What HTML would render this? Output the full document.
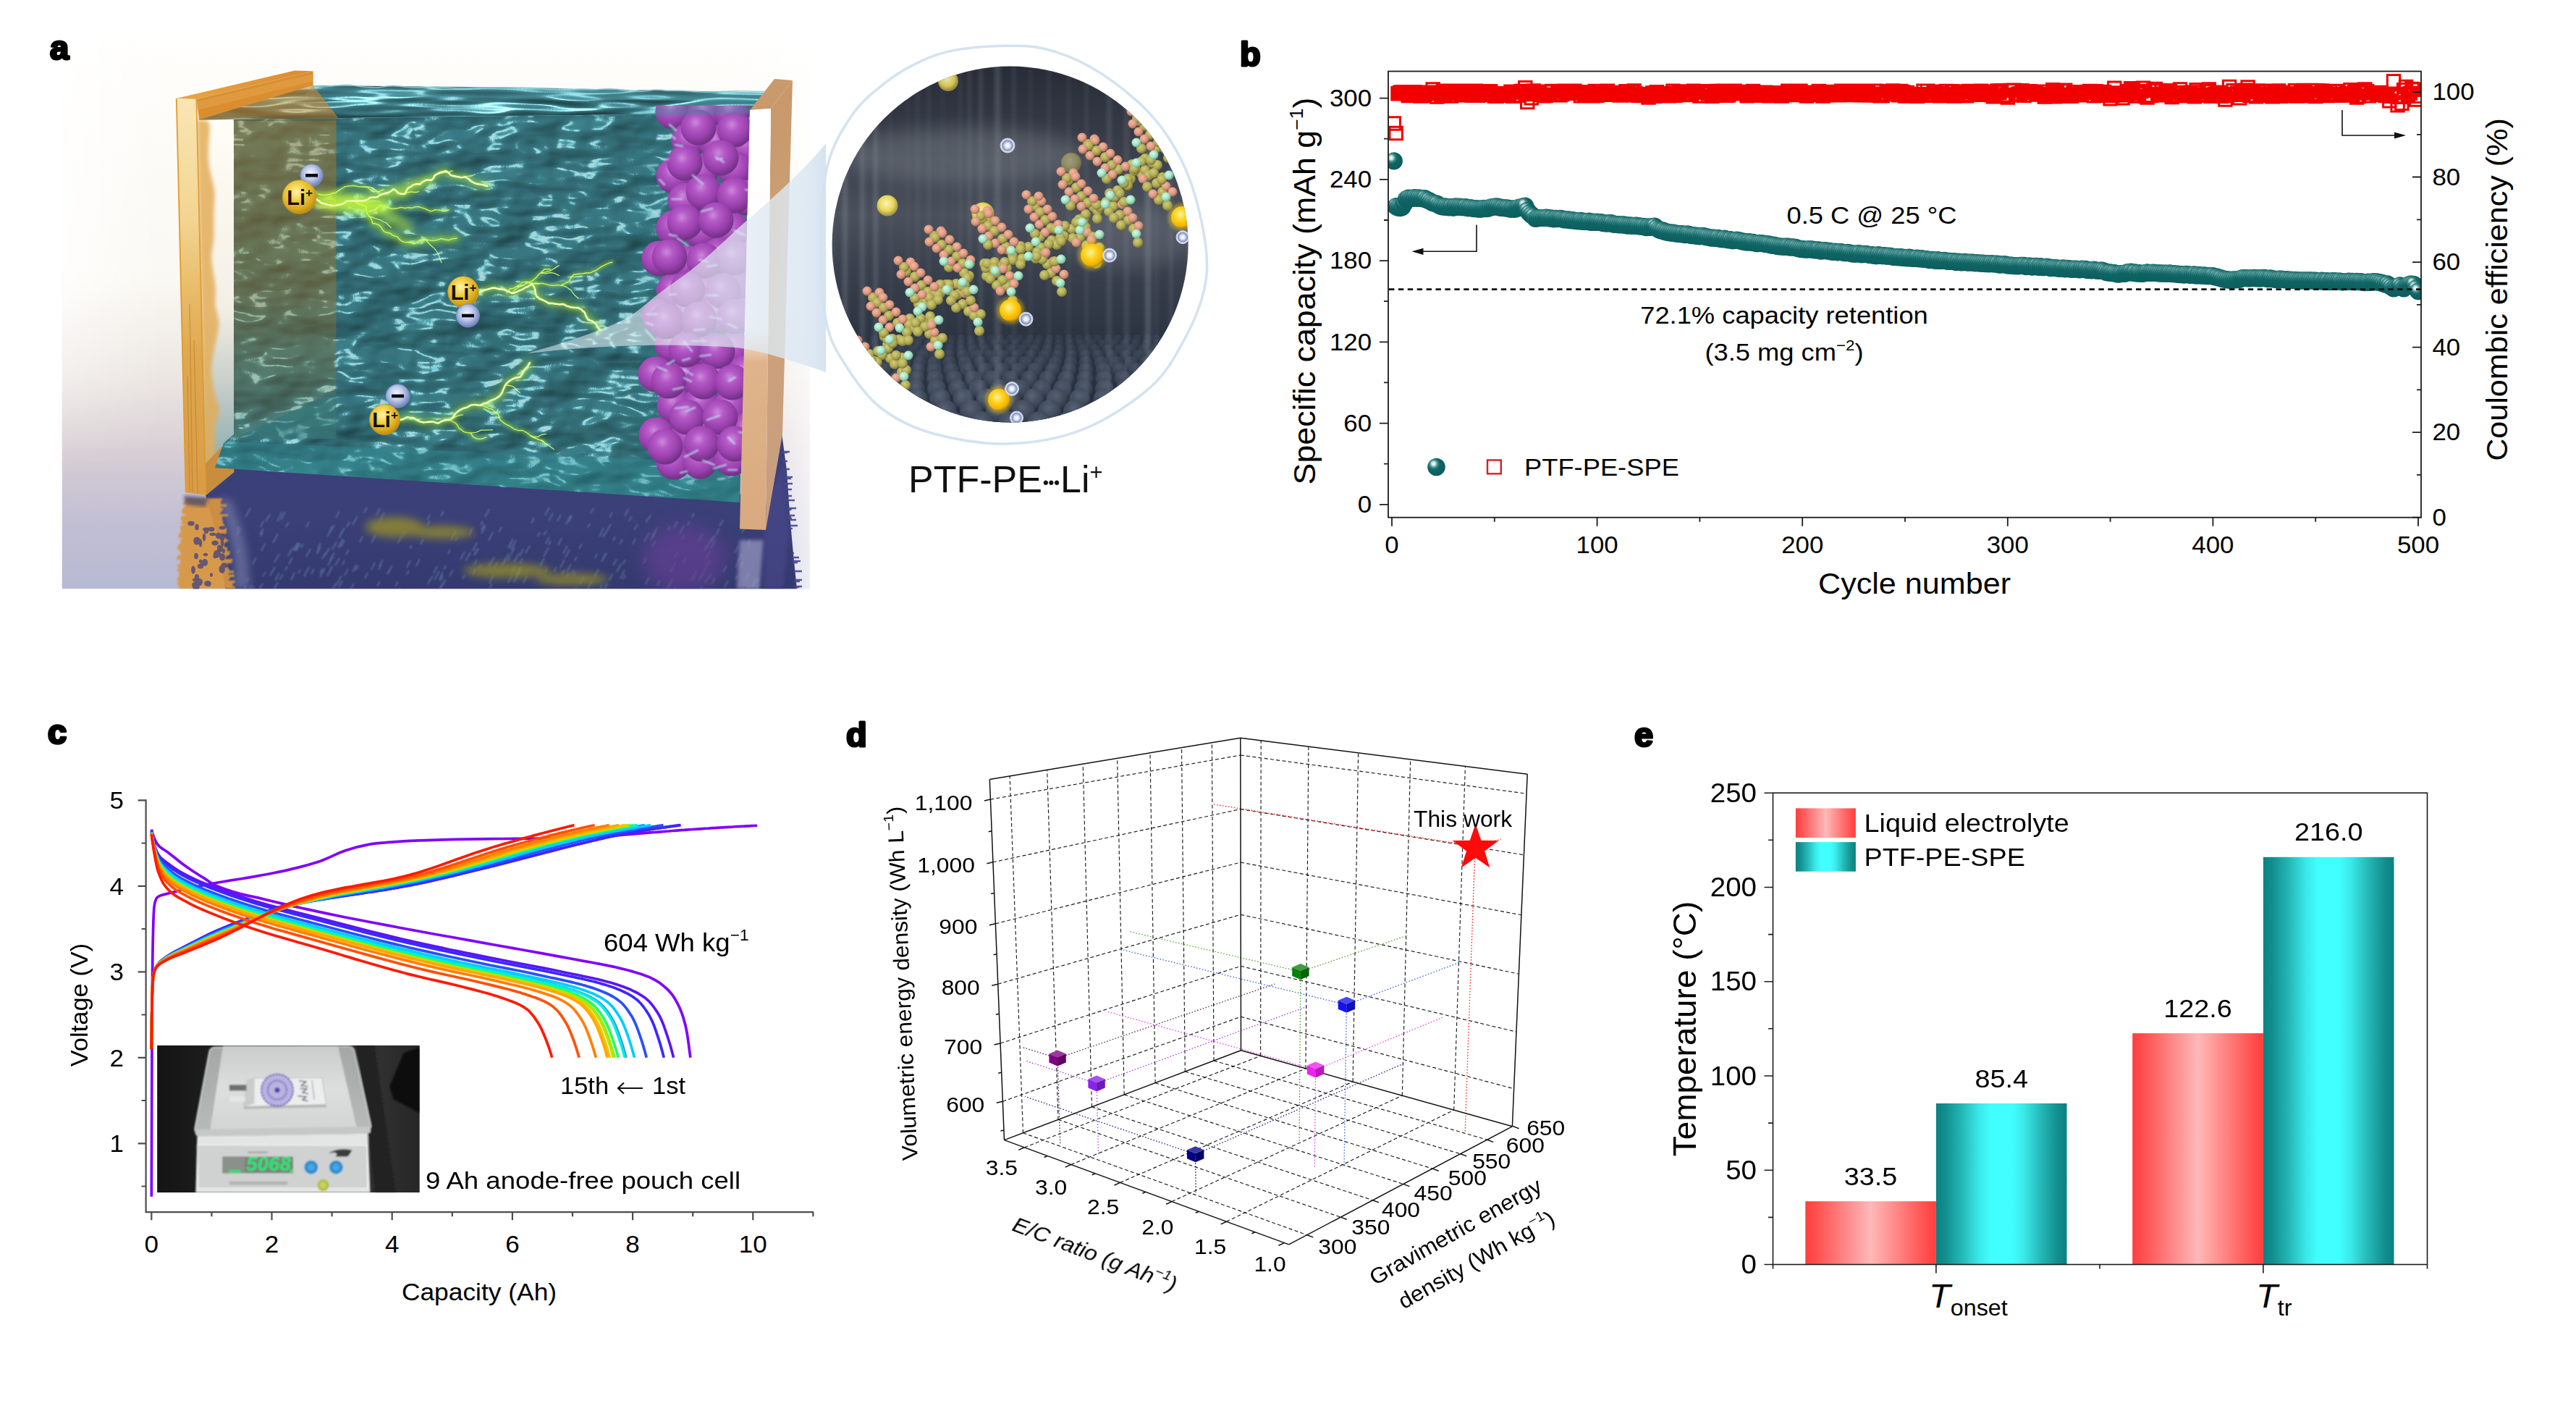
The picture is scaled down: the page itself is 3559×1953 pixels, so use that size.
<!DOCTYPE html>
<html><head><meta charset="utf-8"><title>Figure</title>
<style>html,body{margin:0;padding:0;background:#fff;overflow:hidden}svg{display:block}text{font-family:"Liberation Sans",sans-serif}</style>
</head><body>
<svg width="3559" height="1953" viewBox="0 0 3559 1953">
<rect width="3559" height="1953" fill="#fff"/>
<g font-family="Liberation Sans, sans-serif">
<defs><clipPath id="aimg"><rect x="85.5" y="47" width="1033" height="766.4"/></clipPath><linearGradient id="abg" x1="0" y1="0" x2="0" y2="1"><stop offset="0" stop-color="#ffffff"/><stop offset="0.07" stop-color="#fefdfa"/><stop offset="0.45" stop-color="#faf8f2"/><stop offset="0.62" stop-color="#ece6e2"/><stop offset="0.76" stop-color="#d6cdd4"/><stop offset="0.88" stop-color="#c2bfd4"/><stop offset="1" stop-color="#b7b9d3"/></linearGradient><linearGradient id="aleft" x1="0" y1="0" x2="1" y2="0"><stop offset="0" stop-color="#fff" stop-opacity="0.75"/><stop offset="1" stop-color="#fff" stop-opacity="0"/></linearGradient><linearGradient id="amkg" x1="0" y1="0" x2="0" y2="1"><stop offset="0" stop-color="#fff"/><stop offset="0.42" stop-color="#fff"/><stop offset="0.78" stop-color="#000"/><stop offset="1" stop-color="#000"/></linearGradient><linearGradient id="anavy" x1="0" y1="0" x2="0" y2="1"><stop offset="0" stop-color="#3a3f7a"/><stop offset="0.5" stop-color="#3b4079"/><stop offset="1" stop-color="#343a6e"/></linearGradient><linearGradient id="apf" x1="0" y1="0" x2="0" y2="1"><stop offset="0" stop-color="#f9e6b4"/><stop offset="0.3" stop-color="#f3d592"/><stop offset="0.5" stop-color="#e8ba66"/><stop offset="0.65" stop-color="#dfa84f"/><stop offset="1" stop-color="#d99c45"/></linearGradient><linearGradient id="atopf" x1="0" y1="1" x2="1" y2="0"><stop offset="0" stop-color="#e8a545"/><stop offset="1" stop-color="#db8c2c"/></linearGradient><linearGradient id="asliv" x1="0" y1="0" x2="0" y2="1"><stop offset="0" stop-color="#fffdf6"/><stop offset="0.5" stop-color="#f4efe6"/><stop offset="0.7" stop-color="#c9cfca"/><stop offset="0.9" stop-color="#8fb0b2"/><stop offset="1" stop-color="#6fa0a4"/></linearGradient><linearGradient id="aliqf" x1="0" y1="0" x2="0" y2="1"><stop offset="0" stop-color="#3d8590"/><stop offset="0.12" stop-color="#34747f"/><stop offset="0.5" stop-color="#2d6872"/><stop offset="0.85" stop-color="#33767f"/><stop offset="1" stop-color="#3a8892"/></linearGradient><linearGradient id="aliqt" x1="0" y1="0" x2="0" y2="1"><stop offset="0" stop-color="#4a9aa6"/><stop offset="0.4" stop-color="#357f8b"/><stop offset="1" stop-color="#2b727c"/></linearGradient><linearGradient id="arpf" x1="0" y1="0" x2="0" y2="1"><stop offset="0" stop-color="#ffffff"/><stop offset="0.52" stop-color="#fffdfa"/><stop offset="0.6" stop-color="#dfb48c"/><stop offset="1" stop-color="#d9a97f"/></linearGradient><linearGradient id="arps" x1="0" y1="0" x2="0" y2="1"><stop offset="0" stop-color="#c8986a"/><stop offset="0.5" stop-color="#cda27a"/><stop offset="1" stop-color="#c79d80"/></linearGradient><radialGradient id="apur" cx="0.42" cy="0.36" r="0.62"><stop offset="0" stop-color="#e08ae4"/><stop offset="0.3" stop-color="#c455cd"/><stop offset="0.7" stop-color="#a83ab3"/><stop offset="1" stop-color="#7c2a88"/></radialGradient><radialGradient id="ali" cx="0.42" cy="0.35" r="0.65"><stop offset="0" stop-color="#fff3a8"/><stop offset="0.4" stop-color="#f0cf45"/><stop offset="0.8" stop-color="#d8a71e"/><stop offset="1" stop-color="#b98a14"/></radialGradient><radialGradient id="aan" cx="0.45" cy="0.4" r="0.6"><stop offset="0" stop-color="#f4f7ff"/><stop offset="0.45" stop-color="#c3cdec"/><stop offset="0.8" stop-color="#8d9cd0"/><stop offset="1" stop-color="#6c7cb8"/></radialGradient><linearGradient id="abrn" x1="0" y1="0" x2="0" y2="1"><stop offset="0" stop-color="#b07a26" stop-opacity="0.5"/><stop offset="0.55" stop-color="#a87624" stop-opacity="0.4"/><stop offset="1" stop-color="#8a7a40" stop-opacity="0.18"/></linearGradient><linearGradient id="acone" x1="0" y1="0" x2="1" y2="0"><stop offset="0" stop-color="#eef3f6" stop-opacity="0.5"/><stop offset="0.5" stop-color="#e6eef4" stop-opacity="0.62"/><stop offset="0.93" stop-color="#dbe7f2" stop-opacity="0.85"/><stop offset="1" stop-color="#d3e2f0" stop-opacity="0.95"/></linearGradient><filter id="awf" x="0" y="0" width="1" height="1" color-interpolation-filters="sRGB"><feTurbulence type="fractalNoise" baseFrequency="0.0105 0.02" numOctaves="3" seed="9" result="n"/><feSpecularLighting in="n" surfaceScale="27" specularConstant="1.2" specularExponent="60" lighting-color="#bfe9ee" result="spec"><feDistantLight azimuth="225" elevation="47"/></feSpecularLighting><feDiffuseLighting in="n" surfaceScale="15" diffuseConstant="1.0" lighting-color="#4a949f" result="diff"><feDistantLight azimuth="225" elevation="52"/></feDiffuseLighting><feFlood flood-color="#2a626c" result="fl"/><feComposite in="diff" in2="fl" operator="arithmetic" k1="0" k2="0.72" k3="0.28" k4="0" result="base"/><feComposite in="spec" in2="base" operator="arithmetic" k1="0" k2="0.8" k3="1" k4="0"/></filter><filter id="awt" x="0" y="0" width="1" height="1" color-interpolation-filters="sRGB"><feTurbulence type="fractalNoise" baseFrequency="0.008 0.05" numOctaves="2" seed="21" result="n"/><feSpecularLighting in="n" surfaceScale="14" specularConstant="1.0" specularExponent="40" lighting-color="#d2f2f6" result="spec"><feDistantLight azimuth="250" elevation="48"/></feSpecularLighting><feDiffuseLighting in="n" surfaceScale="10" diffuseConstant="1.0" lighting-color="#4a8f99" result="diff"><feDistantLight azimuth="250" elevation="58"/></feDiffuseLighting><feFlood flood-color="#2c6b76" result="fl"/><feComposite in="diff" in2="fl" operator="arithmetic" k1="0" k2="0.7" k3="0.3" k4="0" result="base"/><feComposite in="spec" in2="base" operator="arithmetic" k1="0" k2="0.7" k3="1" k4="0"/></filter><filter id="ab1" x="-10%" y="-10%" width="120%" height="120%"><feGaussianBlur stdDeviation="1.1"/></filter><filter id="ab2" x="-10%" y="-10%" width="120%" height="120%"><feGaussianBlur stdDeviation="2.5"/></filter><filter id="ab5" x="-20%" y="-20%" width="140%" height="140%"><feGaussianBlur stdDeviation="6"/></filter><filter id="ab12" x="-30%" y="-30%" width="160%" height="160%"><feGaussianBlur stdDeviation="13"/></filter></defs>
<g clip-path="url(#aimg)">
<rect x="85.5" y="47" width="1033" height="766.4" fill="url(#abg)"/>
<mask id="amk" maskUnits="userSpaceOnUse" x="80" y="40" width="200" height="780"><rect x="80" y="40" width="200" height="780" fill="url(#amkg)"/></mask>
<rect x="85.5" y="47" width="150" height="766.4" fill="url(#aleft)" mask="url(#amk)"/>
<rect x="85.5" y="47" width="120" height="766.4" fill="url(#aleft)" transform="translate(1204 0) scale(-1 1)"/>
<path d="M284 684L323 640L1022 682L1058 700L1080 598L1087 650L1091 710L1096 765L1101 813.4L311 813.4L298.5 734Z" fill="url(#anavy)"/>
<path d="M300 690Q330 760 322 813.4L345 813.4Q345 750 318 690Z" fill="#8a90b8" opacity="0.5" filter="url(#ab5)"/>
<path d="M650 763l-7 12M660 757l-5 10M455 757l-6 10M899 711l-4 7M386 791l-6 11M351 810l-7 13M797 769l-3 6M331 759l-3 5M459 727l-3 5M659 749l-6 12M699 772l-5 9M804 751l-4 7M1048 812l-6 12M837 735l-4 7M531 708l-6 11M612 795l-4 8M1019 795l-3 5M473 802l-5 9M1036 745l-3 6M780 787l-4 7M384 737l-7 13M873 713l-4 7M394 707l-6 11M450 763l-5 9M459 782l-3 6M790 713l-5 8M475 730l-7 13M906 734l-7 12M474 744l-7 12M789 711l-7 13M476 729l-6 11M560 733l-3 6M386 765l-4 7M759 742l-5 9M1020 754l-5 10M953 720l-3 6M983 792l-4 7M459 783l-7 13M464 806l-7 12M761 747l-3 6M348 808l-4 7M834 729l-6 12M755 733l-4 6M846 708l-4 7M728 795l-5 10M525 803l-4 7M332 730l-5 9M364 720l-4 8M738 715l-4 8M970 810l-6 10M825 765l-3 6M346 702l-7 12M832 808l-3 5M784 754l-6 11M553 812l-3 6M719 783l-7 12M858 779l-6 11M988 739l-6 10M978 798l-5 8M897 797l-5 10M776 743l-5 10M764 709l-6 10M1045 799l-6 11M604 782l-5 10M642 794l-3 6M868 703l-5 10M671 726l-6 11M683 769l-7 12M507 701l-4 7M815 723l-3 6M981 774l-5 9M971 737l-6 10M465 748l-6 11M987 799l-4 8M746 735l-3 6M682 794l-6 12M839 806l-4 7M443 750l-4 7M476 746l-6 10M681 735l-6 12M1037 751l-3 6M343 798l-3 5M837 764l-4 7M419 751l-3 5M926 727l-3 6M354 770l-5 9M780 773l-6 11M1020 777l-4 7M667 720l-3 5M665 780l-4 6M519 739l-6 11M700 769l-6 11M607 789l-7 12M384 804l-6 11M415 751l-6 10M984 742l-5 10M962 789l-7 13M659 773l-4 7M847 792l-6 10M844 724l-7 12M1036 809l-5 9M897 736l-7 12M945 739l-3 6M642 762l-6 11M676 703l-6 11M367 790l-4 6M565 788l-3 6M429 758l-6 11M933 777l-7 13M680 806l-3 6M482 759l-4 7M852 772l-5 9M936 763l-4 7M598 795l-7 12M472 795l-7 13M703 764l-4 7M711 756l-5 10M340 809l-5 9M612 790l-5 10M678 777l-3 6M713 746l-7 13M994 730l-5 9M413 749l-6 12M977 753l-4 8M460 769l-7 12M415 787l-3 5M462 725l-6 10M555 740l-5 10M397 782l-3 6M693 728l-4 7M707 749l-4 8M622 759l-3 6M469 771l-6 10M707 795l-5 10M945 726l-6 11M912 801l-4 8M550 803l-4 7M1049 799l-3 6M495 781l-4 7M391 793l-5 8M897 714l-5 8M820 702l-4 7M818 802l-7 13M404 757l-6 11M687 777l-4 7M372 712l-3 5M723 758l-5 10M427 721l-4 7M933 811l-7 12M390 707l-7 13M657 786l-4 8M661 758l-5 8M759 701l-6 11M936 720l-5 9M860 745l-4 7M441 757l-3 5M972 790l-6 11M948 770l-5 8M758 756l-7 13M908 729l-7 12M863 787l-6 12M616 800l-7 12M827 786l-6 11M616 781l-3 6M569 753l-3 5M580 772l-5 10M489 806l-6 10M567 774l-5 10M709 744l-7 13M789 779l-6 11M769 783l-4 7M613 706l-4 7M594 711l-4 7M981 762l-5 9M1026 764l-7 13M786 791l-3 6M756 785l-3 5M999 718l-5 9M443 755l-5 10M363 806l-5 8M705 767l-4 8M529 773l-5 9M527 780l-4 7M330 727l-3 5M434 785l-4 8M975 784l-3 5M1042 806l-3 6M981 748l-5 9M1030 727l-5 9M1004 781l-5 9M1035 791l-5 10M404 770l-5 9M469 706l-5 9M411 750l-6 10M653 729l-5 10M626 787l-5 9M1048 807l-6 11M494 713l-7 12M893 770l-4 8M518 777l-5 10M752 771l-6 11M459 728l-7 13M988 798l-3 5M364 730l-5 8M775 711l-5 9M373 710l-6 10M722 771l-4 8M669 724l-4 8M864 794l-3 6M407 791l-5 10M881 724l-5 8M508 791l-4 8M797 811l-4 8M720 784l-7 12M632 741l-3 6M959 709l-3 6M732 754l-6 10M538 787l-3 6M476 774l-3 6M542 781l-6 11M527 716l-4 8M850 741l-3 6M838 764l-7 12M1006 802l-5 9M906 734l-4 8M612 805l-7 12M501 741l-4 8M585 744l-4 8M462 763l-6 11M715 794l-5 10M449 785l-7 12M525 702l-5 9M717 764l-7 13M795 790l-3 6M719 788l-3 6M380 783l-7 12M382 771l-3 6M864 773l-4 7M481 786l-5 9M878 744l-4 8M1027 775l-5 9M712 781l-6 11M988 746l-6 12M807 796l-6 11M929 800l-7 13M787 759l-6 11M906 747l-5 8M427 783l-7 13M594 719l-4 7M630 733l-7 13M363 735l-3 6M793 787l-4 6M366 751l-5 10M399 721l-4 7M492 780l-5 10M483 721l-4 7M446 785l-4 7" stroke="#6f8fb0" stroke-width="2" opacity="0.5" fill="none" filter="url(#ab1)"/>
<g filter="url(#ab5)" fill="#9a9226" opacity="0.75"><ellipse cx="545" cy="728" rx="40" ry="14"/><ellipse cx="610" cy="735" rx="45" ry="9"/><ellipse cx="700" cy="788" rx="60" ry="10"/><ellipse cx="790" cy="800" rx="50" ry="8"/></g>
<g filter="url(#ab12)" fill="#6a3f98" opacity="0.62"><ellipse cx="945" cy="772" rx="58" ry="46"/></g>
<path d="M1089 718h11M1087 704h6M1096 789h12M1085 676h9M1097 803h8M1082 651h4M1097 801h11M1085 685h9M1088 712h6M1098 810h10M1083 654h4M1087 703h7M1094 770h10M1090 730h5M1081 637h7M1083 659h12M1088 712h10M1098 811h6M1089 716h5M1093 764h4M1094 775h12M1094 775h5M1083 661h10M1080 625h8M1087 702h13M1090 726h12M1084 668h11M1086 691h12M1080 624h11M1082 648h9M1088 714h5M1095 777h7M1084 669h5M1084 668h8" stroke="#45478a" stroke-width="2.4" fill="none" opacity="0.9"/>
<path d="M1022 746L1055 746L1049 813.4L1018 813.4Z" fill="#aaa6cf" opacity="0.62" filter="url(#ab2)"/>
<path d="M1056 700L1082 640L1090 740L1082 813.4L1056 813.4Z" fill="#4d4a8e" opacity="0.55" filter="url(#ab2)"/>

<path d="M256 690.0H307M255 692.7H305M253 695.4H305M257 698.1H313M254 700.8H305M252 703.5H308M251 706.2H306M252 708.9H304M256 711.6H315M250 714.3H307M250 717.0H307M252 719.7H308M250 722.4H308M253 725.1H310M249 727.8H310M249 730.5H313M251 733.2H313M249 735.9H313M247 738.6H306M247 741.3H310M251 744.0H312M249 746.7H315M250 749.4H311M247 752.1H309M246 754.8H310M245 757.5H314M248 760.2H314M249 762.9H318M251 765.6H317M246 768.3H313M244 771.0H311M249 773.7H321M249 776.4H320M248 779.1H314M245 781.8H314M248 784.5H315M245 787.2H317M248 789.9H323M247 792.6H316M248 795.3H324M246 798.0H318M245 800.7H316M247 803.4H325M245 806.1H322M247 808.8H321M248 811.5H325" stroke="#d8963f" stroke-width="3.4" opacity="0.92" filter="url(#ab1)"/>
<g fill="#4a467c" opacity="0.8"><ellipse cx="272" cy="728" rx="2.7" ry="4.3"/><ellipse cx="297" cy="750" rx="4.8" ry="3.4"/><ellipse cx="285" cy="731" rx="4.9" ry="2.5"/><ellipse cx="307" cy="770" rx="3.7" ry="4.2"/><ellipse cx="275" cy="804" rx="5.0" ry="5.3"/><ellipse cx="292" cy="731" rx="4.5" ry="3.2"/><ellipse cx="307" cy="742" rx="3.7" ry="5.3"/><ellipse cx="271" cy="770" rx="2.2" ry="2.1"/><ellipse cx="271" cy="811" rx="4.8" ry="4.6"/><ellipse cx="277" cy="782" rx="4.2" ry="3.5"/><ellipse cx="292" cy="794" rx="2.0" ry="2.8"/><ellipse cx="285" cy="733" rx="3.2" ry="4.3"/><ellipse cx="271" cy="768" rx="2.8" ry="4.3"/><ellipse cx="279" cy="779" rx="2.1" ry="4.7"/><ellipse cx="269" cy="808" rx="3.8" ry="3.9"/><ellipse cx="283" cy="777" rx="4.1" ry="5.0"/><ellipse cx="300" cy="765" rx="5.0" ry="5.4"/><ellipse cx="305" cy="758" rx="3.3" ry="4.3"/><ellipse cx="307" cy="768" rx="3.6" ry="3.7"/><ellipse cx="307" cy="750" rx="2.2" ry="4.9"/><ellipse cx="307" cy="787" rx="3.8" ry="5.0"/><ellipse cx="277" cy="775" rx="2.2" ry="2.5"/><ellipse cx="284" cy="766" rx="3.2" ry="2.2"/><ellipse cx="297" cy="768" rx="2.7" ry="3.2"/><ellipse cx="282" cy="742" rx="2.2" ry="5.6"/><ellipse cx="310" cy="781" rx="4.6" ry="3.7"/><ellipse cx="302" cy="740" rx="4.2" ry="4.3"/><ellipse cx="307" cy="729" rx="4.4" ry="2.5"/><ellipse cx="289" cy="807" rx="2.0" ry="3.0"/><ellipse cx="277" cy="750" rx="2.2" ry="5.6"/><ellipse cx="303" cy="757" rx="3.1" ry="4.3"/><ellipse cx="264" cy="723" rx="4.7" ry="3.2"/><ellipse cx="287" cy="806" rx="4.9" ry="3.9"/><ellipse cx="272" cy="747" rx="4.8" ry="5.6"/><ellipse cx="272" cy="797" rx="3.1" ry="3.9"/><ellipse cx="271" cy="801" rx="5.0" ry="2.8"/><ellipse cx="294" cy="738" rx="4.6" ry="2.2"/><ellipse cx="267" cy="787" rx="2.9" ry="5.6"/><ellipse cx="305" cy="786" rx="2.4" ry="4.8"/><ellipse cx="309" cy="761" rx="2.2" ry="2.9"/></g>
<path d="M254 684L288 687L284 700L256 697Z" fill="#3a3f6e" opacity="0.7" filter="url(#ab2)"/>
<polygon points="271.9,164 323,164 323,602 309,612 297,646 323.4,652 284.8,683.7" fill="url(#asliv)"/>
<path d="M273.0 166.0C275.6 166.7 286.2 163.5 288.8 170.0C291.3 176.5 288.1 194.8 288.1 204.8C288.2 214.8 287.7 220.2 289.1 230.0C290.5 239.9 295.4 253.6 296.4 264.0C297.5 274.5 295.7 281.6 295.5 292.7C295.3 303.8 295.9 320.0 295.4 330.6C294.9 341.3 292.1 346.0 292.4 356.8C292.8 367.6 296.7 384.5 297.6 395.4C298.5 406.4 297.0 414.0 297.8 422.4C298.6 430.9 302.4 437.1 302.4 446.0C302.4 455.0 299.2 465.7 297.5 476.0C295.9 486.2 292.6 496.8 292.4 507.5C292.1 518.2 294.2 530.4 295.9 540.3C297.6 550.2 302.5 558.5 302.7 566.8C302.8 575.2 297.8 580.5 296.9 590.4C296.0 600.3 298.0 616.1 297.2 626.0C296.3 635.9 292.9 646.0 292.0 650.0L284 683L272 166Z" fill="#e3ad58" opacity="0.85" filter="url(#ab2)"/>
<polygon points="271.9,137 432.6,98.3 432.6,119 275,166" fill="#da8e30"/>
<polygon points="271.9,140 432.6,102 432.6,112 273,152" fill="#e3a24a" opacity="0.6"/>
<polygon points="243.2,136 407,97.4 432.6,98.3 271.9,137" fill="url(#atopf)"/>
<polygon points="284.8,683.7 323.4,652 323,600 284,640" fill="#c98d3e"/>
<polygon points="243.2,136 271.9,137 284.8,683.7 256.3,680.5" fill="url(#apf)"/>
<path d="M243.8 136L256.8 680M271.4 137L284.2 683" stroke="#e09a2e" stroke-width="2" fill="none" opacity="0.9"/>
<path d="M262 420L266 680M268 470L273 682M259 520L262 680" stroke="#b97a28" stroke-width="1.4" fill="none" opacity="0.55"/>
<clipPath id="alf"><polygon points="323.0,165.0 1036.0,156.0 1022.0,694.0 297.0,646.0 309.0,612.0 323.0,600.0"/></clipPath><clipPath id="alt"><polygon points="432.6,118.0 700.0,120.5 1062.0,128.0 1036.0,156.0 275.0,165.5"/></clipPath><g clip-path="url(#alt)"><rect x="270" y="112" width="800" height="60" filter="url(#awt)"/><polygon points="432.6,118 1062,128 1040,140 420,132" fill="#5aa7b2" opacity="0.35"/><polygon points="271.9,137 432.6,98 432.6,118 470,166 275,166" fill="#d98c30" opacity="0.55"/></g><g clip-path="url(#alf)"><rect x="290" y="150" width="760" height="560" filter="url(#awf)"/><rect x="290" y="150" width="760" height="560" fill="url(#aliqf)" opacity="0.30"/><rect x="323" y="160" width="141.5" height="446" fill="url(#abrn)"/><path d="M323 606L464.5 540V606Z" fill="#2a7680" opacity="0.5"/><path d="M297 646L309 610L1022 640V694Z" fill="#2f8b94" opacity="0.35"/></g><path d="M323 166L1036 157" stroke="#1d4f58" stroke-width="5" opacity="0.45" filter="url(#ab2)"/><path d="M432.0 118.2C434.8 118.4 441.2 119.7 449.0 119.5C456.8 119.4 470.3 117.1 478.8 117.2C487.3 117.2 493.2 119.2 500.2 119.8C507.1 120.4 513.3 120.9 520.3 120.7C527.4 120.5 534.8 118.6 542.3 118.6C549.8 118.5 558.1 120.0 565.2 120.4C572.3 120.8 577.3 120.7 585.0 120.7C592.7 120.8 603.4 120.4 611.5 120.7C619.6 120.9 625.8 121.9 633.6 122.0C641.4 122.1 649.5 121.6 658.5 121.4C667.6 121.1 678.5 120.7 687.8 120.7C697.0 120.6 705.9 120.9 714.2 121.0C722.6 121.2 730.5 121.2 738.0 121.6C745.4 122.0 751.1 123.2 759.0 123.6C767.0 124.0 778.2 124.1 785.6 124.1C793.0 124.0 797.5 123.4 803.4 123.4C809.3 123.3 814.3 124.0 820.9 123.9C827.5 123.7 835.3 122.3 842.9 122.5C850.5 122.7 858.7 124.4 866.4 125.0C874.2 125.5 882.9 126.0 889.6 125.8C896.3 125.6 901.3 123.9 906.5 123.8C911.7 123.6 914.9 124.8 920.8 125.1C926.6 125.3 935.2 124.9 941.7 125.2C948.3 125.5 954.4 126.3 959.9 126.6C965.5 126.9 968.7 127.2 975.1 127.2C981.5 127.1 989.9 126.6 998.2 126.3C1006.5 126.1 1017.7 125.8 1024.9 125.8C1032.0 125.7 1036.0 126.1 1041.2 126.2C1046.4 126.3 1053.4 126.4 1055.9 126.5" stroke="#8fc9d2" stroke-width="1.6" fill="none" opacity="0.9"/>
<clipPath id="asp"><polygon points="870,146 1037,146 1024,676 870,672"/></clipPath><defs><circle id="aps" r="24.5" fill="url(#apur)"/></defs><g clip-path="url(#asp)"><use href="#aps" x="930" y="154"/><use href="#aps" x="974" y="155"/><use href="#aps" x="1011" y="155"/><use href="#aps" x="952" y="194"/><use href="#aps" x="991" y="197"/><use href="#aps" x="1032" y="203"/><use href="#aps" x="931" y="243"/><use href="#aps" x="968" y="238"/><use href="#aps" x="1015" y="233"/><use href="#aps" x="947" y="277"/><use href="#aps" x="990" y="277"/><use href="#aps" x="1031" y="273"/><use href="#aps" x="931" y="315"/><use href="#aps" x="969" y="319"/><use href="#aps" x="1011" y="318"/><use href="#aps" x="911" y="357"/><use href="#aps" x="949" y="363"/><use href="#aps" x="993" y="353"/><use href="#aps" x="1033" y="359"/><use href="#aps" x="931" y="402"/><use href="#aps" x="972" y="402"/><use href="#aps" x="1013" y="397"/><use href="#aps" x="911" y="437"/><use href="#aps" x="952" y="435"/><use href="#aps" x="991" y="435"/><use href="#aps" x="1034" y="435"/><use href="#aps" x="929" y="476"/><use href="#aps" x="971" y="483"/><use href="#aps" x="1014" y="482"/><use href="#aps" x="906" y="517"/><use href="#aps" x="947" y="520"/><use href="#aps" x="991" y="516"/><use href="#aps" x="1030" y="515"/><use href="#aps" x="932" y="560"/><use href="#aps" x="969" y="557"/><use href="#aps" x="1010" y="562"/><use href="#aps" x="907" y="601"/><use href="#aps" x="952" y="602"/><use href="#aps" x="988" y="596"/><use href="#aps" x="1033" y="594"/><use href="#aps" x="931" y="638"/><use href="#aps" x="967" y="637"/><use href="#aps" x="1011" y="633"/><use href="#aps" x="965" y="176"/><use href="#aps" x="1015" y="179"/><use href="#aps" x="946" y="225"/><use href="#aps" x="996" y="218"/><use href="#aps" x="972" y="265"/><use href="#aps" x="1015" y="270"/><use href="#aps" x="946" y="307"/><use href="#aps" x="989" y="304"/><use href="#aps" x="925" y="355"/><use href="#aps" x="973" y="360"/><use href="#aps" x="1014" y="356"/><use href="#aps" x="950" y="400"/><use href="#aps" x="999" y="402"/><use href="#aps" x="921" y="444"/><use href="#aps" x="966" y="441"/><use href="#aps" x="1015" y="437"/><use href="#aps" x="948" y="483"/><use href="#aps" x="991" y="485"/><use href="#aps" x="924" y="526"/><use href="#aps" x="972" y="527"/><use href="#aps" x="1012" y="528"/><use href="#aps" x="949" y="576"/><use href="#aps" x="995" y="576"/><use href="#aps" x="919" y="617"/><use href="#aps" x="969" y="613"/><use href="#aps" x="1015" y="613"/></g><path d="M959 456l14 -1M925 172l9 8M969 292l15 -4M956 471l19 -0M971 636l16 6M977 368l13 -2M1006 604l9 9M895 229l14 -1M940 653l9 -2M922 503l9 -5M966 359l11 2M981 437l15 4M1006 649l12 -0M1014 318l15 7M986 647l17 -5M977 408l15 -0M930 538l14 -3M925 324l10 2M908 192l8 -3M989 217l11 7M957 242l14 12M897 288l12 8M945 522l10 5M936 329l14 10M1006 447l12 6M977 580l17 -6M943 498l10 -3M892 456l13 14M909 507l12 5M946 631l18 -9M990 220l8 -1M992 662l9 -1M894 434l14 -0M933 564l18 -2M945 472l11 13M945 510l12 8M911 248l7 7M925 407l9 -1M893 446l9 3M928 275l14 -0M926 186l7 6M933 200l10 2M1030 262l18 3M948 568l12 -5M967 492l15 -2M1021 597l20 2M1007 526l9 -5M914 220l9 -0" stroke="#cfeeff" stroke-width="2.6" stroke-linecap="round" opacity="0.75" filter="url(#ab1)" fill="none"/>
<polygon points="880,150 1036,150 1023,694 880,684" fill="#2b7f8c" opacity="0.10"/>
<polygon points="905,146 1037,146 1036,157 905,160" fill="#3f8f9b" opacity="0.42" filter="url(#ab1)"/>
<polygon points="1065,150 1095,111 1081,600 1058,732" fill="url(#arps)"/>
<polygon points="1036,152 1070,109 1095,111 1065,150" fill="#c99a6c"/>
<polygon points="1036,152 1065,150 1058,732 1022,730.5" fill="url(#arpf)"/>
<g fill="none" stroke-linejoin="round" stroke-linecap="round"><g filter="url(#ab5)"><ellipse cx="486" cy="281" rx="52" ry="13" fill="#ccff40" opacity="0.8" transform="rotate(6 486 281)"/><ellipse cx="540" cy="300" rx="38" ry="9" fill="#bff53a" opacity="0.55" transform="rotate(32 540 300)"/><ellipse cx="560" cy="262" rx="40" ry="8" fill="#bff53a" opacity="0.5" transform="rotate(-22 560 262)"/></g><path d="M437.0 275.0L438.6 276.2L440.4 277.2L442.0 278.5L443.3 280.1L445.2 280.8L447.3 281.1L449.2 281.7L451.1 282.4L453.1 282.9L455.1 283.1L457.1 283.5L459.0 284.1L461.0 283.9L463.0 283.8L465.0 283.5L467.0 283.0L468.7 282.7L470.4 282.5L472.0 281.9L473.6 281.4L475.1 280.5L476.5 279.5L478.1 278.8L479.5 277.9L481.2 277.8L482.9 277.9L484.6 277.6L486.3 277.5L487.9 277.5L489.6 277.6L491.3 278.0L493.0 278.0L495.3 277.5L497.7 277.3L500.1 277.3L502.5 277.3L504.7 276.5L507.0 275.8L509.1 274.6L511.1 273.2L513.4 272.7L515.8 272.5L518.2 272.5L520.6 272.4L522.6 271.2L524.5 269.6L526.8 269.0L529.0 268.0L531.0 267.4L533.0 266.7L535.0 266.2L537.1 265.8L538.9 264.8L540.7 263.8L542.3 262.3L544.0 261.1L545.7 262.5L547.5 263.7L548.9 265.3L550.5 266.8L552.6 267.3L554.7 267.8L556.8 267.9L559.0 268.0L560.1 266.0L561.3 264.1L562.4 262.0L563.6 260.0L565.5 258.8L567.6 257.8L569.4 256.5L571.3 255.1L573.6 254.7L575.8 254.2L578.2 254.3L580.5 254.4L582.0 252.6L583.9 251.2L586.0 250.1L588.0 249.0L589.0 248.8L590.1 248.6L591.1 248.6L592.1 248.7L593.2 248.7L594.2 248.7L595.3 248.8L596.3 248.8L596.9 248.0L597.7 247.2L598.4 246.5L599.1 245.7L599.5 244.7L599.7 243.7L600.4 242.9L601.0 242.0L602.8 240.9L604.6 240.0L606.5 239.0L608.3 237.9L610.4 237.6L612.3 236.9L614.4 236.5L616.5 236.2L618.0 237.6L619.8 238.9L621.4 240.3L622.7 241.9L624.7 242.7L626.9 243.0L628.9 243.5L631.0 244.0L633.9 244.4L636.7 245.1L639.6 244.9L642.5 244.4L644.9 245.8L647.5 247.1L649.5 249.2L651.9 250.9L654.3 252.2L656.9 253.3L659.5 254.0L662.3 254.4L665.0 254.9L667.7 255.4L670.3 256.4L673.0 257.0M493.0 280.0L494.5 280.9L496.1 281.7L497.8 282.3L499.5 282.9L501.2 283.4L502.7 284.2L504.4 284.8L506.0 285.4L506.0 287.3L505.8 289.1L506.1 290.9L506.5 292.7L507.3 294.3L507.9 296.0L508.9 297.5L510.0 299.0L510.9 300.0L511.9 301.0L512.7 302.1L513.3 303.4L513.8 304.6L514.2 305.9L514.4 307.3L514.8 308.6L516.2 308.7L517.5 308.7L518.9 309.1L520.1 309.6L521.5 309.9L522.8 310.4L523.8 311.3L525.0 312.0L525.8 313.1L526.7 314.2L527.4 315.4L528.1 316.6L529.0 317.6L529.8 318.8L530.8 319.7L532.0 320.5L533.3 321.0L534.7 321.3L536.1 321.4L537.6 321.4L538.8 322.2L540.0 322.9L541.0 323.9L542.0 325.0L543.0 325.2L544.0 325.4L544.9 325.8L545.8 326.2L546.7 326.4L547.7 326.6L548.7 326.9L549.6 327.2L550.0 328.1L550.5 329.0L551.2 329.8L551.8 330.6L552.6 331.2L553.3 331.8L554.2 332.4L555.0 333.0L557.0 333.9L559.1 334.4L561.2 334.4L563.4 334.6L565.5 334.8L567.7 334.8L569.8 335.5L571.8 336.3L573.9 335.7L575.9 335.0L577.6 333.6L579.5 332.4L581.6 331.9L583.7 331.3L585.8 331.0L588.0 331.0L590.7 331.6L593.4 331.8L596.1 332.1L598.9 332.2L601.6 331.8L604.4 331.4L607.0 330.6L609.5 329.4L612.1 330.1L614.8 330.9L617.5 331.3L620.3 331.5L622.9 330.7L625.5 329.7L628.3 329.3L631.0 329.0" stroke="#b4f030" stroke-width="12" opacity="0.35" filter="url(#ab5)"/><path d="M661.0 404.0L663.8 402.8L666.5 401.5L669.5 400.9L672.3 399.9L675.3 399.1L678.1 398.3L681.1 397.7L684.1 397.6L687.0 398.7L690.0 399.3L693.0 399.8L696.0 399.9L698.8 401.1L701.6 402.3L704.4 403.4L707.0 405.0L708.9 404.8L710.9 404.4L712.6 403.6L714.5 402.8L716.2 402.0L718.0 401.1L719.8 400.6L721.6 399.7L723.3 398.8L724.9 397.7L726.6 396.8L728.5 396.2L730.2 395.3L731.9 394.3L733.4 393.1L735.0 392.0L736.3 394.0L737.7 395.9L738.6 398.2L739.3 400.5L739.5 402.9L739.7 405.3L740.7 407.5L741.6 409.7L743.6 410.9L745.4 412.5L747.6 413.3L749.8 414.3L751.9 415.5L754.0 416.4L756.1 417.6L758.0 419.0L760.5 418.8L763.1 419.0L765.6 419.5L768.1 419.7L770.6 420.1L773.2 420.5L775.7 420.3L778.3 420.1L780.6 421.2L782.8 422.6L785.3 423.2L787.8 424.1L790.3 424.4L792.9 424.8L795.4 425.1L798.0 425.0L800.6 426.2L803.2 427.4L805.2 429.5L807.5 431.2L808.7 433.9L809.6 436.6L811.1 439.0L812.5 441.5L815.2 442.4L818.0 443.3L820.2 445.1L822.6 446.7L824.3 449.0L825.6 451.5L827.1 453.9L829.0 456.0M553.0 580.0L555.4 579.4L557.7 578.6L559.9 577.5L562.1 576.2L564.5 576.4L566.9 576.9L569.4 577.0L571.8 577.2L573.7 578.9L575.8 580.2L578.0 581.2L580.2 582.3L582.6 582.9L585.1 583.5L587.5 583.1L590.0 583.0L592.1 582.8L594.1 582.8L596.2 582.5L598.2 582.4L600.2 583.1L602.1 583.8L604.2 584.2L606.3 584.2L608.0 583.1L609.9 582.2L611.8 581.3L613.8 580.7L615.8 580.3L617.8 579.9L619.9 580.0L622.0 580.0L624.1 577.9L626.3 575.8L627.9 573.2L629.7 570.8L632.0 568.9L634.3 566.9L637.0 565.7L639.6 564.1L642.6 563.3L645.6 562.6L648.1 560.9L650.9 559.5L653.9 559.1L657.0 559.0L660.0 559.5L663.0 560.0L665.6 558.6L668.2 557.5L671.1 556.8L673.8 555.7L676.3 554.1L678.9 552.9L681.7 551.9L684.3 550.8L686.9 549.3L689.5 547.6L691.5 545.3L693.3 543.0L694.5 540.2L695.5 537.4L696.8 534.7L698.0 532.0L699.9 529.6L702.1 527.5L704.6 525.7L707.2 524.1L709.9 522.7L712.8 521.7L715.8 521.2L718.8 520.6L720.5 518.2L722.0 515.7L723.3 513.0L724.9 510.5L726.8 508.2L729.0 506.2L730.4 503.5L732.0 501.0" stroke="#b4f030" stroke-width="12" opacity="0.32" filter="url(#ab5)"/><path d="M437.0 275.0L438.6 276.2L440.4 277.2L442.0 278.5L443.3 280.1L445.2 280.8L447.3 281.1L449.2 281.7L451.1 282.4L453.1 282.9L455.1 283.1L457.1 283.5L459.0 284.1L461.0 283.9L463.0 283.8L465.0 283.5L467.0 283.0L468.7 282.7L470.4 282.5L472.0 281.9L473.6 281.4L475.1 280.5L476.5 279.5L478.1 278.8L479.5 277.9L481.2 277.8L482.9 277.9L484.6 277.6L486.3 277.5L487.9 277.5L489.6 277.6L491.3 278.0L493.0 278.0L495.3 277.5L497.7 277.3L500.1 277.3L502.5 277.3L504.7 276.5L507.0 275.8L509.1 274.6L511.1 273.2L513.4 272.7L515.8 272.5L518.2 272.5L520.6 272.4L522.6 271.2L524.5 269.6L526.8 269.0L529.0 268.0L531.0 267.4L533.0 266.7L535.0 266.2L537.1 265.8L538.9 264.8L540.7 263.8L542.3 262.3L544.0 261.1L545.7 262.5L547.5 263.7L548.9 265.3L550.5 266.8L552.6 267.3L554.7 267.8L556.8 267.9L559.0 268.0L560.1 266.0L561.3 264.1L562.4 262.0L563.6 260.0L565.5 258.8L567.6 257.8L569.4 256.5L571.3 255.1L573.6 254.7L575.8 254.2L578.2 254.3L580.5 254.4L582.0 252.6L583.9 251.2L586.0 250.1L588.0 249.0L589.0 248.8L590.1 248.6L591.1 248.6L592.1 248.7L593.2 248.7L594.2 248.7L595.3 248.8L596.3 248.8L596.9 248.0L597.7 247.2L598.4 246.5L599.1 245.7L599.5 244.7L599.7 243.7L600.4 242.9L601.0 242.0L602.8 240.9L604.6 240.0L606.5 239.0L608.3 237.9L610.4 237.6L612.3 236.9L614.4 236.5L616.5 236.2L618.0 237.6L619.8 238.9L621.4 240.3L622.7 241.9L624.7 242.7L626.9 243.0L628.9 243.5L631.0 244.0L633.9 244.4L636.7 245.1L639.6 244.9L642.5 244.4L644.9 245.8L647.5 247.1L649.5 249.2L651.9 250.9L654.3 252.2L656.9 253.3L659.5 254.0L662.3 254.4L665.0 254.9L667.7 255.4L670.3 256.4L673.0 257.0M493.0 280.0L494.5 280.9L496.1 281.7L497.8 282.3L499.5 282.9L501.2 283.4L502.7 284.2L504.4 284.8L506.0 285.4L506.0 287.3L505.8 289.1L506.1 290.9L506.5 292.7L507.3 294.3L507.9 296.0L508.9 297.5L510.0 299.0L510.9 300.0L511.9 301.0L512.7 302.1L513.3 303.4L513.8 304.6L514.2 305.9L514.4 307.3L514.8 308.6L516.2 308.7L517.5 308.7L518.9 309.1L520.1 309.6L521.5 309.9L522.8 310.4L523.8 311.3L525.0 312.0L525.8 313.1L526.7 314.2L527.4 315.4L528.1 316.6L529.0 317.6L529.8 318.8L530.8 319.7L532.0 320.5L533.3 321.0L534.7 321.3L536.1 321.4L537.6 321.4L538.8 322.2L540.0 322.9L541.0 323.9L542.0 325.0L543.0 325.2L544.0 325.4L544.9 325.8L545.8 326.2L546.7 326.4L547.7 326.6L548.7 326.9L549.6 327.2L550.0 328.1L550.5 329.0L551.2 329.8L551.8 330.6L552.6 331.2L553.3 331.8L554.2 332.4L555.0 333.0L557.0 333.9L559.1 334.4L561.2 334.4L563.4 334.6L565.5 334.8L567.7 334.8L569.8 335.5L571.8 336.3L573.9 335.7L575.9 335.0L577.6 333.6L579.5 332.4L581.6 331.9L583.7 331.3L585.8 331.0L588.0 331.0L590.7 331.6L593.4 331.8L596.1 332.1L598.9 332.2L601.6 331.8L604.4 331.4L607.0 330.6L609.5 329.4L612.1 330.1L614.8 330.9L617.5 331.3L620.3 331.5L622.9 330.7L625.5 329.7L628.3 329.3L631.0 329.0M510.0 292.0L512.1 291.5L514.0 290.6L516.1 290.1L518.2 290.0L519.7 288.5L521.1 286.9L522.7 285.4L524.2 284.0L526.3 284.0L528.3 284.2L530.3 284.6L532.4 285.0L534.2 285.9L536.0 286.9L538.0 287.5L540.0 288.0L541.7 288.2L543.4 288.4L545.1 288.3L546.8 288.0L548.5 287.8L550.2 287.3L551.9 287.0L553.5 286.4L555.1 286.6L556.8 286.9L558.5 287.3L560.2 287.4L561.9 287.1L563.6 286.7L565.3 286.9L567.0 287.0L568.9 287.1L570.7 286.8L572.4 286.1L574.2 285.6L576.1 285.6L577.9 285.5L579.8 286.0L581.5 286.5L583.3 287.1L585.0 287.5L586.8 288.1L588.4 288.9L590.0 289.7L591.8 290.3L593.4 291.1L595.0 292.0L596.5 291.5L598.1 291.1L599.5 290.3L601.0 289.7L602.6 289.9L604.2 290.1L605.8 290.2L607.4 290.2L609.1 290.3L610.6 290.7L612.2 291.1L613.7 291.6L615.4 291.5L617.0 291.2L618.5 290.7L620.0 290.0M440.0 268.0L441.9 268.5L443.8 269.2L445.8 269.1L447.8 269.3L449.8 269.3L451.8 269.3L453.7 268.7L455.7 268.3L457.6 267.6L459.4 266.7L461.4 266.5L463.4 266.4L465.0 265.2L466.6 264.0L468.2 262.9L470.0 262.0L471.6 260.8L473.3 259.8L475.0 258.7L476.6 257.6L478.6 257.4L480.6 257.1L482.6 256.8L484.5 256.6L486.5 256.6L488.5 256.3L490.4 256.6L492.3 257.1L494.2 257.7L496.1 257.9L498.1 257.8L500.0 258.0L502.0 258.3L504.1 258.2L506.1 258.6L508.2 259.0L509.7 260.3L511.3 261.7L512.8 263.0L514.4 264.3L516.5 264.3L518.5 264.1L520.4 264.7L522.5 264.9L524.4 264.2L526.3 263.5L528.1 262.6L530.0 262.0M661.0 404.0L663.8 402.8L666.5 401.5L669.5 400.9L672.3 399.9L675.3 399.1L678.1 398.3L681.1 397.7L684.1 397.6L687.0 398.7L690.0 399.3L693.0 399.8L696.0 399.9L698.8 401.1L701.6 402.3L704.4 403.4L707.0 405.0L708.9 404.8L710.9 404.4L712.6 403.6L714.5 402.8L716.2 402.0L718.0 401.1L719.8 400.6L721.6 399.7L723.3 398.8L724.9 397.7L726.6 396.8L728.5 396.2L730.2 395.3L731.9 394.3L733.4 393.1L735.0 392.0L736.3 394.0L737.7 395.9L738.6 398.2L739.3 400.5L739.5 402.9L739.7 405.3L740.7 407.5L741.6 409.7L743.6 410.9L745.4 412.5L747.6 413.3L749.8 414.3L751.9 415.5L754.0 416.4L756.1 417.6L758.0 419.0L760.5 418.8L763.1 419.0L765.6 419.5L768.1 419.7L770.6 420.1L773.2 420.5L775.7 420.3L778.3 420.1L780.6 421.2L782.8 422.6L785.3 423.2L787.8 424.1L790.3 424.4L792.9 424.8L795.4 425.1L798.0 425.0L800.6 426.2L803.2 427.4L805.2 429.5L807.5 431.2L808.7 433.9L809.6 436.6L811.1 439.0L812.5 441.5L815.2 442.4L818.0 443.3L820.2 445.1L822.6 446.7L824.3 449.0L825.6 451.5L827.1 453.9L829.0 456.0M735.0 392.0L737.5 392.2L740.0 392.2L742.6 392.1L745.0 391.6L747.6 391.4L750.1 391.4L752.5 392.1L755.0 392.6L757.5 393.3L759.9 393.9L762.4 394.4L764.9 394.4L767.4 393.9L769.9 393.6L772.5 393.9L775.0 394.0L777.6 392.7L780.4 391.7L783.0 390.2L785.6 389.0L787.2 386.5L788.6 383.9L790.5 381.7L792.4 379.5L795.2 378.9L798.0 378.5L800.9 378.1L803.7 378.2L806.5 377.7L809.3 377.0L812.1 376.9L815.0 377.0L817.0 376.2L818.9 375.1L821.0 374.4L823.0 373.7L824.9 372.5L826.6 371.3L828.4 370.0L830.1 368.6L832.1 367.9L834.0 366.7L836.0 365.9L837.8 364.8L839.8 364.0L841.9 363.2L843.9 362.6L846.0 362.0M700.0 405.0L700.5 404.1L701.0 403.2L701.6 402.3L702.2 401.5L702.9 400.7L703.5 399.8L704.4 399.3L705.1 398.5L706.2 398.6L707.3 398.6L708.3 398.4L709.3 398.1L710.3 397.7L711.3 397.2L712.2 396.6L713.0 396.0L715.2 394.7L717.5 393.5L719.6 391.9L721.4 390.1L724.0 389.7L726.6 389.2L729.2 389.3L731.7 389.6L733.9 388.4L736.2 387.3L738.0 385.6L740.1 384.2L741.7 382.3L743.2 380.3L745.0 378.6L747.0 377.0L747.6 376.3L748.3 375.6L749.0 375.0L749.8 374.4L750.4 373.7L751.1 373.0L751.7 372.3L752.4 371.6L753.3 371.7L754.3 371.8L755.2 371.8L756.2 371.9L757.1 371.8L758.1 371.7L759.0 371.9L760.0 372.0M553.0 580.0L555.4 579.4L557.7 578.6L559.9 577.5L562.1 576.2L564.5 576.4L566.9 576.9L569.4 577.0L571.8 577.2L573.7 578.9L575.8 580.2L578.0 581.2L580.2 582.3L582.6 582.9L585.1 583.5L587.5 583.1L590.0 583.0L592.1 582.8L594.1 582.8L596.2 582.5L598.2 582.4L600.2 583.1L602.1 583.8L604.2 584.2L606.3 584.2L608.0 583.1L609.9 582.2L611.8 581.3L613.8 580.7L615.8 580.3L617.8 579.9L619.9 580.0L622.0 580.0L624.1 577.9L626.3 575.8L627.9 573.2L629.7 570.8L632.0 568.9L634.3 566.9L637.0 565.7L639.6 564.1L642.6 563.3L645.6 562.6L648.1 560.9L650.9 559.5L653.9 559.1L657.0 559.0L660.0 559.5L663.0 560.0L665.6 558.6L668.2 557.5L671.1 556.8L673.8 555.7L676.3 554.1L678.9 552.9L681.7 551.9L684.3 550.8L686.9 549.3L689.5 547.6L691.5 545.3L693.3 543.0L694.5 540.2L695.5 537.4L696.8 534.7L698.0 532.0L699.9 529.6L702.1 527.5L704.6 525.7L707.2 524.1L709.9 522.7L712.8 521.7L715.8 521.2L718.8 520.6L720.5 518.2L722.0 515.7L723.3 513.0L724.9 510.5L726.8 508.2L729.0 506.2L730.4 503.5L732.0 501.0M663.0 560.0L665.2 560.5L667.5 560.6L669.6 561.6L671.8 562.4L673.9 563.2L675.9 564.3L678.1 564.7L680.3 565.4L681.8 567.3L683.5 568.9L685.6 570.0L687.7 571.2L688.7 573.3L689.5 575.5L690.4 577.7L691.0 580.0L693.4 581.7L695.5 583.6L698.0 585.2L700.4 586.7L703.1 587.9L705.7 589.3L708.0 591.0L710.3 592.8L713.3 593.5L716.1 594.6L719.1 594.4L722.1 594.5L724.6 596.0L727.4 597.2L729.7 599.0L732.0 601.0L733.2 601.9L734.2 603.0L735.6 603.6L736.9 604.3L738.3 605.0L739.7 605.5L741.1 605.9L742.5 606.5L743.9 607.2L745.4 607.7L746.9 607.9L748.5 607.9L749.7 608.8L751.0 609.6L752.0 610.8L753.0 612.0M622.0 580.0L623.7 581.3L625.6 582.5L627.5 583.4L629.4 584.5L631.0 586.0L632.3 587.8L633.2 589.8L634.3 591.7L636.2 592.6L638.0 593.9L639.6 595.4L641.4 596.6L643.5 597.2L645.7 597.4L647.8 597.9L650.0 598.0L651.0 599.3L652.0 600.6L652.9 602.0L653.6 603.5L655.0 604.3L656.6 604.9L658.1 605.6L659.6 606.2L661.2 606.2L662.8 606.4L664.4 606.2L665.9 606.0L667.5 605.6L669.0 604.9L670.5 604.5L672.0 604.0" stroke="#b6f52e" stroke-width="5" opacity="0.5" filter="url(#ab2)"/><path d="M493.0 280.0L494.5 280.9L496.1 281.7L497.8 282.3L499.5 282.9L501.2 283.4L502.7 284.2L504.4 284.8L506.0 285.4L506.0 287.3L505.8 289.1L506.1 290.9L506.5 292.7L507.3 294.3L507.9 296.0L508.9 297.5L510.0 299.0L510.9 300.0L511.9 301.0L512.7 302.1L513.3 303.4L513.8 304.6L514.2 305.9L514.4 307.3L514.8 308.6L516.2 308.7L517.5 308.7L518.9 309.1L520.1 309.6L521.5 309.9L522.8 310.4L523.8 311.3L525.0 312.0L525.8 313.1L526.7 314.2L527.4 315.4L528.1 316.6L529.0 317.6L529.8 318.8L530.8 319.7L532.0 320.5L533.3 321.0L534.7 321.3L536.1 321.4L537.6 321.4L538.8 322.2L540.0 322.9L541.0 323.9L542.0 325.0L543.0 325.2L544.0 325.4L544.9 325.8L545.8 326.2L546.7 326.4L547.7 326.6L548.7 326.9L549.6 327.2L550.0 328.1L550.5 329.0L551.2 329.8L551.8 330.6L552.6 331.2L553.3 331.8L554.2 332.4L555.0 333.0L557.0 333.9L559.1 334.4L561.2 334.4L563.4 334.6L565.5 334.8L567.7 334.8L569.8 335.5L571.8 336.3L573.9 335.7L575.9 335.0L577.6 333.6L579.5 332.4L581.6 331.9L583.7 331.3L585.8 331.0L588.0 331.0L590.7 331.6L593.4 331.8L596.1 332.1L598.9 332.2L601.6 331.8L604.4 331.4L607.0 330.6L609.5 329.4L612.1 330.1L614.8 330.9L617.5 331.3L620.3 331.5L622.9 330.7L625.5 329.7L628.3 329.3L631.0 329.0M510.0 292.0L512.1 291.5L514.0 290.6L516.1 290.1L518.2 290.0L519.7 288.5L521.1 286.9L522.7 285.4L524.2 284.0L526.3 284.0L528.3 284.2L530.3 284.6L532.4 285.0L534.2 285.9L536.0 286.9L538.0 287.5L540.0 288.0L541.7 288.2L543.4 288.4L545.1 288.3L546.8 288.0L548.5 287.8L550.2 287.3L551.9 287.0L553.5 286.4L555.1 286.6L556.8 286.9L558.5 287.3L560.2 287.4L561.9 287.1L563.6 286.7L565.3 286.9L567.0 287.0L568.9 287.1L570.7 286.8L572.4 286.1L574.2 285.6L576.1 285.6L577.9 285.5L579.8 286.0L581.5 286.5L583.3 287.1L585.0 287.5L586.8 288.1L588.4 288.9L590.0 289.7L591.8 290.3L593.4 291.1L595.0 292.0L596.5 291.5L598.1 291.1L599.5 290.3L601.0 289.7L602.6 289.9L604.2 290.1L605.8 290.2L607.4 290.2L609.1 290.3L610.6 290.7L612.2 291.1L613.7 291.6L615.4 291.5L617.0 291.2L618.5 290.7L620.0 290.0M440.0 268.0L441.9 268.5L443.8 269.2L445.8 269.1L447.8 269.3L449.8 269.3L451.8 269.3L453.7 268.7L455.7 268.3L457.6 267.6L459.4 266.7L461.4 266.5L463.4 266.4L465.0 265.2L466.6 264.0L468.2 262.9L470.0 262.0L471.6 260.8L473.3 259.8L475.0 258.7L476.6 257.6L478.6 257.4L480.6 257.1L482.6 256.8L484.5 256.6L486.5 256.6L488.5 256.3L490.4 256.6L492.3 257.1L494.2 257.7L496.1 257.9L498.1 257.8L500.0 258.0L502.0 258.3L504.1 258.2L506.1 258.6L508.2 259.0L509.7 260.3L511.3 261.7L512.8 263.0L514.4 264.3L516.5 264.3L518.5 264.1L520.4 264.7L522.5 264.9L524.4 264.2L526.3 263.5L528.1 262.6L530.0 262.0M510.0 299.0L514.2 300.0L518.1 301.7L522.2 302.8L526.3 304.2L529.9 306.5L534.0 308.0L536.9 311.2L540.0 314.2M559.0 268.0L561.2 266.8L563.5 265.8L566.0 265.3L568.5 264.9L571.0 265.3L573.5 265.5L576.0 265.3L578.4 264.7M588.0 331.0L591.2 334.7L594.5 338.3L598.2 341.4L601.6 344.9L604.4 349.0L606.5 353.4L607.9 358.0L609.9 362.5M500.0 258.0L503.3 257.8L506.5 258.0L509.8 258.3L513.0 258.8L515.9 260.4L518.6 262.2L521.3 264.0L524.2 265.4M601.0 242.0L603.9 240.9L606.9 239.8L609.9 239.0L613.0 238.7L616.1 238.2L619.2 237.7L622.2 237.0L625.1 235.7M735.0 392.0L737.5 392.2L740.0 392.2L742.6 392.1L745.0 391.6L747.6 391.4L750.1 391.4L752.5 392.1L755.0 392.6L757.5 393.3L759.9 393.9L762.4 394.4L764.9 394.4L767.4 393.9L769.9 393.6L772.5 393.9L775.0 394.0L777.6 392.7L780.4 391.7L783.0 390.2L785.6 389.0L787.2 386.5L788.6 383.9L790.5 381.7L792.4 379.5L795.2 378.9L798.0 378.5L800.9 378.1L803.7 378.2L806.5 377.7L809.3 377.0L812.1 376.9L815.0 377.0L817.0 376.2L818.9 375.1L821.0 374.4L823.0 373.7L824.9 372.5L826.6 371.3L828.4 370.0L830.1 368.6L832.1 367.9L834.0 366.7L836.0 365.9L837.8 364.8L839.8 364.0L841.9 363.2L843.9 362.6L846.0 362.0M700.0 405.0L700.5 404.1L701.0 403.2L701.6 402.3L702.2 401.5L702.9 400.7L703.5 399.8L704.4 399.3L705.1 398.5L706.2 398.6L707.3 398.6L708.3 398.4L709.3 398.1L710.3 397.7L711.3 397.2L712.2 396.6L713.0 396.0L715.2 394.7L717.5 393.5L719.6 391.9L721.4 390.1L724.0 389.7L726.6 389.2L729.2 389.3L731.7 389.6L733.9 388.4L736.2 387.3L738.0 385.6L740.1 384.2L741.7 382.3L743.2 380.3L745.0 378.6L747.0 377.0L747.6 376.3L748.3 375.6L749.0 375.0L749.8 374.4L750.4 373.7L751.1 373.0L751.7 372.3L752.4 371.6L753.3 371.7L754.3 371.8L755.2 371.8L756.2 371.9L757.1 371.8L758.1 371.7L759.0 371.9L760.0 372.0M775.0 394.0L778.8 394.9L782.4 396.3L785.5 398.6L788.8 400.6L790.9 403.8L793.3 406.9L796.1 409.5L799.0 412.0M747.0 377.0L750.4 376.4L753.8 375.8L757.2 375.0L760.5 373.9L763.5 372.0L766.5 370.4L769.3 368.4L772.4 366.7M747.0 377.0L750.2 377.7L753.5 377.8L756.8 377.3L760.0 376.6L763.3 376.8L766.5 377.6L769.4 379.2L772.4 380.4M707.0 405.0L709.3 402.6L711.5 400.2L714.1 398.2L717.0 396.6L720.1 395.3L723.2 394.2L725.7 392.0L728.4 390.1M713.0 396.0L717.2 395.3L721.1 393.9L725.2 392.5L728.9 390.6L733.1 390.8L737.3 391.6L741.5 391.4L745.7 391.8M663.0 560.0L665.2 560.5L667.5 560.6L669.6 561.6L671.8 562.4L673.9 563.2L675.9 564.3L678.1 564.7L680.3 565.4L681.8 567.3L683.5 568.9L685.6 570.0L687.7 571.2L688.7 573.3L689.5 575.5L690.4 577.7L691.0 580.0L693.4 581.7L695.5 583.6L698.0 585.2L700.4 586.7L703.1 587.9L705.7 589.3L708.0 591.0L710.3 592.8L713.3 593.5L716.1 594.6L719.1 594.4L722.1 594.5L724.6 596.0L727.4 597.2L729.7 599.0L732.0 601.0L733.2 601.9L734.2 603.0L735.6 603.6L736.9 604.3L738.3 605.0L739.7 605.5L741.1 605.9L742.5 606.5L743.9 607.2L745.4 607.7L746.9 607.9L748.5 607.9L749.7 608.8L751.0 609.6L752.0 610.8L753.0 612.0M622.0 580.0L623.7 581.3L625.6 582.5L627.5 583.4L629.4 584.5L631.0 586.0L632.3 587.8L633.2 589.8L634.3 591.7L636.2 592.6L638.0 593.9L639.6 595.4L641.4 596.6L643.5 597.2L645.7 597.4L647.8 597.9L650.0 598.0L651.0 599.3L652.0 600.6L652.9 602.0L653.6 603.5L655.0 604.3L656.6 604.9L658.1 605.6L659.6 606.2L661.2 606.2L662.8 606.4L664.4 606.2L665.9 606.0L667.5 605.6L669.0 604.9L670.5 604.5L672.0 604.0M732.0 601.0L734.7 602.2L737.4 603.1L740.4 603.2L743.3 603.4L745.7 601.7L748.4 600.5L751.2 599.8L754.1 599.4M698.0 532.0L701.0 532.2L703.9 532.5L706.8 533.3L709.7 534.1L711.6 536.3L713.5 538.6L715.9 540.3L718.2 542.3M622.0 580.0L624.1 578.8L626.2 577.7L628.2 576.4L630.2 575.1L632.5 574.3L634.8 573.7L637.1 573.2L639.5 572.8M650.0 598.0L653.9 597.7L657.8 597.1L661.5 595.6L665.0 593.9L668.9 594.1L672.8 593.8L676.7 593.8L680.6 593.7M732.0 601.0L736.2 603.4L740.6 605.4L745.1 607.3L749.4 609.5L753.4 612.2L757.5 614.7L761.3 617.7L765.2 620.5" stroke="#d9ff6a" stroke-width="1.3" opacity="0.9"/><path d="M437.0 275.0L438.6 276.2L440.4 277.2L442.0 278.5L443.3 280.1L445.2 280.8L447.3 281.1L449.2 281.7L451.1 282.4L453.1 282.9L455.1 283.1L457.1 283.5L459.0 284.1L461.0 283.9L463.0 283.8L465.0 283.5L467.0 283.0L468.7 282.7L470.4 282.5L472.0 281.9L473.6 281.4L475.1 280.5L476.5 279.5L478.1 278.8L479.5 277.9L481.2 277.8L482.9 277.9L484.6 277.6L486.3 277.5L487.9 277.5L489.6 277.6L491.3 278.0L493.0 278.0L495.3 277.5L497.7 277.3L500.1 277.3L502.5 277.3L504.7 276.5L507.0 275.8L509.1 274.6L511.1 273.2L513.4 272.7L515.8 272.5L518.2 272.5L520.6 272.4L522.6 271.2L524.5 269.6L526.8 269.0L529.0 268.0L531.0 267.4L533.0 266.7L535.0 266.2L537.1 265.8L538.9 264.8L540.7 263.8L542.3 262.3L544.0 261.1L545.7 262.5L547.5 263.7L548.9 265.3L550.5 266.8L552.6 267.3L554.7 267.8L556.8 267.9L559.0 268.0L560.1 266.0L561.3 264.1L562.4 262.0L563.6 260.0L565.5 258.8L567.6 257.8L569.4 256.5L571.3 255.1L573.6 254.7L575.8 254.2L578.2 254.3L580.5 254.4L582.0 252.6L583.9 251.2L586.0 250.1L588.0 249.0L589.0 248.8L590.1 248.6L591.1 248.6L592.1 248.7L593.2 248.7L594.2 248.7L595.3 248.8L596.3 248.8L596.9 248.0L597.7 247.2L598.4 246.5L599.1 245.7L599.5 244.7L599.7 243.7L600.4 242.9L601.0 242.0L602.8 240.9L604.6 240.0L606.5 239.0L608.3 237.9L610.4 237.6L612.3 236.9L614.4 236.5L616.5 236.2L618.0 237.6L619.8 238.9L621.4 240.3L622.7 241.9L624.7 242.7L626.9 243.0L628.9 243.5L631.0 244.0L633.9 244.4L636.7 245.1L639.6 244.9L642.5 244.4L644.9 245.8L647.5 247.1L649.5 249.2L651.9 250.9L654.3 252.2L656.9 253.3L659.5 254.0L662.3 254.4L665.0 254.9L667.7 255.4L670.3 256.4L673.0 257.0M661.0 404.0L663.8 402.8L666.5 401.5L669.5 400.9L672.3 399.9L675.3 399.1L678.1 398.3L681.1 397.7L684.1 397.6L687.0 398.7L690.0 399.3L693.0 399.8L696.0 399.9L698.8 401.1L701.6 402.3L704.4 403.4L707.0 405.0L708.9 404.8L710.9 404.4L712.6 403.6L714.5 402.8L716.2 402.0L718.0 401.1L719.8 400.6L721.6 399.7L723.3 398.8L724.9 397.7L726.6 396.8L728.5 396.2L730.2 395.3L731.9 394.3L733.4 393.1L735.0 392.0L736.3 394.0L737.7 395.9L738.6 398.2L739.3 400.5L739.5 402.9L739.7 405.3L740.7 407.5L741.6 409.7L743.6 410.9L745.4 412.5L747.6 413.3L749.8 414.3L751.9 415.5L754.0 416.4L756.1 417.6L758.0 419.0L760.5 418.8L763.1 419.0L765.6 419.5L768.1 419.7L770.6 420.1L773.2 420.5L775.7 420.3L778.3 420.1L780.6 421.2L782.8 422.6L785.3 423.2L787.8 424.1L790.3 424.4L792.9 424.8L795.4 425.1L798.0 425.0L800.6 426.2L803.2 427.4L805.2 429.5L807.5 431.2L808.7 433.9L809.6 436.6L811.1 439.0L812.5 441.5L815.2 442.4L818.0 443.3L820.2 445.1L822.6 446.7L824.3 449.0L825.6 451.5L827.1 453.9L829.0 456.0M553.0 580.0L555.4 579.4L557.7 578.6L559.9 577.5L562.1 576.2L564.5 576.4L566.9 576.9L569.4 577.0L571.8 577.2L573.7 578.9L575.8 580.2L578.0 581.2L580.2 582.3L582.6 582.9L585.1 583.5L587.5 583.1L590.0 583.0L592.1 582.8L594.1 582.8L596.2 582.5L598.2 582.4L600.2 583.1L602.1 583.8L604.2 584.2L606.3 584.2L608.0 583.1L609.9 582.2L611.8 581.3L613.8 580.7L615.8 580.3L617.8 579.9L619.9 580.0L622.0 580.0L624.1 577.9L626.3 575.8L627.9 573.2L629.7 570.8L632.0 568.9L634.3 566.9L637.0 565.7L639.6 564.1L642.6 563.3L645.6 562.6L648.1 560.9L650.9 559.5L653.9 559.1L657.0 559.0L660.0 559.5L663.0 560.0L665.6 558.6L668.2 557.5L671.1 556.8L673.8 555.7L676.3 554.1L678.9 552.9L681.7 551.9L684.3 550.8L686.9 549.3L689.5 547.6L691.5 545.3L693.3 543.0L694.5 540.2L695.5 537.4L696.8 534.7L698.0 532.0L699.9 529.6L702.1 527.5L704.6 525.7L707.2 524.1L709.9 522.7L712.8 521.7L715.8 521.2L718.8 520.6L720.5 518.2L722.0 515.7L723.3 513.0L724.9 510.5L726.8 508.2L729.0 506.2L730.4 503.5L732.0 501.0" stroke="#f4ffc0" stroke-width="2.4"/></g><circle cx="430.6" cy="242.3" r="15.6" fill="url(#aan)" stroke="#7f8fc4" stroke-width="0.8"/><rect x="422.1" y="240.0" width="17" height="4.6" fill="#0a0a14"/><circle cx="413.6" cy="272.0" r="23.3" fill="url(#ali)" stroke="#c89a18" stroke-width="0.8"/><text x="414.1" y="282.5" font-size="29" font-weight="bold" text-anchor="middle" fill="#141000">Li<tspan font-size="17" dy="-11">+</tspan></text><circle cx="640.0" cy="403.0" r="21.3" fill="url(#ali)" stroke="#c89a18" stroke-width="0.8"/><text x="640.5" y="413.5" font-size="29" font-weight="bold" text-anchor="middle" fill="#141000">Li<tspan font-size="17" dy="-11">+</tspan></text><circle cx="646.5" cy="436.0" r="16.0" fill="url(#aan)" stroke="#7f8fc4" stroke-width="0.8"/><rect x="638.0" y="433.7" width="17" height="4.6" fill="#0a0a14"/><circle cx="549.5" cy="547.0" r="16.3" fill="url(#aan)" stroke="#7f8fc4" stroke-width="0.8"/><rect x="541.0" y="544.7" width="17" height="4.6" fill="#0a0a14"/><circle cx="531.5" cy="579.5" r="21.0" fill="url(#ali)" stroke="#c89a18" stroke-width="0.8"/><text x="532.0" y="590.0" font-size="29" font-weight="bold" text-anchor="middle" fill="#141000">Li<tspan font-size="17" dy="-11">+</tspan></text>
</g>
<path d="M729.0 488.0C740.8 484.3 777.4 474.0 800.0 466.0C822.6 458.0 846.0 450.2 864.5 440.0C883.0 429.8 893.8 417.9 911.0 405.0C928.2 392.1 948.9 378.1 967.7 362.5C986.5 346.9 1005.1 328.6 1024.0 311.6C1042.9 294.6 1065.0 275.6 1081.0 260.7C1097.0 245.8 1110.0 232.4 1120.0 222.0C1130.0 211.6 1137.5 202.0 1141.0 198.0L1141.0 514.0C1131.5 510.9 1102.5 500.7 1084.0 495.4C1065.5 490.1 1047.8 484.9 1030.0 482.0C1012.2 479.1 1000.3 478.8 977.0 478.0C953.7 477.2 919.0 476.5 890.0 477.0C861.0 477.5 829.8 479.2 803.0 481.0C776.2 482.8 741.3 486.8 729.0 488.0Z" fill="url(#acone)"/>
<clipPath id="adk"><circle cx="1395.6" cy="337.5" r="246.0"/></clipPath><linearGradient id="adbg" x1="0" y1="0" x2="0" y2="1"><stop offset="0" stop-color="#272b36"/><stop offset="0.25" stop-color="#3a3f4b"/><stop offset="0.42" stop-color="#4b515c"/><stop offset="0.55" stop-color="#3b414d"/><stop offset="0.75" stop-color="#2c3442"/><stop offset="1" stop-color="#252e3c"/></linearGradient><radialGradient id="aat1" cx="0.4" cy="0.35" r="0.65"><stop offset="0" stop-color="#d2cc7a"/><stop offset="0.6" stop-color="#b2ab55"/><stop offset="1" stop-color="#7d7835"/></radialGradient><radialGradient id="aat2" cx="0.4" cy="0.35" r="0.65"><stop offset="0" stop-color="#f3b9a0"/><stop offset="0.6" stop-color="#dc9a80"/><stop offset="1" stop-color="#a86a55"/></radialGradient><radialGradient id="aat3" cx="0.4" cy="0.35" r="0.65"><stop offset="0" stop-color="#d6fbe8"/><stop offset="0.6" stop-color="#a3e2c3"/><stop offset="1" stop-color="#6aa88c"/></radialGradient><radialGradient id="aau" cx="0.42" cy="0.38" r="0.62"><stop offset="0" stop-color="#fff2a0"/><stop offset="0.45" stop-color="#ffd21e"/><stop offset="0.85" stop-color="#f0b400"/><stop offset="1" stop-color="#c98f00"/></radialGradient><radialGradient id="aauf" cx="0.45" cy="0.4" r="0.6"><stop offset="0" stop-color="#fff6b0"/><stop offset="0.6" stop-color="#e8d55a"/><stop offset="1" stop-color="#bfae40" stop-opacity="0.7"/></radialGradient><radialGradient id="agl" cx="0.5" cy="0.5" r="0.5"><stop offset="0" stop-color="#ffffff"/><stop offset="0.35" stop-color="#dfe7f8"/><stop offset="0.7" stop-color="#8f9cc4" stop-opacity="0.85"/><stop offset="0.88" stop-color="#e8eeff"/><stop offset="1" stop-color="#aab4d8"/></radialGradient><radialGradient id="afs" cx="0.45" cy="0.35" r="0.65"><stop offset="0" stop-color="#566173"/><stop offset="0.7" stop-color="#3d4758"/><stop offset="1" stop-color="#2a3342"/></radialGradient><defs><circle id="a1" r="7" fill="url(#aat1)"/><circle id="a2" r="6.5" fill="url(#aat2)"/><circle id="a3" r="6.5" fill="url(#aat3)"/></defs><g clip-path="url(#adk)"><rect x="1140" y="85" width="510" height="505" fill="url(#adbg)"/><g fill="url(#afs)"><circle cx="1207" cy="468" r="6.0" opacity="0.25"/><circle cx="1220" cy="468" r="6.0" opacity="0.25"/><circle cx="1234" cy="468" r="6.0" opacity="0.25"/><circle cx="1247" cy="468" r="6.0" opacity="0.25"/><circle cx="1261" cy="468" r="6.0" opacity="0.25"/><circle cx="1274" cy="468" r="6.0" opacity="0.25"/><circle cx="1288" cy="468" r="6.0" opacity="0.25"/><circle cx="1301" cy="468" r="6.0" opacity="0.25"/><circle cx="1315" cy="468" r="6.0" opacity="0.25"/><circle cx="1328" cy="468" r="6.0" opacity="0.25"/><circle cx="1342" cy="468" r="6.0" opacity="0.25"/><circle cx="1355" cy="468" r="6.0" opacity="0.25"/><circle cx="1369" cy="468" r="6.0" opacity="0.25"/><circle cx="1382" cy="468" r="6.0" opacity="0.25"/><circle cx="1396" cy="468" r="6.0" opacity="0.25"/><circle cx="1409" cy="468" r="6.0" opacity="0.25"/><circle cx="1423" cy="468" r="6.0" opacity="0.25"/><circle cx="1436" cy="468" r="6.0" opacity="0.25"/><circle cx="1450" cy="468" r="6.0" opacity="0.25"/><circle cx="1463" cy="468" r="6.0" opacity="0.25"/><circle cx="1477" cy="468" r="6.0" opacity="0.25"/><circle cx="1490" cy="468" r="6.0" opacity="0.25"/><circle cx="1504" cy="468" r="6.0" opacity="0.25"/><circle cx="1517" cy="468" r="6.0" opacity="0.25"/><circle cx="1531" cy="468" r="6.0" opacity="0.25"/><circle cx="1544" cy="468" r="6.0" opacity="0.25"/><circle cx="1558" cy="468" r="6.0" opacity="0.25"/><circle cx="1571" cy="468" r="6.0" opacity="0.25"/><circle cx="1585" cy="468" r="6.0" opacity="0.25"/><circle cx="1598" cy="468" r="6.0" opacity="0.25"/><circle cx="1612" cy="468" r="6.0" opacity="0.25"/><circle cx="1625" cy="468" r="6.0" opacity="0.25"/><circle cx="1639" cy="468" r="6.0" opacity="0.25"/><circle cx="1652" cy="468" r="6.0" opacity="0.25"/><circle cx="1192" cy="475" r="6.7" opacity="0.31"/><circle cx="1207" cy="475" r="6.7" opacity="0.31"/><circle cx="1222" cy="475" r="6.7" opacity="0.31"/><circle cx="1238" cy="475" r="6.7" opacity="0.31"/><circle cx="1253" cy="475" r="6.7" opacity="0.31"/><circle cx="1268" cy="475" r="6.7" opacity="0.31"/><circle cx="1283" cy="475" r="6.7" opacity="0.31"/><circle cx="1298" cy="475" r="6.7" opacity="0.31"/><circle cx="1313" cy="475" r="6.7" opacity="0.31"/><circle cx="1328" cy="475" r="6.7" opacity="0.31"/><circle cx="1343" cy="475" r="6.7" opacity="0.31"/><circle cx="1358" cy="475" r="6.7" opacity="0.31"/><circle cx="1373" cy="475" r="6.7" opacity="0.31"/><circle cx="1388" cy="475" r="6.7" opacity="0.31"/><circle cx="1403" cy="475" r="6.7" opacity="0.31"/><circle cx="1418" cy="475" r="6.7" opacity="0.31"/><circle cx="1433" cy="475" r="6.7" opacity="0.31"/><circle cx="1448" cy="475" r="6.7" opacity="0.31"/><circle cx="1463" cy="475" r="6.7" opacity="0.31"/><circle cx="1478" cy="475" r="6.7" opacity="0.31"/><circle cx="1493" cy="475" r="6.7" opacity="0.31"/><circle cx="1508" cy="475" r="6.7" opacity="0.31"/><circle cx="1524" cy="475" r="6.7" opacity="0.31"/><circle cx="1539" cy="475" r="6.7" opacity="0.31"/><circle cx="1554" cy="475" r="6.7" opacity="0.31"/><circle cx="1569" cy="475" r="6.7" opacity="0.31"/><circle cx="1584" cy="475" r="6.7" opacity="0.31"/><circle cx="1599" cy="475" r="6.7" opacity="0.31"/><circle cx="1614" cy="475" r="6.7" opacity="0.31"/><circle cx="1629" cy="475" r="6.7" opacity="0.31"/><circle cx="1644" cy="475" r="6.7" opacity="0.31"/><circle cx="1659" cy="475" r="6.7" opacity="0.31"/><circle cx="1161" cy="483" r="7.5" opacity="0.38"/><circle cx="1177" cy="483" r="7.5" opacity="0.38"/><circle cx="1194" cy="483" r="7.5" opacity="0.38"/><circle cx="1211" cy="483" r="7.5" opacity="0.38"/><circle cx="1228" cy="483" r="7.5" opacity="0.38"/><circle cx="1245" cy="483" r="7.5" opacity="0.38"/><circle cx="1261" cy="483" r="7.5" opacity="0.38"/><circle cx="1278" cy="483" r="7.5" opacity="0.38"/><circle cx="1295" cy="483" r="7.5" opacity="0.38"/><circle cx="1312" cy="483" r="7.5" opacity="0.38"/><circle cx="1328" cy="483" r="7.5" opacity="0.38"/><circle cx="1345" cy="483" r="7.5" opacity="0.38"/><circle cx="1362" cy="483" r="7.5" opacity="0.38"/><circle cx="1379" cy="483" r="7.5" opacity="0.38"/><circle cx="1396" cy="483" r="7.5" opacity="0.38"/><circle cx="1412" cy="483" r="7.5" opacity="0.38"/><circle cx="1429" cy="483" r="7.5" opacity="0.38"/><circle cx="1446" cy="483" r="7.5" opacity="0.38"/><circle cx="1463" cy="483" r="7.5" opacity="0.38"/><circle cx="1480" cy="483" r="7.5" opacity="0.38"/><circle cx="1496" cy="483" r="7.5" opacity="0.38"/><circle cx="1513" cy="483" r="7.5" opacity="0.38"/><circle cx="1530" cy="483" r="7.5" opacity="0.38"/><circle cx="1547" cy="483" r="7.5" opacity="0.38"/><circle cx="1563" cy="483" r="7.5" opacity="0.38"/><circle cx="1580" cy="483" r="7.5" opacity="0.38"/><circle cx="1597" cy="483" r="7.5" opacity="0.38"/><circle cx="1614" cy="483" r="7.5" opacity="0.38"/><circle cx="1631" cy="483" r="7.5" opacity="0.38"/><circle cx="1647" cy="483" r="7.5" opacity="0.38"/><circle cx="1143" cy="491" r="8.3" opacity="0.46"/><circle cx="1162" cy="491" r="8.3" opacity="0.46"/><circle cx="1180" cy="491" r="8.3" opacity="0.46"/><circle cx="1199" cy="491" r="8.3" opacity="0.46"/><circle cx="1218" cy="491" r="8.3" opacity="0.46"/><circle cx="1237" cy="491" r="8.3" opacity="0.46"/><circle cx="1255" cy="491" r="8.3" opacity="0.46"/><circle cx="1274" cy="491" r="8.3" opacity="0.46"/><circle cx="1293" cy="491" r="8.3" opacity="0.46"/><circle cx="1311" cy="491" r="8.3" opacity="0.46"/><circle cx="1330" cy="491" r="8.3" opacity="0.46"/><circle cx="1349" cy="491" r="8.3" opacity="0.46"/><circle cx="1368" cy="491" r="8.3" opacity="0.46"/><circle cx="1386" cy="491" r="8.3" opacity="0.46"/><circle cx="1405" cy="491" r="8.3" opacity="0.46"/><circle cx="1424" cy="491" r="8.3" opacity="0.46"/><circle cx="1442" cy="491" r="8.3" opacity="0.46"/><circle cx="1461" cy="491" r="8.3" opacity="0.46"/><circle cx="1480" cy="491" r="8.3" opacity="0.46"/><circle cx="1499" cy="491" r="8.3" opacity="0.46"/><circle cx="1517" cy="491" r="8.3" opacity="0.46"/><circle cx="1536" cy="491" r="8.3" opacity="0.46"/><circle cx="1555" cy="491" r="8.3" opacity="0.46"/><circle cx="1573" cy="491" r="8.3" opacity="0.46"/><circle cx="1592" cy="491" r="8.3" opacity="0.46"/><circle cx="1611" cy="491" r="8.3" opacity="0.46"/><circle cx="1630" cy="491" r="8.3" opacity="0.46"/><circle cx="1648" cy="491" r="8.3" opacity="0.46"/><circle cx="1103" cy="501" r="9.3" opacity="0.55"/><circle cx="1124" cy="501" r="9.3" opacity="0.55"/><circle cx="1145" cy="501" r="9.3" opacity="0.55"/><circle cx="1166" cy="501" r="9.3" opacity="0.55"/><circle cx="1187" cy="501" r="9.3" opacity="0.55"/><circle cx="1208" cy="501" r="9.3" opacity="0.55"/><circle cx="1229" cy="501" r="9.3" opacity="0.55"/><circle cx="1250" cy="501" r="9.3" opacity="0.55"/><circle cx="1270" cy="501" r="9.3" opacity="0.55"/><circle cx="1291" cy="501" r="9.3" opacity="0.55"/><circle cx="1312" cy="501" r="9.3" opacity="0.55"/><circle cx="1333" cy="501" r="9.3" opacity="0.55"/><circle cx="1354" cy="501" r="9.3" opacity="0.55"/><circle cx="1375" cy="501" r="9.3" opacity="0.55"/><circle cx="1396" cy="501" r="9.3" opacity="0.55"/><circle cx="1416" cy="501" r="9.3" opacity="0.55"/><circle cx="1437" cy="501" r="9.3" opacity="0.55"/><circle cx="1458" cy="501" r="9.3" opacity="0.55"/><circle cx="1479" cy="501" r="9.3" opacity="0.55"/><circle cx="1500" cy="501" r="9.3" opacity="0.55"/><circle cx="1521" cy="501" r="9.3" opacity="0.55"/><circle cx="1542" cy="501" r="9.3" opacity="0.55"/><circle cx="1563" cy="501" r="9.3" opacity="0.55"/><circle cx="1583" cy="501" r="9.3" opacity="0.55"/><circle cx="1604" cy="501" r="9.3" opacity="0.55"/><circle cx="1625" cy="501" r="9.3" opacity="0.55"/><circle cx="1646" cy="501" r="9.3" opacity="0.55"/><circle cx="1082" cy="511" r="10.3" opacity="0.65"/><circle cx="1105" cy="511" r="10.3" opacity="0.65"/><circle cx="1128" cy="511" r="10.3" opacity="0.65"/><circle cx="1151" cy="511" r="10.3" opacity="0.65"/><circle cx="1175" cy="511" r="10.3" opacity="0.65"/><circle cx="1198" cy="511" r="10.3" opacity="0.65"/><circle cx="1221" cy="511" r="10.3" opacity="0.65"/><circle cx="1244" cy="511" r="10.3" opacity="0.65"/><circle cx="1268" cy="511" r="10.3" opacity="0.65"/><circle cx="1291" cy="511" r="10.3" opacity="0.65"/><circle cx="1314" cy="511" r="10.3" opacity="0.65"/><circle cx="1337" cy="511" r="10.3" opacity="0.65"/><circle cx="1361" cy="511" r="10.3" opacity="0.65"/><circle cx="1384" cy="511" r="10.3" opacity="0.65"/><circle cx="1407" cy="511" r="10.3" opacity="0.65"/><circle cx="1430" cy="511" r="10.3" opacity="0.65"/><circle cx="1454" cy="511" r="10.3" opacity="0.65"/><circle cx="1477" cy="511" r="10.3" opacity="0.65"/><circle cx="1500" cy="511" r="10.3" opacity="0.65"/><circle cx="1524" cy="511" r="10.3" opacity="0.65"/><circle cx="1547" cy="511" r="10.3" opacity="0.65"/><circle cx="1570" cy="511" r="10.3" opacity="0.65"/><circle cx="1593" cy="511" r="10.3" opacity="0.65"/><circle cx="1617" cy="511" r="10.3" opacity="0.65"/><circle cx="1640" cy="511" r="10.3" opacity="0.65"/><circle cx="1032" cy="523" r="11.5" opacity="0.76"/><circle cx="1058" cy="523" r="11.5" opacity="0.76"/><circle cx="1084" cy="523" r="11.5" opacity="0.76"/><circle cx="1110" cy="523" r="11.5" opacity="0.76"/><circle cx="1136" cy="523" r="11.5" opacity="0.76"/><circle cx="1162" cy="523" r="11.5" opacity="0.76"/><circle cx="1188" cy="523" r="11.5" opacity="0.76"/><circle cx="1214" cy="523" r="11.5" opacity="0.76"/><circle cx="1240" cy="523" r="11.5" opacity="0.76"/><circle cx="1266" cy="523" r="11.5" opacity="0.76"/><circle cx="1292" cy="523" r="11.5" opacity="0.76"/><circle cx="1318" cy="523" r="11.5" opacity="0.76"/><circle cx="1344" cy="523" r="11.5" opacity="0.76"/><circle cx="1370" cy="523" r="11.5" opacity="0.76"/><circle cx="1396" cy="523" r="11.5" opacity="0.76"/><circle cx="1422" cy="523" r="11.5" opacity="0.76"/><circle cx="1447" cy="523" r="11.5" opacity="0.76"/><circle cx="1473" cy="523" r="11.5" opacity="0.76"/><circle cx="1499" cy="523" r="11.5" opacity="0.76"/><circle cx="1525" cy="523" r="11.5" opacity="0.76"/><circle cx="1551" cy="523" r="11.5" opacity="0.76"/><circle cx="1577" cy="523" r="11.5" opacity="0.76"/><circle cx="1603" cy="523" r="11.5" opacity="0.76"/><circle cx="1629" cy="523" r="11.5" opacity="0.76"/><circle cx="1655" cy="523" r="11.5" opacity="0.76"/><circle cx="1005" cy="537" r="12.9" opacity="0.88"/><circle cx="1034" cy="537" r="12.9" opacity="0.88"/><circle cx="1063" cy="537" r="12.9" opacity="0.88"/><circle cx="1092" cy="537" r="12.9" opacity="0.88"/><circle cx="1121" cy="537" r="12.9" opacity="0.88"/><circle cx="1150" cy="537" r="12.9" opacity="0.88"/><circle cx="1179" cy="537" r="12.9" opacity="0.88"/><circle cx="1208" cy="537" r="12.9" opacity="0.88"/><circle cx="1237" cy="537" r="12.9" opacity="0.88"/><circle cx="1265" cy="537" r="12.9" opacity="0.88"/><circle cx="1294" cy="537" r="12.9" opacity="0.88"/><circle cx="1323" cy="537" r="12.9" opacity="0.88"/><circle cx="1352" cy="537" r="12.9" opacity="0.88"/><circle cx="1381" cy="537" r="12.9" opacity="0.88"/><circle cx="1410" cy="537" r="12.9" opacity="0.88"/><circle cx="1439" cy="537" r="12.9" opacity="0.88"/><circle cx="1468" cy="537" r="12.9" opacity="0.88"/><circle cx="1497" cy="537" r="12.9" opacity="0.88"/><circle cx="1526" cy="537" r="12.9" opacity="0.88"/><circle cx="1555" cy="537" r="12.9" opacity="0.88"/><circle cx="1584" cy="537" r="12.9" opacity="0.88"/><circle cx="1613" cy="537" r="12.9" opacity="0.88"/><circle cx="1641" cy="537" r="12.9" opacity="0.88"/><circle cx="944" cy="551" r="14.3" opacity="1.00"/><circle cx="976" cy="551" r="14.3" opacity="1.00"/><circle cx="1009" cy="551" r="14.3" opacity="1.00"/><circle cx="1041" cy="551" r="14.3" opacity="1.00"/><circle cx="1073" cy="551" r="14.3" opacity="1.00"/><circle cx="1105" cy="551" r="14.3" opacity="1.00"/><circle cx="1138" cy="551" r="14.3" opacity="1.00"/><circle cx="1170" cy="551" r="14.3" opacity="1.00"/><circle cx="1202" cy="551" r="14.3" opacity="1.00"/><circle cx="1234" cy="551" r="14.3" opacity="1.00"/><circle cx="1267" cy="551" r="14.3" opacity="1.00"/><circle cx="1299" cy="551" r="14.3" opacity="1.00"/><circle cx="1331" cy="551" r="14.3" opacity="1.00"/><circle cx="1363" cy="551" r="14.3" opacity="1.00"/><circle cx="1396" cy="551" r="14.3" opacity="1.00"/><circle cx="1428" cy="551" r="14.3" opacity="1.00"/><circle cx="1460" cy="551" r="14.3" opacity="1.00"/><circle cx="1492" cy="551" r="14.3" opacity="1.00"/><circle cx="1525" cy="551" r="14.3" opacity="1.00"/><circle cx="1557" cy="551" r="14.3" opacity="1.00"/><circle cx="1589" cy="551" r="14.3" opacity="1.00"/><circle cx="1621" cy="551" r="14.3" opacity="1.00"/><circle cx="1654" cy="551" r="14.3" opacity="1.00"/><circle cx="910" cy="568" r="16.0" opacity="1.00"/><circle cx="946" cy="568" r="16.0" opacity="1.00"/><circle cx="982" cy="568" r="16.0" opacity="1.00"/><circle cx="1018" cy="568" r="16.0" opacity="1.00"/><circle cx="1054" cy="568" r="16.0" opacity="1.00"/><circle cx="1090" cy="568" r="16.0" opacity="1.00"/><circle cx="1126" cy="568" r="16.0" opacity="1.00"/><circle cx="1162" cy="568" r="16.0" opacity="1.00"/><circle cx="1198" cy="568" r="16.0" opacity="1.00"/><circle cx="1234" cy="568" r="16.0" opacity="1.00"/><circle cx="1270" cy="568" r="16.0" opacity="1.00"/><circle cx="1306" cy="568" r="16.0" opacity="1.00"/><circle cx="1342" cy="568" r="16.0" opacity="1.00"/><circle cx="1378" cy="568" r="16.0" opacity="1.00"/><circle cx="1414" cy="568" r="16.0" opacity="1.00"/><circle cx="1450" cy="568" r="16.0" opacity="1.00"/><circle cx="1485" cy="568" r="16.0" opacity="1.00"/><circle cx="1521" cy="568" r="16.0" opacity="1.00"/><circle cx="1557" cy="568" r="16.0" opacity="1.00"/><circle cx="1593" cy="568" r="16.0" opacity="1.00"/><circle cx="1629" cy="568" r="16.0" opacity="1.00"/><circle cx="834" cy="586" r="17.8" opacity="1.00"/><circle cx="874" cy="586" r="17.8" opacity="1.00"/><circle cx="914" cy="586" r="17.8" opacity="1.00"/><circle cx="955" cy="586" r="17.8" opacity="1.00"/><circle cx="995" cy="586" r="17.8" opacity="1.00"/><circle cx="1035" cy="586" r="17.8" opacity="1.00"/><circle cx="1075" cy="586" r="17.8" opacity="1.00"/><circle cx="1115" cy="586" r="17.8" opacity="1.00"/><circle cx="1155" cy="586" r="17.8" opacity="1.00"/><circle cx="1195" cy="586" r="17.8" opacity="1.00"/><circle cx="1235" cy="586" r="17.8" opacity="1.00"/><circle cx="1275" cy="586" r="17.8" opacity="1.00"/><circle cx="1315" cy="586" r="17.8" opacity="1.00"/><circle cx="1356" cy="586" r="17.8" opacity="1.00"/><circle cx="1396" cy="586" r="17.8" opacity="1.00"/><circle cx="1436" cy="586" r="17.8" opacity="1.00"/><circle cx="1476" cy="586" r="17.8" opacity="1.00"/><circle cx="1516" cy="586" r="17.8" opacity="1.00"/><circle cx="1556" cy="586" r="17.8" opacity="1.00"/><circle cx="1596" cy="586" r="17.8" opacity="1.00"/><circle cx="1636" cy="586" r="17.8" opacity="1.00"/></g><g fill="#cfd6e0" filter="url(#ab2)"><rect x="1150" y="85" width="2.0" height="470" opacity="0.12"/><rect x="1164" y="85" width="7.2" height="470" opacity="0.17"/><rect x="1188" y="85" width="6.8" height="470" opacity="0.15"/><rect x="1207" y="85" width="5.5" height="470" opacity="0.18"/><rect x="1229" y="85" width="2.4" height="470" opacity="0.10"/><rect x="1253" y="85" width="2.4" height="470" opacity="0.07"/><rect x="1265" y="85" width="5.8" height="470" opacity="0.06"/><rect x="1282" y="85" width="2.4" height="470" opacity="0.14"/><rect x="1301" y="85" width="2.3" height="470" opacity="0.08"/><rect x="1325" y="85" width="2.7" height="470" opacity="0.10"/><rect x="1338" y="85" width="2.5" height="470" opacity="0.18"/><rect x="1353" y="85" width="4.2" height="470" opacity="0.15"/><rect x="1374" y="85" width="8.5" height="470" opacity="0.15"/><rect x="1398" y="85" width="5.1" height="470" opacity="0.09"/><rect x="1422" y="85" width="2.9" height="470" opacity="0.09"/><rect x="1447" y="85" width="3.9" height="470" opacity="0.09"/><rect x="1475" y="85" width="2.8" height="470" opacity="0.12"/><rect x="1500" y="85" width="2.3" height="470" opacity="0.17"/><rect x="1529" y="85" width="6.6" height="470" opacity="0.12"/><rect x="1553" y="85" width="6.7" height="470" opacity="0.11"/><rect x="1582" y="85" width="8.1" height="470" opacity="0.20"/><rect x="1596" y="85" width="3.8" height="470" opacity="0.09"/><rect x="1616" y="85" width="3.8" height="470" opacity="0.14"/><rect x="1641" y="85" width="3.8" height="470" opacity="0.16"/></g><ellipse cx="1330" cy="215" rx="170" ry="38" fill="#8f949c" opacity="0.35" filter="url(#ab12)"/><ellipse cx="1560" cy="330" rx="90" ry="40" fill="#7d838c" opacity="0.3" filter="url(#ab12)"/><circle cx="1310" cy="112" r="14" fill="url(#aauf)" opacity="0.9"/><circle cx="1480" cy="225" r="14" fill="url(#aauf)" opacity="0.42"/><circle cx="1226" cy="284" r="14.5" fill="url(#aauf)"/><circle cx="1358" cy="295" r="15.5" fill="url(#aauf)"/><use href="#a1" x="1635" y="191"/><use href="#a1" x="1581" y="174"/><use href="#a1" x="1503" y="199"/><use href="#a1" x="1564" y="227"/><use href="#a1" x="1553" y="250"/><use href="#a1" x="1511" y="286"/><use href="#a1" x="1476" y="249"/><use href="#a1" x="1498" y="300"/><use href="#a1" x="1497" y="305"/><use href="#a1" x="1562" y="247"/><use href="#a1" x="1609" y="205"/><use href="#a1" x="1515" y="208"/><use href="#a1" x="1430" y="285"/><use href="#a1" x="1291" y="326"/><use href="#a1" x="1573" y="167"/><use href="#a1" x="1516" y="291"/><use href="#a1" x="1621" y="205"/><use href="#a1" x="1528" y="279"/><use href="#a1" x="1592" y="225"/><use href="#a1" x="1617" y="201"/><use href="#a1" x="1452" y="315"/><use href="#a1" x="1577" y="240"/><use href="#a1" x="1658" y="195"/><use href="#a1" x="1582" y="219"/><use href="#a1" x="1481" y="316"/><use href="#a1" x="1578" y="241"/><use href="#a1" x="1322" y="354"/><use href="#a1" x="1582" y="235"/><use href="#a1" x="1492" y="328"/><use href="#a1" x="1311" y="345"/><use href="#a1" x="1634" y="192"/><use href="#a1" x="1571" y="163"/><use href="#a1" x="1645" y="206"/><use href="#a1" x="1558" y="247"/><use href="#a1" x="1482" y="329"/><use href="#a1" x="1614" y="218"/><use href="#a1" x="1437" y="293"/><use href="#a1" x="1431" y="357"/><use href="#a1" x="1538" y="285"/><use href="#a1" x="1606" y="265"/><use href="#a1" x="1627" y="203"/><use href="#a1" x="1587" y="242"/><use href="#a1" x="1421" y="341"/><use href="#a1" x="1487" y="307"/><use href="#a1" x="1369" y="379"/><use href="#a1" x="1264" y="382"/><use href="#a1" x="1597" y="205"/><use href="#a1" x="1438" y="342"/><use href="#a1" x="1321" y="392"/><use href="#a1" x="1567" y="236"/><use href="#a1" x="1504" y="201"/><use href="#a1" x="1494" y="271"/><use href="#a1" x="1487" y="259"/><use href="#a1" x="1447" y="365"/><use href="#a1" x="1410" y="340"/><use href="#a1" x="1277" y="417"/><use href="#a1" x="1363" y="381"/><use href="#a1" x="1544" y="263"/><use href="#a1" x="1453" y="332"/><use href="#a1" x="1330" y="420"/><use href="#a1" x="1257" y="440"/><use href="#a1" x="1647" y="218"/><use href="#a1" x="1558" y="256"/><use href="#a1" x="1269" y="420"/><use href="#a1" x="1577" y="223"/><use href="#a1" x="1640" y="199"/><use href="#a1" x="1412" y="357"/><use href="#a1" x="1338" y="430"/><use href="#a1" x="1273" y="394"/><use href="#a1" x="1545" y="234"/><use href="#a1" x="1599" y="228"/><use href="#a1" x="1516" y="302"/><use href="#a1" x="1500" y="319"/><use href="#a1" x="1282" y="403"/><use href="#a1" x="1664" y="190"/><use href="#a1" x="1340" y="364"/><use href="#a1" x="1536" y="228"/><use href="#a1" x="1569" y="234"/><use href="#a1" x="1506" y="350"/><use href="#a1" x="1644" y="209"/><use href="#a1" x="1376" y="377"/><use href="#a1" x="1357" y="302"/><use href="#a1" x="1222" y="465"/><use href="#a1" x="1337" y="384"/><use href="#a1" x="1148" y="448"/><use href="#a1" x="1324" y="406"/><use href="#a1" x="1629" y="212"/><use href="#a1" x="1566" y="316"/><use href="#a1" x="1103" y="470"/><use href="#a1" x="1501" y="339"/><use href="#a1" x="1339" y="381"/><use href="#a1" x="1567" y="233"/><use href="#a1" x="1307" y="393"/><use href="#a1" x="1460" y="388"/><use href="#a1" x="1589" y="186"/><use href="#a1" x="1391" y="395"/><use href="#a1" x="1519" y="284"/><use href="#a1" x="1284" y="461"/><use href="#a1" x="1311" y="393"/><use href="#a1" x="1206" y="411"/><use href="#a1" x="1360" y="364"/><use href="#a1" x="1658" y="190"/><use href="#a1" x="1500" y="296"/><use href="#a1" x="1299" y="393"/><use href="#a1" x="1201" y="489"/><use href="#a1" x="1276" y="443"/><use href="#a1" x="1632" y="208"/><use href="#a1" x="1433" y="348"/><use href="#a1" x="1533" y="267"/><use href="#a1" x="1667" y="242"/><use href="#a1" x="1332" y="377"/><use href="#a1" x="1362" y="370"/><use href="#a1" x="1292" y="407"/><use href="#a1" x="1188" y="513"/><use href="#a1" x="1208" y="499"/><use href="#a1" x="1332" y="391"/><use href="#a1" x="1547" y="297"/><use href="#a1" x="1138" y="527"/><use href="#a1" x="1590" y="221"/><use href="#a1" x="1540" y="272"/><use href="#a1" x="1242" y="469"/><use href="#a1" x="1139" y="518"/><use href="#a1" x="1336" y="384"/><use href="#a1" x="1443" y="351"/><use href="#a1" x="1213" y="485"/><use href="#a1" x="1659" y="232"/><use href="#a1" x="1252" y="375"/><use href="#a1" x="1114" y="487"/><use href="#a1" x="1616" y="213"/><use href="#a1" x="1173" y="521"/><use href="#a1" x="1410" y="344"/><use href="#a1" x="1285" y="437"/><use href="#a1" x="1547" y="267"/><use href="#a1" x="1355" y="298"/><use href="#a1" x="1440" y="358"/><use href="#a1" x="1330" y="364"/><use href="#a1" x="1474" y="246"/><use href="#a1" x="1600" y="196"/><use href="#a1" x="1299" y="405"/><use href="#a1" x="1452" y="377"/><use href="#a1" x="1426" y="278"/><use href="#a1" x="1527" y="217"/><use href="#a1" x="1503" y="280"/><use href="#a1" x="1393" y="345"/><use href="#a1" x="1246" y="514"/><use href="#a1" x="1260" y="448"/><use href="#a1" x="1553" y="253"/><use href="#a1" x="1500" y="314"/><use href="#a1" x="1181" y="518"/><use href="#a1" x="1471" y="312"/><use href="#a1" x="1391" y="370"/><use href="#a1" x="1598" y="253"/><use href="#a1" x="1534" y="268"/><use href="#a1" x="1460" y="338"/><use href="#a1" x="1449" y="337"/><use href="#a1" x="1491" y="303"/><use href="#a1" x="1145" y="507"/><use href="#a1" x="1437" y="327"/><use href="#a1" x="1519" y="286"/><use href="#a1" x="1296" y="408"/><use href="#a1" x="1365" y="312"/><use href="#a1" x="1470" y="326"/><use href="#a1" x="1256" y="448"/><use href="#a1" x="1176" y="505"/><use href="#a1" x="1364" y="364"/><use href="#a1" x="1226" y="476"/><use href="#a1" x="1193" y="513"/><use href="#a1" x="1333" y="394"/><use href="#a1" x="1212" y="500"/><use href="#a1" x="1230" y="495"/><use href="#a1" x="1301" y="338"/><use href="#a1" x="1272" y="440"/><use href="#a1" x="1559" y="304"/><use href="#a1" x="1390" y="341"/><use href="#a1" x="1168" y="468"/><use href="#a1" x="1160" y="519"/><use href="#a1" x="1292" y="328"/><use href="#a1" x="1253" y="459"/><use href="#a1" x="1444" y="304"/><use href="#a1" x="1226" y="468"/><use href="#a1" x="1610" y="275"/><use href="#a1" x="1219" y="490"/><use href="#a1" x="1385" y="330"/><use href="#a1" x="1385" y="387"/><use href="#a1" x="1247" y="471"/><use href="#a1" x="1106" y="475"/><use href="#a1" x="1156" y="499"/><use href="#a1" x="1144" y="445"/><use href="#a1" x="1515" y="283"/><use href="#a1" x="1432" y="354"/><use href="#a1" x="1374" y="319"/><use href="#a1" x="1189" y="500"/><use href="#a1" x="1284" y="411"/><use href="#a1" x="1233" y="468"/><use href="#a1" x="1488" y="307"/><use href="#a1" x="1228" y="436"/><use href="#a1" x="1292" y="470"/><use href="#a1" x="1374" y="362"/><use href="#a1" x="1156" y="504"/><use href="#a1" x="1385" y="367"/><use href="#a1" x="1151" y="515"/><use href="#a1" x="1465" y="328"/><use href="#a1" x="1399" y="353"/><use href="#a1" x="1458" y="316"/><use href="#a1" x="1466" y="333"/><use href="#a1" x="1157" y="507"/><use href="#a1" x="1399" y="359"/><use href="#a1" x="1193" y="508"/><use href="#a1" x="1174" y="473"/><use href="#a1" x="1329" y="395"/><use href="#a1" x="1144" y="524"/><use href="#a1" x="1296" y="414"/><use href="#a1" x="1410" y="365"/><use href="#a1" x="1255" y="470"/><use href="#a1" x="1287" y="421"/><use href="#a1" x="1373" y="371"/><use href="#a1" x="1311" y="401"/><use href="#a1" x="1168" y="505"/><use href="#a1" x="1212" y="418"/><use href="#a1" x="1249" y="369"/><use href="#a1" x="1388" y="362"/><use href="#a1" x="1346" y="436"/><use href="#a1" x="1266" y="451"/><use href="#a1" x="1236" y="503"/><use href="#a1" x="1264" y="453"/><use href="#a1" x="1319" y="408"/><use href="#a1" x="1221" y="425"/><use href="#a1" x="1240" y="446"/><use href="#a1" x="1188" y="545"/><use href="#a1" x="1155" y="456"/><use href="#a1" x="1278" y="451"/><use href="#a1" x="1187" y="482"/><use href="#a1" x="1183" y="533"/><use href="#a1" x="1120" y="497"/><use href="#a1" x="1265" y="446"/><use href="#a1" x="1227" y="481"/><use href="#a1" x="1204" y="498"/><use href="#a1" x="1233" y="474"/><use href="#a1" x="1129" y="507"/><use href="#a2" x="1581" y="192"/><use href="#a2" x="1607" y="191"/><use href="#a2" x="1524" y="203"/><use href="#a2" x="1534" y="212"/><use href="#a2" x="1563" y="154"/><use href="#a2" x="1591" y="170"/><use href="#a3" x="1550" y="249"/><use href="#a1" x="1640" y="226"/><use href="#a2" x="1466" y="237"/><use href="#a2" x="1648" y="205"/><use href="#a1" x="1577" y="205"/><use href="#a1" x="1630" y="173"/><use href="#a2" x="1555" y="230"/><use href="#a2" x="1283" y="317"/><use href="#a2" x="1347" y="289"/><use href="#a1" x="1532" y="292"/><use href="#a1" x="1549" y="311"/><use href="#a2" x="1512" y="192"/><use href="#a2" x="1485" y="275"/><use href="#a2" x="1502" y="321"/><use href="#a1" x="1613" y="284"/><use href="#a2" x="1550" y="282"/><use href="#a2" x="1444" y="321"/><use href="#a2" x="1304" y="352"/><use href="#a2" x="1462" y="310"/><use href="#a2" x="1573" y="182"/><use href="#a1" x="1672" y="259"/><use href="#a2" x="1590" y="202"/><use href="#a2" x="1401" y="334"/><use href="#a2" x="1579" y="247"/><use href="#a2" x="1470" y="379"/><use href="#a2" x="1258" y="362"/><use href="#a2" x="1495" y="190"/><use href="#a2" x="1312" y="331"/><use href="#a3" x="1397" y="346"/><use href="#a2" x="1263" y="368"/><use href="#a2" x="1255" y="389"/><use href="#a1" x="1553" y="279"/><use href="#a2" x="1439" y="278"/><use href="#a2" x="1245" y="379"/><use href="#a2" x="1611" y="257"/><use href="#a1" x="1606" y="245"/><use href="#a1" x="1662" y="217"/><use href="#a2" x="1511" y="274"/><use href="#a2" x="1558" y="292"/><use href="#a1" x="1443" y="380"/><use href="#a3" x="1570" y="225"/><use href="#a2" x="1211" y="432"/><use href="#a3" x="1615" y="196"/><use href="#a2" x="1294" y="343"/><use href="#a3" x="1308" y="400"/><use href="#a2" x="1655" y="246"/><use href="#a1" x="1355" y="434"/><use href="#a1" x="1377" y="394"/><use href="#a2" x="1516" y="223"/><use href="#a2" x="1580" y="156"/><use href="#a2" x="1527" y="232"/><use href="#a1" x="1510" y="327"/><use href="#a2" x="1229" y="421"/><use href="#a2" x="1203" y="423"/><use href="#a2" x="1384" y="314"/><use href="#a2" x="1375" y="336"/><use href="#a2" x="1364" y="291"/><use href="#a2" x="1116" y="469"/><use href="#a2" x="1599" y="180"/><use href="#a2" x="1357" y="316"/><use href="#a1" x="1529" y="247"/><use href="#a2" x="1436" y="310"/><use href="#a1" x="1479" y="284"/><use href="#a2" x="1513" y="194"/><use href="#a1" x="1605" y="248"/><use href="#a2" x="1393" y="324"/><use href="#a2" x="1155" y="442"/><use href="#a2" x="1583" y="160"/><use href="#a1" x="1264" y="412"/><use href="#a2" x="1496" y="206"/><use href="#a2" x="1544" y="221"/><use href="#a2" x="1632" y="217"/><use href="#a3" x="1176" y="492"/><use href="#a3" x="1421" y="354"/><use href="#a2" x="1573" y="312"/><use href="#a2" x="1341" y="359"/><use href="#a3" x="1534" y="270"/><use href="#a2" x="1435" y="271"/><use href="#a1" x="1594" y="239"/><use href="#a2" x="1455" y="361"/><use href="#a1" x="1430" y="323"/><use href="#a1" x="1288" y="445"/><use href="#a2" x="1454" y="299"/><use href="#a2" x="1565" y="301"/><use href="#a2" x="1137" y="453"/><use href="#a2" x="1386" y="371"/><use href="#a3" x="1375" y="374"/><use href="#a2" x="1429" y="300"/><use href="#a2" x="1666" y="225"/><use href="#a2" x="1300" y="319"/><use href="#a1" x="1311" y="369"/><use href="#a1" x="1585" y="258"/><use href="#a2" x="1282" y="387"/><use href="#a2" x="1348" y="306"/><use href="#a3" x="1594" y="214"/><use href="#a2" x="1656" y="215"/><use href="#a1" x="1251" y="532"/><use href="#a2" x="1445" y="349"/><use href="#a2" x="1477" y="265"/><use href="#a1" x="1321" y="425"/><use href="#a2" x="1323" y="370"/><use href="#a2" x="1302" y="322"/><use href="#a2" x="1565" y="171"/><use href="#a2" x="1506" y="215"/><use href="#a2" x="1494" y="285"/><use href="#a2" x="1620" y="265"/><use href="#a2" x="1671" y="234"/><use href="#a2" x="1238" y="431"/><use href="#a2" x="1189" y="530"/><use href="#a2" x="1459" y="371"/><use href="#a3" x="1463" y="318"/><use href="#a2" x="1331" y="350"/><use href="#a2" x="1494" y="254"/><use href="#a2" x="1264" y="398"/><use href="#a2" x="1333" y="405"/><use href="#a2" x="1322" y="341"/><use href="#a2" x="1346" y="425"/><use href="#a2" x="1508" y="331"/><use href="#a1" x="1601" y="276"/><use href="#a2" x="1384" y="345"/><use href="#a2" x="1537" y="241"/><use href="#a2" x="1366" y="326"/><use href="#a3" x="1636" y="204"/><use href="#a3" x="1527" y="282"/><use href="#a2" x="1199" y="538"/><use href="#a1" x="1162" y="485"/><use href="#a2" x="1131" y="490"/><use href="#a2" x="1220" y="442"/><use href="#a1" x="1519" y="342"/><use href="#a2" x="1487" y="335"/><use href="#a3" x="1492" y="318"/><use href="#a3" x="1165" y="513"/><use href="#a1" x="1398" y="384"/><use href="#a2" x="1215" y="404"/><use href="#a1" x="1399" y="415"/><use href="#a2" x="1468" y="255"/><use href="#a2" x="1593" y="268"/><use href="#a2" x="1483" y="239"/><use href="#a2" x="1284" y="334"/><use href="#a2" x="1247" y="441"/><use href="#a2" x="1486" y="244"/><use href="#a2" x="1503" y="264"/><use href="#a1" x="1252" y="511"/><use href="#a2" x="1098" y="480"/><use href="#a3" x="1495" y="307"/><use href="#a1" x="1191" y="524"/><use href="#a1" x="1341" y="415"/><use href="#a2" x="1447" y="289"/><use href="#a2" x="1418" y="269"/><use href="#a2" x="1421" y="289"/><use href="#a2" x="1366" y="295"/><use href="#a1" x="1365" y="338"/><use href="#a2" x="1291" y="459"/><use href="#a3" x="1274" y="424"/><use href="#a1" x="1172" y="538"/><use href="#a2" x="1314" y="361"/><use href="#a3" x="1217" y="484"/><use href="#a2" x="1153" y="438"/><use href="#a2" x="1112" y="463"/><use href="#a2" x="1229" y="452"/><use href="#a1" x="1221" y="460"/><use href="#a2" x="1136" y="436"/><use href="#a2" x="1375" y="305"/><use href="#a2" x="1113" y="501"/><use href="#a2" x="1395" y="381"/><use href="#a1" x="1539" y="301"/><use href="#a3" x="1431" y="334"/><use href="#a2" x="1286" y="479"/><use href="#a1" x="1572" y="335"/><use href="#a3" x="1229" y="469"/><use href="#a2" x="1123" y="480"/><use href="#a1" x="1336" y="403"/><use href="#a2" x="1272" y="377"/><use href="#a2" x="1291" y="396"/><use href="#a3" x="1330" y="390"/><use href="#a2" x="1241" y="360"/><use href="#a1" x="1457" y="361"/><use href="#a3" x="1243" y="453"/><use href="#a3" x="1339" y="365"/><use href="#a1" x="1268" y="458"/><use href="#a1" x="1515" y="364"/><use href="#a2" x="1198" y="402"/><use href="#a1" x="1246" y="494"/><use href="#a1" x="1467" y="403"/><use href="#a1" x="1238" y="491"/><use href="#a1" x="1298" y="489"/><use href="#a2" x="1095" y="461"/><use href="#a2" x="1382" y="402"/><use href="#a1" x="1195" y="561"/><use href="#a1" x="1180" y="517"/><use href="#a2" x="1157" y="472"/><use href="#a1" x="1368" y="385"/><use href="#a2" x="1147" y="463"/><use href="#a2" x="1220" y="411"/><use href="#a2" x="1401" y="392"/><use href="#a1" x="1314" y="415"/><use href="#a2" x="1195" y="479"/><use href="#a2" x="1238" y="522"/><use href="#a2" x="1274" y="407"/><use href="#a2" x="1167" y="481"/><use href="#a2" x="1175" y="460"/><use href="#a3" x="1128" y="514"/><use href="#a2" x="1185" y="470"/><use href="#a2" x="1106" y="491"/><use href="#a1" x="1247" y="502"/><use href="#a3" x="1268" y="430"/><use href="#a2" x="1139" y="501"/><use href="#a1" x="1353" y="457"/><use href="#a2" x="1163" y="530"/><use href="#a2" x="1165" y="451"/><use href="#a2" x="1287" y="449"/><use href="#a1" x="1302" y="467"/><use href="#a2" x="1177" y="490"/><use href="#a2" x="1121" y="512"/><use href="#a3" x="1623" y="165"/><use href="#a3" x="1570" y="197"/><use href="#a3" x="1671" y="214"/><use href="#a3" x="1615" y="242"/><use href="#a3" x="1522" y="239"/><use href="#a3" x="1570" y="323"/><use href="#a3" x="1407" y="381"/><use href="#a3" x="1519" y="324"/><use href="#a3" x="1466" y="358"/><use href="#a3" x="1670" y="247"/><use href="#a3" x="1257" y="404"/><use href="#a3" x="1304" y="361"/><use href="#a3" x="1562" y="276"/><use href="#a3" x="1358" y="330"/><use href="#a3" x="1351" y="445"/><use href="#a3" x="1200" y="521"/><use href="#a3" x="1297" y="442"/><use href="#a3" x="1472" y="276"/><use href="#a3" x="1155" y="477"/><use href="#a3" x="1423" y="315"/><use href="#a3" x="1345" y="400"/><use href="#a3" x="1214" y="452"/><use href="#a3" x="1611" y="272"/><use href="#a3" x="1465" y="391"/><use href="#a3" x="1249" y="520"/><use href="#a3" x="1513" y="352"/><use href="#a3" x="1397" y="403"/><use href="#a3" x="1255" y="491"/><use href="#a3" x="1193" y="549"/><use href="#a3" x="1296" y="477"/><circle cx="1509.0" cy="352.6" r="20.0" fill="#ffd21e" opacity="0.45" filter="url(#ab2)"/><circle cx="1509.0" cy="352.6" r="16.0" fill="url(#aau)"/><circle cx="1396.0" cy="428.6" r="19.0" fill="#ffd21e" opacity="0.45" filter="url(#ab2)"/><circle cx="1396.0" cy="428.6" r="15.0" fill="url(#aau)"/><circle cx="1380.0" cy="552.0" r="19.0" fill="#ffd21e" opacity="0.45" filter="url(#ab2)"/><circle cx="1380.0" cy="552.0" r="15.0" fill="url(#aau)"/><circle cx="1633.0" cy="300.0" r="19.0" fill="#ffd21e" opacity="0.45" filter="url(#ab2)"/><circle cx="1633.0" cy="300.0" r="15.0" fill="url(#aau)"/><circle cx="1392.0" cy="201.0" r="10.0" fill="url(#agl)" stroke="#c9d2ee" stroke-width="1"/><circle cx="1533.0" cy="352.6" r="9.5" fill="url(#agl)" stroke="#c9d2ee" stroke-width="1"/><circle cx="1417.5" cy="440.7" r="9.5" fill="url(#agl)" stroke="#c9d2ee" stroke-width="1"/><circle cx="1398.0" cy="537.0" r="9.5" fill="url(#agl)" stroke="#c9d2ee" stroke-width="1"/><circle cx="1634.0" cy="327.6" r="9.0" fill="url(#agl)" stroke="#c9d2ee" stroke-width="1"/><circle cx="1404.5" cy="577.0" r="9.0" fill="url(#agl)" stroke="#c9d2ee" stroke-width="1"/></g><path d="M1387.8 63.3C1408.8 63.0 1423.8 62.6 1443.7 67.6C1463.6 72.5 1486.1 81.0 1507.3 93.0C1528.5 105.0 1553.3 123.8 1571.0 139.7C1588.7 155.6 1601.0 169.8 1613.4 188.5C1625.8 207.2 1636.6 227.4 1645.3 252.2C1654.0 276.9 1662.3 312.4 1665.4 337.0C1668.5 361.6 1668.6 377.8 1663.7 399.9C1658.8 422.0 1648.2 447.3 1635.8 469.8C1623.4 492.3 1612.5 514.4 1589.2 535.0C1565.9 555.6 1529.0 580.2 1496.0 593.2C1463.0 606.2 1426.1 612.2 1391.2 613.0C1356.3 613.8 1315.5 606.2 1286.4 597.9C1257.3 589.6 1235.9 578.1 1216.5 563.0C1197.1 547.9 1182.3 526.4 1169.9 507.0C1157.5 487.6 1147.8 474.3 1141.9 446.5C1136.0 418.7 1134.3 376.1 1134.5 340.0C1134.7 303.9 1135.8 260.3 1143.0 230.0C1150.2 199.7 1164.2 177.7 1177.8 158.2C1191.4 138.7 1209.0 125.3 1224.5 113.1C1240.0 100.9 1255.5 92.3 1271.1 85.1C1286.6 77.8 1298.3 73.2 1317.8 69.6C1337.2 66.0 1366.8 63.6 1387.8 63.3Z" fill="none" stroke="#d3e3f1" stroke-width="3.6"/>
<text x="69" y="81.5" font-size="47" font-weight="bold" stroke="#000" stroke-width="3.2" stroke-linejoin="round" paint-order="stroke" fill="#000">a</text>
<text x="1255" y="680" font-size="52" fill="#111">PTF-PE<tspan font-size="22" font-weight="bold" dy="-6" dx="1">•••</tspan><tspan dy="6" dx="1">Li</tspan><tspan font-size="31" dy="-17">+</tspan></text>
</g>
<g font-family="Liberation Sans, sans-serif" fill="#000">
<text x="1713" y="91" font-size="47" font-weight="bold" stroke="#000" stroke-width="3" stroke-linejoin="round" paint-order="stroke">b</text>
<defs><radialGradient id="bs" cx="0.36" cy="0.33" r="0.62" fx="0.34" fy="0.31"><stop offset="0" stop-color="#ffffff"/><stop offset="0.16" stop-color="#cfe9e7"/><stop offset="0.36" stop-color="#3d8a89"/><stop offset="0.56" stop-color="#0f6464"/><stop offset="1" stop-color="#0d5e5f"/></radialGradient>
<circle id="bc" r="12.1" fill="url(#bs)"/>
<clipPath id="bclip"><rect x="1918.0" y="98.5" width="1427.0" height="616.2"/></clipPath></defs>
<g clip-path="url(#bclip)">
<use href="#bc" x="1925.8" y="222.4"/>
<use href="#bc" x="1928.7" y="285.2"/>
<use href="#bc" x="1931.5" y="286.6"/>
<use href="#bc" x="1934.3" y="287.1"/>
<use href="#bc" x="1937.2" y="286.2"/>
<use href="#bc" x="1940.0" y="281.5"/>
<use href="#bc" x="1942.9" y="275.0"/>
<use href="#bc" x="1945.7" y="273.6"/>
<use href="#bc" x="1948.5" y="273.8"/>
<use href="#bc" x="1951.4" y="273.9"/>
<use href="#bc" x="1954.2" y="273.2"/>
<use href="#bc" x="1957.0" y="273.8"/>
<use href="#bc" x="1959.9" y="273.4"/>
<use href="#bc" x="1962.7" y="273.8"/>
<use href="#bc" x="1965.5" y="274.4"/>
<use href="#bc" x="1968.4" y="274.0"/>
<use href="#bc" x="1971.2" y="276.0"/>
<use href="#bc" x="1974.0" y="276.9"/>
<use href="#bc" x="1976.9" y="278.8"/>
<use href="#bc" x="1979.7" y="280.2"/>
<use href="#bc" x="1982.6" y="281.0"/>
<use href="#bc" x="1985.4" y="281.7"/>
<use href="#bc" x="1988.2" y="283.8"/>
<use href="#bc" x="1991.1" y="284.9"/>
<use href="#bc" x="1993.9" y="285.6"/>
<use href="#bc" x="1996.7" y="285.4"/>
<use href="#bc" x="1999.6" y="286.1"/>
<use href="#bc" x="2002.4" y="286.5"/>
<use href="#bc" x="2005.2" y="285.9"/>
<use href="#bc" x="2008.1" y="286.8"/>
<use href="#bc" x="2010.9" y="285.4"/>
<use href="#bc" x="2013.8" y="285.8"/>
<use href="#bc" x="2016.6" y="285.7"/>
<use href="#bc" x="2019.4" y="286.1"/>
<use href="#bc" x="2022.3" y="286.3"/>
<use href="#bc" x="2025.1" y="286.0"/>
<use href="#bc" x="2027.9" y="287.3"/>
<use href="#bc" x="2030.8" y="287.1"/>
<use href="#bc" x="2033.6" y="287.5"/>
<use href="#bc" x="2036.4" y="288.2"/>
<use href="#bc" x="2039.3" y="288.0"/>
<use href="#bc" x="2042.1" y="288.6"/>
<use href="#bc" x="2044.9" y="288.6"/>
<use href="#bc" x="2047.8" y="288.4"/>
<use href="#bc" x="2050.6" y="287.8"/>
<use href="#bc" x="2053.5" y="288.1"/>
<use href="#bc" x="2056.3" y="287.6"/>
<use href="#bc" x="2059.1" y="286.5"/>
<use href="#bc" x="2062.0" y="286.0"/>
<use href="#bc" x="2064.8" y="285.5"/>
<use href="#bc" x="2067.6" y="285.3"/>
<use href="#bc" x="2070.5" y="285.9"/>
<use href="#bc" x="2073.3" y="286.9"/>
<use href="#bc" x="2076.1" y="286.9"/>
<use href="#bc" x="2079.0" y="287.5"/>
<use href="#bc" x="2081.8" y="287.4"/>
<use href="#bc" x="2084.7" y="287.9"/>
<use href="#bc" x="2087.5" y="288.9"/>
<use href="#bc" x="2090.3" y="288.4"/>
<use href="#bc" x="2093.2" y="288.8"/>
<use href="#bc" x="2096.0" y="287.7"/>
<use href="#bc" x="2098.8" y="286.5"/>
<use href="#bc" x="2101.7" y="286.6"/>
<use href="#bc" x="2104.5" y="285.2"/>
<use href="#bc" x="2107.3" y="284.7"/>
<use href="#bc" x="2110.2" y="290.6"/>
<use href="#bc" x="2113.0" y="294.3"/>
<use href="#bc" x="2115.8" y="296.9"/>
<use href="#bc" x="2118.7" y="298.8"/>
<use href="#bc" x="2121.5" y="302.0"/>
<use href="#bc" x="2124.4" y="301.3"/>
<use href="#bc" x="2127.2" y="301.2"/>
<use href="#bc" x="2130.0" y="301.0"/>
<use href="#bc" x="2132.9" y="301.0"/>
<use href="#bc" x="2135.7" y="300.7"/>
<use href="#bc" x="2138.5" y="300.8"/>
<use href="#bc" x="2141.4" y="301.6"/>
<use href="#bc" x="2144.2" y="301.5"/>
<use href="#bc" x="2147.0" y="302.5"/>
<use href="#bc" x="2149.9" y="301.8"/>
<use href="#bc" x="2152.7" y="302.1"/>
<use href="#bc" x="2155.6" y="301.9"/>
<use href="#bc" x="2158.4" y="302.4"/>
<use href="#bc" x="2161.2" y="303.4"/>
<use href="#bc" x="2164.1" y="303.5"/>
<use href="#bc" x="2166.9" y="303.4"/>
<use href="#bc" x="2169.7" y="304.5"/>
<use href="#bc" x="2172.6" y="304.2"/>
<use href="#bc" x="2175.4" y="304.8"/>
<use href="#bc" x="2178.2" y="305.1"/>
<use href="#bc" x="2181.1" y="305.4"/>
<use href="#bc" x="2183.9" y="304.8"/>
<use href="#bc" x="2186.7" y="305.9"/>
<use href="#bc" x="2189.6" y="305.9"/>
<use href="#bc" x="2192.4" y="306.0"/>
<use href="#bc" x="2195.3" y="305.6"/>
<use href="#bc" x="2198.1" y="306.9"/>
<use href="#bc" x="2200.9" y="306.7"/>
<use href="#bc" x="2203.8" y="306.8"/>
<use href="#bc" x="2206.6" y="306.6"/>
<use href="#bc" x="2209.4" y="307.0"/>
<use href="#bc" x="2212.3" y="307.2"/>
<use href="#bc" x="2215.1" y="308.2"/>
<use href="#bc" x="2217.9" y="308.3"/>
<use href="#bc" x="2220.8" y="308.6"/>
<use href="#bc" x="2223.6" y="308.2"/>
<use href="#bc" x="2226.5" y="308.4"/>
<use href="#bc" x="2229.3" y="309.7"/>
<use href="#bc" x="2232.1" y="309.9"/>
<use href="#bc" x="2235.0" y="310.1"/>
<use href="#bc" x="2237.8" y="310.4"/>
<use href="#bc" x="2240.6" y="310.3"/>
<use href="#bc" x="2243.5" y="310.4"/>
<use href="#bc" x="2246.3" y="311.1"/>
<use href="#bc" x="2249.1" y="311.7"/>
<use href="#bc" x="2252.0" y="311.4"/>
<use href="#bc" x="2254.8" y="311.8"/>
<use href="#bc" x="2257.6" y="311.8"/>
<use href="#bc" x="2260.5" y="311.5"/>
<use href="#bc" x="2263.3" y="312.1"/>
<use href="#bc" x="2266.2" y="312.7"/>
<use href="#bc" x="2269.0" y="312.8"/>
<use href="#bc" x="2271.8" y="313.1"/>
<use href="#bc" x="2274.7" y="314.2"/>
<use href="#bc" x="2277.5" y="313.4"/>
<use href="#bc" x="2280.3" y="313.9"/>
<use href="#bc" x="2283.2" y="313.1"/>
<use href="#bc" x="2286.0" y="312.5"/>
<use href="#bc" x="2288.8" y="315.1"/>
<use href="#bc" x="2291.7" y="317.2"/>
<use href="#bc" x="2294.5" y="318.3"/>
<use href="#bc" x="2297.4" y="318.4"/>
<use href="#bc" x="2300.2" y="319.9"/>
<use href="#bc" x="2303.0" y="320.6"/>
<use href="#bc" x="2305.9" y="321.2"/>
<use href="#bc" x="2308.7" y="321.6"/>
<use href="#bc" x="2311.5" y="321.7"/>
<use href="#bc" x="2314.4" y="322.4"/>
<use href="#bc" x="2317.2" y="322.8"/>
<use href="#bc" x="2320.0" y="323.0"/>
<use href="#bc" x="2322.9" y="323.4"/>
<use href="#bc" x="2325.7" y="323.4"/>
<use href="#bc" x="2328.5" y="324.2"/>
<use href="#bc" x="2331.4" y="323.4"/>
<use href="#bc" x="2334.2" y="324.1"/>
<use href="#bc" x="2337.1" y="325.1"/>
<use href="#bc" x="2339.9" y="325.3"/>
<use href="#bc" x="2342.7" y="325.5"/>
<use href="#bc" x="2345.6" y="325.9"/>
<use href="#bc" x="2348.4" y="326.5"/>
<use href="#bc" x="2351.2" y="325.9"/>
<use href="#bc" x="2354.1" y="326.1"/>
<use href="#bc" x="2356.9" y="327.1"/>
<use href="#bc" x="2359.7" y="327.5"/>
<use href="#bc" x="2362.6" y="328.3"/>
<use href="#bc" x="2365.4" y="328.7"/>
<use href="#bc" x="2368.3" y="328.7"/>
<use href="#bc" x="2371.1" y="329.1"/>
<use href="#bc" x="2373.9" y="328.8"/>
<use href="#bc" x="2376.8" y="330.0"/>
<use href="#bc" x="2379.6" y="330.5"/>
<use href="#bc" x="2382.4" y="329.7"/>
<use href="#bc" x="2385.3" y="330.6"/>
<use href="#bc" x="2388.1" y="331.4"/>
<use href="#bc" x="2390.9" y="331.2"/>
<use href="#bc" x="2393.8" y="332.3"/>
<use href="#bc" x="2396.6" y="332.0"/>
<use href="#bc" x="2399.4" y="331.7"/>
<use href="#bc" x="2402.3" y="332.2"/>
<use href="#bc" x="2405.1" y="332.8"/>
<use href="#bc" x="2408.0" y="333.7"/>
<use href="#bc" x="2410.8" y="333.9"/>
<use href="#bc" x="2413.6" y="334.6"/>
<use href="#bc" x="2416.5" y="334.1"/>
<use href="#bc" x="2419.3" y="334.8"/>
<use href="#bc" x="2422.1" y="334.8"/>
<use href="#bc" x="2425.0" y="335.8"/>
<use href="#bc" x="2427.8" y="336.3"/>
<use href="#bc" x="2430.6" y="335.8"/>
<use href="#bc" x="2433.5" y="336.0"/>
<use href="#bc" x="2436.3" y="336.5"/>
<use href="#bc" x="2439.2" y="336.9"/>
<use href="#bc" x="2442.0" y="337.3"/>
<use href="#bc" x="2444.8" y="337.7"/>
<use href="#bc" x="2447.7" y="338.8"/>
<use href="#bc" x="2450.5" y="338.7"/>
<use href="#bc" x="2453.3" y="339.3"/>
<use href="#bc" x="2456.2" y="340.1"/>
<use href="#bc" x="2459.0" y="340.5"/>
<use href="#bc" x="2461.8" y="340.5"/>
<use href="#bc" x="2464.7" y="340.9"/>
<use href="#bc" x="2467.5" y="340.7"/>
<use href="#bc" x="2470.3" y="340.7"/>
<use href="#bc" x="2473.2" y="341.7"/>
<use href="#bc" x="2476.0" y="341.4"/>
<use href="#bc" x="2478.9" y="341.7"/>
<use href="#bc" x="2481.7" y="342.1"/>
<use href="#bc" x="2484.5" y="343.3"/>
<use href="#bc" x="2487.4" y="343.8"/>
<use href="#bc" x="2490.2" y="344.2"/>
<use href="#bc" x="2493.0" y="344.5"/>
<use href="#bc" x="2495.9" y="344.7"/>
<use href="#bc" x="2498.7" y="344.4"/>
<use href="#bc" x="2501.5" y="344.3"/>
<use href="#bc" x="2504.4" y="344.6"/>
<use href="#bc" x="2507.2" y="345.4"/>
<use href="#bc" x="2510.1" y="345.4"/>
<use href="#bc" x="2512.9" y="345.4"/>
<use href="#bc" x="2515.7" y="346.6"/>
<use href="#bc" x="2518.6" y="346.1"/>
<use href="#bc" x="2521.4" y="346.1"/>
<use href="#bc" x="2524.2" y="346.5"/>
<use href="#bc" x="2527.1" y="346.8"/>
<use href="#bc" x="2529.9" y="347.4"/>
<use href="#bc" x="2532.7" y="348.0"/>
<use href="#bc" x="2535.6" y="347.5"/>
<use href="#bc" x="2538.4" y="348.3"/>
<use href="#bc" x="2541.2" y="348.0"/>
<use href="#bc" x="2544.1" y="348.0"/>
<use href="#bc" x="2546.9" y="349.0"/>
<use href="#bc" x="2549.8" y="349.3"/>
<use href="#bc" x="2552.6" y="348.8"/>
<use href="#bc" x="2555.4" y="349.4"/>
<use href="#bc" x="2558.3" y="350.3"/>
<use href="#bc" x="2561.1" y="350.6"/>
<use href="#bc" x="2563.9" y="350.8"/>
<use href="#bc" x="2566.8" y="350.1"/>
<use href="#bc" x="2569.6" y="350.4"/>
<use href="#bc" x="2572.4" y="351.5"/>
<use href="#bc" x="2575.3" y="350.9"/>
<use href="#bc" x="2578.1" y="350.9"/>
<use href="#bc" x="2581.0" y="351.5"/>
<use href="#bc" x="2583.8" y="352.2"/>
<use href="#bc" x="2586.6" y="352.1"/>
<use href="#bc" x="2589.5" y="352.9"/>
<use href="#bc" x="2592.3" y="353.3"/>
<use href="#bc" x="2595.1" y="352.2"/>
<use href="#bc" x="2598.0" y="352.9"/>
<use href="#bc" x="2600.8" y="353.3"/>
<use href="#bc" x="2603.6" y="353.0"/>
<use href="#bc" x="2606.5" y="353.8"/>
<use href="#bc" x="2609.3" y="353.5"/>
<use href="#bc" x="2612.1" y="353.8"/>
<use href="#bc" x="2615.0" y="354.8"/>
<use href="#bc" x="2617.8" y="355.0"/>
<use href="#bc" x="2620.7" y="355.1"/>
<use href="#bc" x="2623.5" y="355.4"/>
<use href="#bc" x="2626.3" y="355.2"/>
<use href="#bc" x="2629.2" y="355.9"/>
<use href="#bc" x="2632.0" y="355.9"/>
<use href="#bc" x="2634.8" y="356.5"/>
<use href="#bc" x="2637.7" y="355.7"/>
<use href="#bc" x="2640.5" y="356.7"/>
<use href="#bc" x="2643.3" y="356.8"/>
<use href="#bc" x="2646.2" y="356.8"/>
<use href="#bc" x="2649.0" y="356.6"/>
<use href="#bc" x="2651.9" y="357.5"/>
<use href="#bc" x="2654.7" y="357.1"/>
<use href="#bc" x="2657.5" y="357.9"/>
<use href="#bc" x="2660.4" y="358.0"/>
<use href="#bc" x="2663.2" y="358.3"/>
<use href="#bc" x="2666.0" y="359.2"/>
<use href="#bc" x="2668.9" y="358.9"/>
<use href="#bc" x="2671.7" y="359.4"/>
<use href="#bc" x="2674.5" y="359.9"/>
<use href="#bc" x="2677.4" y="359.1"/>
<use href="#bc" x="2680.2" y="360.1"/>
<use href="#bc" x="2683.0" y="360.0"/>
<use href="#bc" x="2685.9" y="359.9"/>
<use href="#bc" x="2688.7" y="360.3"/>
<use href="#bc" x="2691.6" y="360.9"/>
<use href="#bc" x="2694.4" y="360.9"/>
<use href="#bc" x="2697.2" y="361.0"/>
<use href="#bc" x="2700.1" y="361.0"/>
<use href="#bc" x="2702.9" y="362.1"/>
<use href="#bc" x="2705.7" y="361.7"/>
<use href="#bc" x="2708.6" y="362.3"/>
<use href="#bc" x="2711.4" y="362.4"/>
<use href="#bc" x="2714.2" y="361.9"/>
<use href="#bc" x="2717.1" y="362.5"/>
<use href="#bc" x="2719.9" y="362.6"/>
<use href="#bc" x="2722.8" y="362.5"/>
<use href="#bc" x="2725.6" y="362.5"/>
<use href="#bc" x="2728.4" y="363.3"/>
<use href="#bc" x="2731.3" y="363.2"/>
<use href="#bc" x="2734.1" y="363.5"/>
<use href="#bc" x="2736.9" y="363.7"/>
<use href="#bc" x="2739.8" y="363.7"/>
<use href="#bc" x="2742.6" y="364.1"/>
<use href="#bc" x="2745.4" y="364.2"/>
<use href="#bc" x="2748.3" y="364.5"/>
<use href="#bc" x="2751.1" y="364.0"/>
<use href="#bc" x="2753.9" y="364.5"/>
<use href="#bc" x="2756.8" y="364.5"/>
<use href="#bc" x="2759.6" y="364.6"/>
<use href="#bc" x="2762.5" y="365.7"/>
<use href="#bc" x="2765.3" y="365.4"/>
<use href="#bc" x="2768.1" y="365.1"/>
<use href="#bc" x="2771.0" y="365.4"/>
<use href="#bc" x="2773.8" y="366.5"/>
<use href="#bc" x="2776.6" y="366.7"/>
<use href="#bc" x="2779.5" y="366.5"/>
<use href="#bc" x="2782.3" y="367.1"/>
<use href="#bc" x="2785.1" y="367.1"/>
<use href="#bc" x="2788.0" y="367.5"/>
<use href="#bc" x="2790.8" y="366.9"/>
<use href="#bc" x="2793.7" y="366.9"/>
<use href="#bc" x="2796.5" y="366.9"/>
<use href="#bc" x="2799.3" y="368.1"/>
<use href="#bc" x="2802.2" y="367.5"/>
<use href="#bc" x="2805.0" y="367.7"/>
<use href="#bc" x="2807.8" y="368.6"/>
<use href="#bc" x="2810.7" y="367.8"/>
<use href="#bc" x="2813.5" y="367.9"/>
<use href="#bc" x="2816.3" y="369.0"/>
<use href="#bc" x="2819.2" y="368.2"/>
<use href="#bc" x="2822.0" y="369.1"/>
<use href="#bc" x="2824.8" y="369.2"/>
<use href="#bc" x="2827.7" y="368.7"/>
<use href="#bc" x="2830.5" y="369.1"/>
<use href="#bc" x="2833.4" y="370.1"/>
<use href="#bc" x="2836.2" y="369.9"/>
<use href="#bc" x="2839.0" y="370.0"/>
<use href="#bc" x="2841.9" y="370.4"/>
<use href="#bc" x="2844.7" y="370.8"/>
<use href="#bc" x="2847.5" y="370.8"/>
<use href="#bc" x="2850.4" y="370.4"/>
<use href="#bc" x="2853.2" y="371.5"/>
<use href="#bc" x="2856.0" y="370.9"/>
<use href="#bc" x="2858.9" y="371.2"/>
<use href="#bc" x="2861.7" y="371.9"/>
<use href="#bc" x="2864.6" y="371.7"/>
<use href="#bc" x="2867.4" y="371.5"/>
<use href="#bc" x="2870.2" y="371.8"/>
<use href="#bc" x="2873.1" y="372.5"/>
<use href="#bc" x="2875.9" y="371.5"/>
<use href="#bc" x="2878.7" y="371.9"/>
<use href="#bc" x="2881.6" y="371.8"/>
<use href="#bc" x="2884.4" y="373.1"/>
<use href="#bc" x="2887.2" y="373.1"/>
<use href="#bc" x="2890.1" y="373.5"/>
<use href="#bc" x="2892.9" y="372.7"/>
<use href="#bc" x="2895.7" y="373.5"/>
<use href="#bc" x="2898.6" y="373.9"/>
<use href="#bc" x="2901.4" y="373.6"/>
<use href="#bc" x="2904.3" y="373.7"/>
<use href="#bc" x="2907.1" y="374.5"/>
<use href="#bc" x="2909.9" y="375.9"/>
<use href="#bc" x="2912.8" y="376.7"/>
<use href="#bc" x="2915.6" y="376.4"/>
<use href="#bc" x="2918.4" y="377.1"/>
<use href="#bc" x="2921.3" y="377.2"/>
<use href="#bc" x="2924.1" y="378.3"/>
<use href="#bc" x="2926.9" y="378.7"/>
<use href="#bc" x="2929.8" y="378.2"/>
<use href="#bc" x="2932.6" y="378.0"/>
<use href="#bc" x="2935.5" y="378.0"/>
<use href="#bc" x="2938.3" y="376.4"/>
<use href="#bc" x="2941.1" y="376.3"/>
<use href="#bc" x="2944.0" y="375.6"/>
<use href="#bc" x="2946.8" y="376.9"/>
<use href="#bc" x="2949.6" y="376.3"/>
<use href="#bc" x="2952.5" y="377.7"/>
<use href="#bc" x="2955.3" y="377.0"/>
<use href="#bc" x="2958.1" y="377.9"/>
<use href="#bc" x="2961.0" y="377.8"/>
<use href="#bc" x="2963.8" y="377.2"/>
<use href="#bc" x="2966.6" y="376.4"/>
<use href="#bc" x="2969.5" y="377.0"/>
<use href="#bc" x="2972.3" y="376.8"/>
<use href="#bc" x="2975.2" y="376.5"/>
<use href="#bc" x="2978.0" y="377.0"/>
<use href="#bc" x="2980.8" y="377.3"/>
<use href="#bc" x="2983.7" y="377.4"/>
<use href="#bc" x="2986.5" y="377.7"/>
<use href="#bc" x="2989.3" y="377.6"/>
<use href="#bc" x="2992.2" y="377.6"/>
<use href="#bc" x="2995.0" y="377.8"/>
<use href="#bc" x="2997.8" y="377.4"/>
<use href="#bc" x="3000.7" y="378.1"/>
<use href="#bc" x="3003.5" y="378.0"/>
<use href="#bc" x="3006.4" y="378.6"/>
<use href="#bc" x="3009.2" y="378.6"/>
<use href="#bc" x="3012.0" y="379.2"/>
<use href="#bc" x="3014.9" y="379.1"/>
<use href="#bc" x="3017.7" y="379.6"/>
<use href="#bc" x="3020.5" y="378.8"/>
<use href="#bc" x="3023.4" y="379.3"/>
<use href="#bc" x="3026.2" y="379.9"/>
<use href="#bc" x="3029.0" y="379.7"/>
<use href="#bc" x="3031.9" y="379.3"/>
<use href="#bc" x="3034.7" y="380.6"/>
<use href="#bc" x="3037.5" y="379.9"/>
<use href="#bc" x="3040.4" y="380.6"/>
<use href="#bc" x="3043.2" y="380.7"/>
<use href="#bc" x="3046.1" y="380.4"/>
<use href="#bc" x="3048.9" y="381.2"/>
<use href="#bc" x="3051.7" y="381.2"/>
<use href="#bc" x="3054.6" y="381.2"/>
<use href="#bc" x="3057.4" y="381.0"/>
<use href="#bc" x="3060.2" y="382.5"/>
<use href="#bc" x="3063.1" y="382.6"/>
<use href="#bc" x="3065.9" y="383.6"/>
<use href="#bc" x="3068.7" y="384.4"/>
<use href="#bc" x="3071.6" y="385.5"/>
<use href="#bc" x="3074.4" y="385.8"/>
<use href="#bc" x="3077.3" y="386.4"/>
<use href="#bc" x="3080.1" y="386.6"/>
<use href="#bc" x="3082.9" y="386.9"/>
<use href="#bc" x="3085.8" y="386.3"/>
<use href="#bc" x="3088.6" y="386.5"/>
<use href="#bc" x="3091.4" y="386.2"/>
<use href="#bc" x="3094.3" y="385.8"/>
<use href="#bc" x="3097.1" y="384.4"/>
<use href="#bc" x="3099.9" y="383.9"/>
<use href="#bc" x="3102.8" y="384.1"/>
<use href="#bc" x="3105.6" y="384.5"/>
<use href="#bc" x="3108.4" y="384.4"/>
<use href="#bc" x="3111.3" y="384.2"/>
<use href="#bc" x="3114.1" y="383.9"/>
<use href="#bc" x="3117.0" y="384.4"/>
<use href="#bc" x="3119.8" y="384.2"/>
<use href="#bc" x="3122.6" y="384.6"/>
<use href="#bc" x="3125.5" y="383.8"/>
<use href="#bc" x="3128.3" y="383.9"/>
<use href="#bc" x="3131.1" y="384.6"/>
<use href="#bc" x="3134.0" y="385.2"/>
<use href="#bc" x="3136.8" y="384.4"/>
<use href="#bc" x="3139.6" y="385.4"/>
<use href="#bc" x="3142.5" y="385.5"/>
<use href="#bc" x="3145.3" y="386.1"/>
<use href="#bc" x="3148.2" y="385.7"/>
<use href="#bc" x="3151.0" y="385.7"/>
<use href="#bc" x="3153.8" y="385.8"/>
<use href="#bc" x="3156.7" y="386.4"/>
<use href="#bc" x="3159.5" y="386.1"/>
<use href="#bc" x="3162.3" y="386.9"/>
<use href="#bc" x="3165.2" y="386.7"/>
<use href="#bc" x="3168.0" y="387.1"/>
<use href="#bc" x="3170.8" y="386.8"/>
<use href="#bc" x="3173.7" y="387.4"/>
<use href="#bc" x="3176.5" y="387.6"/>
<use href="#bc" x="3179.3" y="387.4"/>
<use href="#bc" x="3182.2" y="387.6"/>
<use href="#bc" x="3185.0" y="387.3"/>
<use href="#bc" x="3187.9" y="387.5"/>
<use href="#bc" x="3190.7" y="387.4"/>
<use href="#bc" x="3193.5" y="387.6"/>
<use href="#bc" x="3196.4" y="387.7"/>
<use href="#bc" x="3199.2" y="387.6"/>
<use href="#bc" x="3202.0" y="388.3"/>
<use href="#bc" x="3204.9" y="388.5"/>
<use href="#bc" x="3207.7" y="387.7"/>
<use href="#bc" x="3210.5" y="388.9"/>
<use href="#bc" x="3213.4" y="388.2"/>
<use href="#bc" x="3216.2" y="388.3"/>
<use href="#bc" x="3219.1" y="389.2"/>
<use href="#bc" x="3221.9" y="388.2"/>
<use href="#bc" x="3224.7" y="388.2"/>
<use href="#bc" x="3227.6" y="388.6"/>
<use href="#bc" x="3230.4" y="388.5"/>
<use href="#bc" x="3233.2" y="388.5"/>
<use href="#bc" x="3236.1" y="389.5"/>
<use href="#bc" x="3238.9" y="389.0"/>
<use href="#bc" x="3241.7" y="389.1"/>
<use href="#bc" x="3244.6" y="388.7"/>
<use href="#bc" x="3247.4" y="388.8"/>
<use href="#bc" x="3250.2" y="388.9"/>
<use href="#bc" x="3253.1" y="389.3"/>
<use href="#bc" x="3255.9" y="388.9"/>
<use href="#bc" x="3258.8" y="389.2"/>
<use href="#bc" x="3261.6" y="389.2"/>
<use href="#bc" x="3264.4" y="389.8"/>
<use href="#bc" x="3267.3" y="390.1"/>
<use href="#bc" x="3270.1" y="389.9"/>
<use href="#bc" x="3272.9" y="389.6"/>
<use href="#bc" x="3275.8" y="390.0"/>
<use href="#bc" x="3278.6" y="389.0"/>
<use href="#bc" x="3281.4" y="389.4"/>
<use href="#bc" x="3284.3" y="389.3"/>
<use href="#bc" x="3287.1" y="390.0"/>
<use href="#bc" x="3290.0" y="390.6"/>
<use href="#bc" x="3292.8" y="391.5"/>
<use href="#bc" x="3295.6" y="392.8"/>
<use href="#bc" x="3298.5" y="392.4"/>
<use href="#bc" x="3301.3" y="394.4"/>
<use href="#bc" x="3304.1" y="396.5"/>
<use href="#bc" x="3307.0" y="398.4"/>
<use href="#bc" x="3309.8" y="397.0"/>
<use href="#bc" x="3312.6" y="396.5"/>
<use href="#bc" x="3315.5" y="394.4"/>
<use href="#bc" x="3318.3" y="396.6"/>
<use href="#bc" x="3321.1" y="398.4"/>
<use href="#bc" x="3324.0" y="396.3"/>
<use href="#bc" x="3326.8" y="393.8"/>
<use href="#bc" x="3329.7" y="392.6"/>
<use href="#bc" x="3332.5" y="392.7"/>
<use href="#bc" x="3335.3" y="393.1"/>
<use href="#bc" x="3338.2" y="398.0"/>
<use href="#bc" x="3341.0" y="402.3"/>
<path d="M1917.1 161.8h17.4v17.4h-17.4zM1920.0 175.3h17.4v17.4h-17.4zM1922.8 120.5h17.4v17.4h-17.4zM1925.6 119.0h17.4v17.4h-17.4zM1928.5 118.4h17.4v17.4h-17.4zM1931.3 119.5h17.4v17.4h-17.4zM1934.2 119.3h17.4v17.4h-17.4zM1937.0 123.4h17.4v17.4h-17.4zM1939.8 122.9h17.4v17.4h-17.4zM1942.7 122.2h17.4v17.4h-17.4zM1945.5 118.6h17.4v17.4h-17.4zM1948.3 121.8h17.4v17.4h-17.4zM1951.2 119.9h17.4v17.4h-17.4zM1954.0 123.9h17.4v17.4h-17.4zM1956.8 123.6h17.4v17.4h-17.4zM1959.7 122.0h17.4v17.4h-17.4zM1962.5 119.1h17.4v17.4h-17.4zM1965.3 119.0h17.4v17.4h-17.4zM1968.2 119.1h17.4v17.4h-17.4zM1971.0 114.8h17.4v17.4h-17.4zM1973.9 120.2h17.4v17.4h-17.4zM1976.7 124.8h17.4v17.4h-17.4zM1979.5 120.6h17.4v17.4h-17.4zM1982.4 123.1h17.4v17.4h-17.4zM1985.2 117.5h17.4v17.4h-17.4zM1988.0 122.5h17.4v17.4h-17.4zM1990.9 116.9h17.4v17.4h-17.4zM1993.7 117.2h17.4v17.4h-17.4zM1996.5 123.9h17.4v17.4h-17.4zM1999.4 120.7h17.4v17.4h-17.4zM2002.2 118.0h17.4v17.4h-17.4zM2005.1 116.9h17.4v17.4h-17.4zM2007.9 120.7h17.4v17.4h-17.4zM2010.7 122.0h17.4v17.4h-17.4zM2013.6 122.5h17.4v17.4h-17.4zM2016.4 117.1h17.4v17.4h-17.4zM2019.2 122.5h17.4v17.4h-17.4zM2022.1 119.8h17.4v17.4h-17.4zM2024.9 123.0h17.4v17.4h-17.4zM2027.7 120.2h17.4v17.4h-17.4zM2030.6 117.1h17.4v17.4h-17.4zM2033.4 123.0h17.4v17.4h-17.4zM2036.2 118.0h17.4v17.4h-17.4zM2039.1 120.3h17.4v17.4h-17.4zM2041.9 117.5h17.4v17.4h-17.4zM2044.8 118.9h17.4v17.4h-17.4zM2047.6 122.3h17.4v17.4h-17.4zM2050.4 117.5h17.4v17.4h-17.4zM2053.3 120.5h17.4v17.4h-17.4zM2056.1 123.8h17.4v17.4h-17.4zM2058.9 124.0h17.4v17.4h-17.4zM2061.8 120.4h17.4v17.4h-17.4zM2064.6 120.7h17.4v17.4h-17.4zM2067.4 121.8h17.4v17.4h-17.4zM2070.3 123.0h17.4v17.4h-17.4zM2073.1 121.5h17.4v17.4h-17.4zM2076.0 121.7h17.4v17.4h-17.4zM2078.8 117.9h17.4v17.4h-17.4zM2081.6 124.0h17.4v17.4h-17.4zM2084.5 118.5h17.4v17.4h-17.4zM2087.3 117.9h17.4v17.4h-17.4zM2090.1 123.1h17.4v17.4h-17.4zM2093.0 117.2h17.4v17.4h-17.4zM2095.8 118.8h17.4v17.4h-17.4zM2098.6 112.4h17.4v17.4h-17.4zM2101.5 132.4h17.4v17.4h-17.4zM2104.3 121.3h17.4v17.4h-17.4zM2107.1 126.5h17.4v17.4h-17.4zM2110.0 116.7h17.4v17.4h-17.4zM2112.8 119.7h17.4v17.4h-17.4zM2115.7 121.4h17.4v17.4h-17.4zM2118.5 120.9h17.4v17.4h-17.4zM2121.3 122.0h17.4v17.4h-17.4zM2124.2 123.6h17.4v17.4h-17.4zM2127.0 123.3h17.4v17.4h-17.4zM2129.8 117.9h17.4v17.4h-17.4zM2132.7 121.9h17.4v17.4h-17.4zM2135.5 117.2h17.4v17.4h-17.4zM2138.3 122.2h17.4v17.4h-17.4zM2141.2 122.1h17.4v17.4h-17.4zM2144.0 120.3h17.4v17.4h-17.4zM2146.9 122.6h17.4v17.4h-17.4zM2149.7 121.3h17.4v17.4h-17.4zM2152.5 117.0h17.4v17.4h-17.4zM2155.4 117.6h17.4v17.4h-17.4zM2158.2 118.1h17.4v17.4h-17.4zM2161.0 119.4h17.4v17.4h-17.4zM2163.9 117.3h17.4v17.4h-17.4zM2166.7 117.1h17.4v17.4h-17.4zM2169.5 120.0h17.4v17.4h-17.4zM2172.4 118.8h17.4v17.4h-17.4zM2175.2 123.6h17.4v17.4h-17.4zM2178.0 118.7h17.4v17.4h-17.4zM2180.9 120.7h17.4v17.4h-17.4zM2183.7 118.5h17.4v17.4h-17.4zM2186.6 119.3h17.4v17.4h-17.4zM2189.4 121.9h17.4v17.4h-17.4zM2192.2 123.6h17.4v17.4h-17.4zM2195.1 117.2h17.4v17.4h-17.4zM2197.9 123.1h17.4v17.4h-17.4zM2200.7 120.6h17.4v17.4h-17.4zM2203.6 121.5h17.4v17.4h-17.4zM2206.4 121.8h17.4v17.4h-17.4zM2209.2 118.6h17.4v17.4h-17.4zM2212.1 116.9h17.4v17.4h-17.4zM2214.9 122.1h17.4v17.4h-17.4zM2217.8 119.2h17.4v17.4h-17.4zM2220.6 121.8h17.4v17.4h-17.4zM2223.4 119.9h17.4v17.4h-17.4zM2226.3 121.1h17.4v17.4h-17.4zM2229.1 122.8h17.4v17.4h-17.4zM2231.9 122.8h17.4v17.4h-17.4zM2234.8 122.5h17.4v17.4h-17.4zM2237.6 117.4h17.4v17.4h-17.4zM2240.4 120.4h17.4v17.4h-17.4zM2243.3 122.4h17.4v17.4h-17.4zM2246.1 117.4h17.4v17.4h-17.4zM2248.9 116.7h17.4v17.4h-17.4zM2251.8 120.7h17.4v17.4h-17.4zM2254.6 123.0h17.4v17.4h-17.4zM2257.5 122.6h17.4v17.4h-17.4zM2260.3 123.3h17.4v17.4h-17.4zM2263.1 121.5h17.4v17.4h-17.4zM2266.0 123.3h17.4v17.4h-17.4zM2268.8 125.9h17.4v17.4h-17.4zM2271.6 122.1h17.4v17.4h-17.4zM2274.5 119.8h17.4v17.4h-17.4zM2277.3 124.2h17.4v17.4h-17.4zM2280.1 118.5h17.4v17.4h-17.4zM2283.0 121.0h17.4v17.4h-17.4zM2285.8 121.0h17.4v17.4h-17.4zM2288.7 120.2h17.4v17.4h-17.4zM2291.5 121.3h17.4v17.4h-17.4zM2294.3 121.5h17.4v17.4h-17.4zM2297.2 123.5h17.4v17.4h-17.4zM2300.0 122.0h17.4v17.4h-17.4zM2302.8 116.9h17.4v17.4h-17.4zM2305.7 123.1h17.4v17.4h-17.4zM2308.5 120.3h17.4v17.4h-17.4zM2311.3 119.4h17.4v17.4h-17.4zM2314.2 117.7h17.4v17.4h-17.4zM2317.0 122.4h17.4v17.4h-17.4zM2319.8 122.0h17.4v17.4h-17.4zM2322.7 122.2h17.4v17.4h-17.4zM2325.5 121.1h17.4v17.4h-17.4zM2328.4 120.8h17.4v17.4h-17.4zM2331.2 117.0h17.4v17.4h-17.4zM2334.0 117.8h17.4v17.4h-17.4zM2336.9 117.6h17.4v17.4h-17.4zM2339.7 123.8h17.4v17.4h-17.4zM2342.5 123.8h17.4v17.4h-17.4zM2345.4 118.8h17.4v17.4h-17.4zM2348.2 117.5h17.4v17.4h-17.4zM2351.0 120.6h17.4v17.4h-17.4zM2353.9 119.7h17.4v17.4h-17.4zM2356.7 124.0h17.4v17.4h-17.4zM2359.6 121.1h17.4v17.4h-17.4zM2362.4 117.2h17.4v17.4h-17.4zM2365.2 118.0h17.4v17.4h-17.4zM2368.1 117.8h17.4v17.4h-17.4zM2370.9 116.9h17.4v17.4h-17.4zM2373.7 122.2h17.4v17.4h-17.4zM2376.6 123.2h17.4v17.4h-17.4zM2379.4 122.9h17.4v17.4h-17.4zM2382.2 120.2h17.4v17.4h-17.4zM2385.1 119.0h17.4v17.4h-17.4zM2387.9 117.1h17.4v17.4h-17.4zM2390.7 118.7h17.4v17.4h-17.4zM2393.6 119.3h17.4v17.4h-17.4zM2396.4 118.4h17.4v17.4h-17.4zM2399.3 120.7h17.4v17.4h-17.4zM2402.1 120.0h17.4v17.4h-17.4zM2404.9 123.7h17.4v17.4h-17.4zM2407.8 118.3h17.4v17.4h-17.4zM2410.6 122.3h17.4v17.4h-17.4zM2413.4 117.3h17.4v17.4h-17.4zM2416.3 119.3h17.4v17.4h-17.4zM2419.1 121.8h17.4v17.4h-17.4zM2421.9 123.1h17.4v17.4h-17.4zM2424.8 122.2h17.4v17.4h-17.4zM2427.6 119.4h17.4v17.4h-17.4zM2430.5 118.9h17.4v17.4h-17.4zM2433.3 123.2h17.4v17.4h-17.4zM2436.1 123.5h17.4v17.4h-17.4zM2439.0 120.2h17.4v17.4h-17.4zM2441.8 119.8h17.4v17.4h-17.4zM2444.6 121.2h17.4v17.4h-17.4zM2447.5 122.4h17.4v17.4h-17.4zM2450.3 119.6h17.4v17.4h-17.4zM2453.1 123.9h17.4v17.4h-17.4zM2456.0 121.8h17.4v17.4h-17.4zM2458.8 120.6h17.4v17.4h-17.4zM2461.6 117.0h17.4v17.4h-17.4zM2464.5 119.3h17.4v17.4h-17.4zM2467.3 117.6h17.4v17.4h-17.4zM2470.2 120.5h17.4v17.4h-17.4zM2473.0 122.3h17.4v17.4h-17.4zM2475.8 122.2h17.4v17.4h-17.4zM2478.7 117.0h17.4v17.4h-17.4zM2481.5 118.9h17.4v17.4h-17.4zM2484.3 121.8h17.4v17.4h-17.4zM2487.2 123.8h17.4v17.4h-17.4zM2490.0 120.4h17.4v17.4h-17.4zM2492.8 119.1h17.4v17.4h-17.4zM2495.7 120.9h17.4v17.4h-17.4zM2498.5 122.1h17.4v17.4h-17.4zM2501.4 119.1h17.4v17.4h-17.4zM2504.2 117.3h17.4v17.4h-17.4zM2507.0 122.3h17.4v17.4h-17.4zM2509.9 123.8h17.4v17.4h-17.4zM2512.7 121.5h17.4v17.4h-17.4zM2515.5 120.9h17.4v17.4h-17.4zM2518.4 119.0h17.4v17.4h-17.4zM2521.2 122.6h17.4v17.4h-17.4zM2524.0 118.2h17.4v17.4h-17.4zM2526.9 118.6h17.4v17.4h-17.4zM2529.7 120.3h17.4v17.4h-17.4zM2532.5 122.5h17.4v17.4h-17.4zM2535.4 116.9h17.4v17.4h-17.4zM2538.2 121.7h17.4v17.4h-17.4zM2541.1 118.0h17.4v17.4h-17.4zM2543.9 122.3h17.4v17.4h-17.4zM2546.7 122.4h17.4v17.4h-17.4zM2549.6 118.5h17.4v17.4h-17.4zM2552.4 121.9h17.4v17.4h-17.4zM2555.2 117.1h17.4v17.4h-17.4zM2558.1 120.4h17.4v17.4h-17.4zM2560.9 122.6h17.4v17.4h-17.4zM2563.7 122.4h17.4v17.4h-17.4zM2566.6 121.0h17.4v17.4h-17.4zM2569.4 119.2h17.4v17.4h-17.4zM2572.3 117.1h17.4v17.4h-17.4zM2575.1 122.9h17.4v17.4h-17.4zM2577.9 121.1h17.4v17.4h-17.4zM2580.8 122.4h17.4v17.4h-17.4zM2583.6 116.9h17.4v17.4h-17.4zM2586.4 123.0h17.4v17.4h-17.4zM2589.3 123.6h17.4v17.4h-17.4zM2592.1 123.6h17.4v17.4h-17.4zM2594.9 121.1h17.4v17.4h-17.4zM2597.8 117.5h17.4v17.4h-17.4zM2600.6 117.6h17.4v17.4h-17.4zM2603.4 118.7h17.4v17.4h-17.4zM2606.3 116.7h17.4v17.4h-17.4zM2609.1 117.2h17.4v17.4h-17.4zM2612.0 121.6h17.4v17.4h-17.4zM2614.8 122.6h17.4v17.4h-17.4zM2617.6 117.2h17.4v17.4h-17.4zM2620.5 118.6h17.4v17.4h-17.4zM2623.3 123.8h17.4v17.4h-17.4zM2626.1 119.2h17.4v17.4h-17.4zM2629.0 121.2h17.4v17.4h-17.4zM2631.8 121.3h17.4v17.4h-17.4zM2634.6 121.6h17.4v17.4h-17.4zM2637.5 122.8h17.4v17.4h-17.4zM2640.3 124.0h17.4v17.4h-17.4zM2643.2 122.0h17.4v17.4h-17.4zM2646.0 121.4h17.4v17.4h-17.4zM2648.8 117.0h17.4v17.4h-17.4zM2651.7 123.1h17.4v17.4h-17.4zM2654.5 117.0h17.4v17.4h-17.4zM2657.3 122.5h17.4v17.4h-17.4zM2660.2 121.4h17.4v17.4h-17.4zM2663.0 118.0h17.4v17.4h-17.4zM2665.8 118.0h17.4v17.4h-17.4zM2668.7 120.8h17.4v17.4h-17.4zM2671.5 123.6h17.4v17.4h-17.4zM2674.3 120.6h17.4v17.4h-17.4zM2677.2 121.3h17.4v17.4h-17.4zM2680.0 117.3h17.4v17.4h-17.4zM2682.9 122.6h17.4v17.4h-17.4zM2685.7 121.3h17.4v17.4h-17.4zM2688.5 117.5h17.4v17.4h-17.4zM2691.4 123.8h17.4v17.4h-17.4zM2694.2 121.0h17.4v17.4h-17.4zM2697.0 118.1h17.4v17.4h-17.4zM2699.9 118.4h17.4v17.4h-17.4zM2702.7 123.7h17.4v17.4h-17.4zM2705.5 123.7h17.4v17.4h-17.4zM2708.4 123.5h17.4v17.4h-17.4zM2711.2 117.3h17.4v17.4h-17.4zM2714.1 122.1h17.4v17.4h-17.4zM2716.9 118.6h17.4v17.4h-17.4zM2719.7 117.5h17.4v17.4h-17.4zM2722.6 121.5h17.4v17.4h-17.4zM2725.4 122.0h17.4v17.4h-17.4zM2728.2 117.0h17.4v17.4h-17.4zM2731.1 119.5h17.4v17.4h-17.4zM2733.9 122.1h17.4v17.4h-17.4zM2736.7 118.4h17.4v17.4h-17.4zM2739.6 122.0h17.4v17.4h-17.4zM2742.4 122.3h17.4v17.4h-17.4zM2745.2 124.7h17.4v17.4h-17.4zM2748.1 118.1h17.4v17.4h-17.4zM2750.9 116.7h17.4v17.4h-17.4zM2753.8 119.2h17.4v17.4h-17.4zM2756.6 116.4h17.4v17.4h-17.4zM2759.4 124.6h17.4v17.4h-17.4zM2762.3 122.7h17.4v17.4h-17.4zM2765.1 125.9h17.4v17.4h-17.4zM2767.9 116.3h17.4v17.4h-17.4zM2770.8 116.4h17.4v17.4h-17.4zM2773.6 115.9h17.4v17.4h-17.4zM2776.4 122.6h17.4v17.4h-17.4zM2779.3 121.0h17.4v17.4h-17.4zM2782.1 120.4h17.4v17.4h-17.4zM2785.0 116.6h17.4v17.4h-17.4zM2787.8 123.2h17.4v17.4h-17.4zM2790.6 117.7h17.4v17.4h-17.4zM2793.5 118.3h17.4v17.4h-17.4zM2796.3 117.5h17.4v17.4h-17.4zM2799.1 118.0h17.4v17.4h-17.4zM2802.0 119.4h17.4v17.4h-17.4zM2804.8 121.9h17.4v17.4h-17.4zM2807.6 121.9h17.4v17.4h-17.4zM2810.5 121.6h17.4v17.4h-17.4zM2813.3 117.9h17.4v17.4h-17.4zM2816.1 124.8h17.4v17.4h-17.4zM2819.0 123.0h17.4v17.4h-17.4zM2821.8 118.1h17.4v17.4h-17.4zM2824.7 122.6h17.4v17.4h-17.4zM2827.5 115.4h17.4v17.4h-17.4zM2830.3 124.5h17.4v17.4h-17.4zM2833.2 119.9h17.4v17.4h-17.4zM2836.0 121.9h17.4v17.4h-17.4zM2838.8 116.1h17.4v17.4h-17.4zM2841.7 117.0h17.4v17.4h-17.4zM2844.5 116.1h17.4v17.4h-17.4zM2847.3 122.4h17.4v17.4h-17.4zM2850.2 124.0h17.4v17.4h-17.4zM2853.0 123.9h17.4v17.4h-17.4zM2855.9 120.4h17.4v17.4h-17.4zM2858.7 118.5h17.4v17.4h-17.4zM2861.5 120.8h17.4v17.4h-17.4zM2864.4 122.7h17.4v17.4h-17.4zM2867.2 121.1h17.4v17.4h-17.4zM2870.0 119.3h17.4v17.4h-17.4zM2872.9 118.8h17.4v17.4h-17.4zM2875.7 118.2h17.4v17.4h-17.4zM2878.5 117.3h17.4v17.4h-17.4zM2881.4 118.9h17.4v17.4h-17.4zM2884.2 123.7h17.4v17.4h-17.4zM2887.0 117.4h17.4v17.4h-17.4zM2889.9 122.2h17.4v17.4h-17.4zM2892.7 119.8h17.4v17.4h-17.4zM2895.6 121.5h17.4v17.4h-17.4zM2898.4 118.3h17.4v17.4h-17.4zM2901.2 123.0h17.4v17.4h-17.4zM2904.1 122.6h17.4v17.4h-17.4zM2906.9 127.7h17.4v17.4h-17.4zM2909.7 123.4h17.4v17.4h-17.4zM2912.6 113.0h17.4v17.4h-17.4zM2915.4 119.7h17.4v17.4h-17.4zM2918.2 121.9h17.4v17.4h-17.4zM2921.1 121.3h17.4v17.4h-17.4zM2923.9 126.5h17.4v17.4h-17.4zM2926.8 120.3h17.4v17.4h-17.4zM2929.6 122.7h17.4v17.4h-17.4zM2932.4 117.6h17.4v17.4h-17.4zM2935.3 113.6h17.4v17.4h-17.4zM2938.1 116.0h17.4v17.4h-17.4zM2940.9 123.9h17.4v17.4h-17.4zM2943.8 120.6h17.4v17.4h-17.4zM2946.6 117.5h17.4v17.4h-17.4zM2949.4 117.4h17.4v17.4h-17.4zM2952.3 113.0h17.4v17.4h-17.4zM2955.1 124.4h17.4v17.4h-17.4zM2957.9 125.9h17.4v17.4h-17.4zM2960.8 123.7h17.4v17.4h-17.4zM2963.6 123.1h17.4v17.4h-17.4zM2966.5 116.2h17.4v17.4h-17.4zM2969.3 114.2h17.4v17.4h-17.4zM2972.1 116.6h17.4v17.4h-17.4zM2975.0 121.5h17.4v17.4h-17.4zM2977.8 117.1h17.4v17.4h-17.4zM2980.6 120.8h17.4v17.4h-17.4zM2983.5 122.5h17.4v17.4h-17.4zM2986.3 117.9h17.4v17.4h-17.4zM2989.1 116.4h17.4v17.4h-17.4zM2992.0 125.4h17.4v17.4h-17.4zM2994.8 119.5h17.4v17.4h-17.4zM2997.7 119.3h17.4v17.4h-17.4zM3000.5 122.8h17.4v17.4h-17.4zM3003.3 114.8h17.4v17.4h-17.4zM3006.2 123.5h17.4v17.4h-17.4zM3009.0 123.0h17.4v17.4h-17.4zM3011.8 122.5h17.4v17.4h-17.4zM3014.7 119.5h17.4v17.4h-17.4zM3017.5 119.0h17.4v17.4h-17.4zM3020.3 123.0h17.4v17.4h-17.4zM3023.2 124.7h17.4v17.4h-17.4zM3026.0 115.4h17.4v17.4h-17.4zM3028.8 118.8h17.4v17.4h-17.4zM3031.7 123.1h17.4v17.4h-17.4zM3034.5 122.0h17.4v17.4h-17.4zM3037.4 123.0h17.4v17.4h-17.4zM3040.2 117.8h17.4v17.4h-17.4zM3043.0 114.8h17.4v17.4h-17.4zM3045.9 124.2h17.4v17.4h-17.4zM3048.7 123.9h17.4v17.4h-17.4zM3051.5 121.3h17.4v17.4h-17.4zM3054.4 119.9h17.4v17.4h-17.4zM3057.2 119.1h17.4v17.4h-17.4zM3060.0 124.0h17.4v17.4h-17.4zM3062.9 123.3h17.4v17.4h-17.4zM3065.7 128.9h17.4v17.4h-17.4zM3068.6 121.2h17.4v17.4h-17.4zM3071.4 111.2h17.4v17.4h-17.4zM3074.2 122.1h17.4v17.4h-17.4zM3077.1 116.4h17.4v17.4h-17.4zM3079.9 122.0h17.4v17.4h-17.4zM3082.7 119.8h17.4v17.4h-17.4zM3085.6 126.5h17.4v17.4h-17.4zM3088.4 121.1h17.4v17.4h-17.4zM3091.2 117.1h17.4v17.4h-17.4zM3094.1 116.0h17.4v17.4h-17.4zM3096.9 111.8h17.4v17.4h-17.4zM3099.7 123.0h17.4v17.4h-17.4zM3102.6 118.3h17.4v17.4h-17.4zM3105.4 123.0h17.4v17.4h-17.4zM3108.3 124.7h17.4v17.4h-17.4zM3111.1 116.8h17.4v17.4h-17.4zM3113.9 121.0h17.4v17.4h-17.4zM3116.8 117.5h17.4v17.4h-17.4zM3119.6 121.2h17.4v17.4h-17.4zM3122.4 117.0h17.4v17.4h-17.4zM3125.3 120.7h17.4v17.4h-17.4zM3128.1 123.3h17.4v17.4h-17.4zM3130.9 124.6h17.4v17.4h-17.4zM3133.8 119.9h17.4v17.4h-17.4zM3136.6 119.1h17.4v17.4h-17.4zM3139.5 116.7h17.4v17.4h-17.4zM3142.3 124.0h17.4v17.4h-17.4zM3145.1 119.3h17.4v17.4h-17.4zM3148.0 121.5h17.4v17.4h-17.4zM3150.8 120.3h17.4v17.4h-17.4zM3153.6 123.5h17.4v17.4h-17.4zM3156.5 122.3h17.4v17.4h-17.4zM3159.3 120.2h17.4v17.4h-17.4zM3162.1 116.6h17.4v17.4h-17.4zM3165.0 123.8h17.4v17.4h-17.4zM3167.8 120.4h17.4v17.4h-17.4zM3170.6 117.7h17.4v17.4h-17.4zM3173.5 116.2h17.4v17.4h-17.4zM3176.3 123.0h17.4v17.4h-17.4zM3179.2 123.6h17.4v17.4h-17.4zM3182.0 116.5h17.4v17.4h-17.4zM3184.8 116.2h17.4v17.4h-17.4zM3187.7 120.5h17.4v17.4h-17.4zM3190.5 124.3h17.4v17.4h-17.4zM3193.3 116.6h17.4v17.4h-17.4zM3196.2 121.3h17.4v17.4h-17.4zM3199.0 116.8h17.4v17.4h-17.4zM3201.8 119.3h17.4v17.4h-17.4zM3204.7 117.5h17.4v17.4h-17.4zM3207.5 123.4h17.4v17.4h-17.4zM3210.4 117.8h17.4v17.4h-17.4zM3213.2 122.8h17.4v17.4h-17.4zM3216.0 121.2h17.4v17.4h-17.4zM3218.9 117.3h17.4v17.4h-17.4zM3221.7 117.5h17.4v17.4h-17.4zM3224.5 123.2h17.4v17.4h-17.4zM3227.4 122.8h17.4v17.4h-17.4zM3230.2 121.2h17.4v17.4h-17.4zM3233.0 120.2h17.4v17.4h-17.4zM3235.9 121.4h17.4v17.4h-17.4zM3238.7 115.4h17.4v17.4h-17.4zM3241.5 122.6h17.4v17.4h-17.4zM3244.4 118.4h17.4v17.4h-17.4zM3247.2 125.9h17.4v17.4h-17.4zM3250.1 124.4h17.4v17.4h-17.4zM3252.9 119.8h17.4v17.4h-17.4zM3255.7 118.1h17.4v17.4h-17.4zM3258.6 114.8h17.4v17.4h-17.4zM3261.4 117.4h17.4v17.4h-17.4zM3264.2 123.7h17.4v17.4h-17.4zM3267.1 119.5h17.4v17.4h-17.4zM3269.9 119.9h17.4v17.4h-17.4zM3272.7 119.2h17.4v17.4h-17.4zM3275.6 122.1h17.4v17.4h-17.4zM3278.4 120.2h17.4v17.4h-17.4zM3281.3 119.3h17.4v17.4h-17.4zM3284.1 121.5h17.4v17.4h-17.4zM3286.9 123.3h17.4v17.4h-17.4zM3289.8 123.3h17.4v17.4h-17.4zM3292.6 130.6h17.4v17.4h-17.4zM3295.4 124.1h17.4v17.4h-17.4zM3298.3 103.6h17.4v17.4h-17.4zM3301.1 124.4h17.4v17.4h-17.4zM3303.9 136.5h17.4v17.4h-17.4zM3306.8 125.1h17.4v17.4h-17.4zM3309.6 134.2h17.4v17.4h-17.4zM3312.4 115.4h17.4v17.4h-17.4zM3315.3 111.2h17.4v17.4h-17.4zM3318.1 121.6h17.4v17.4h-17.4zM3321.0 120.2h17.4v17.4h-17.4zM3323.8 114.2h17.4v17.4h-17.4zM3326.6 115.0h17.4v17.4h-17.4zM3329.5 128.9h17.4v17.4h-17.4zM3332.3 124.2h17.4v17.4h-17.4z" fill="none" stroke="#f20000" stroke-width="3"/>
</g>
<path d="M1919.0 399.6H3344.0" stroke="#111" stroke-width="2.6" stroke-dasharray="7.4 5.5" fill="none"/>
<rect x="1918.0" y="98.5" width="1427.0" height="616.2" fill="none" stroke="#1c1c1c" stroke-width="1.8"/>
<path d="M1918.0 696.8h-12M1918.0 584.6h-12M1918.0 472.3h-12M1918.0 360.1h-12M1918.0 247.8h-12M1918.0 135.6h-12M1918.0 640.7h-6M1918.0 528.4h-6M1918.0 416.2h-6M1918.0 304.0h-6M1918.0 191.7h-6M3345.0 714.7h-12M3345.0 597.2h-12M3345.0 479.6h-12M3345.0 362.1h-12M3345.0 244.5h-12M3345.0 127.0h-12M3345.0 655.9h-6M3345.0 538.4h-6M3345.0 420.9h-6M3345.0 303.3h-6M3345.0 185.8h-6M1923.0 714.7v12M2206.6 714.7v12M2490.2 714.7v12M2773.8 714.7v12M3057.4 714.7v12M3341.0 714.7v12M2064.8 714.7v6M2348.4 714.7v6M2632.0 714.7v6M2915.6 714.7v6M3199.2 714.7v6" stroke="#1c1c1c" stroke-width="1.8" fill="none"/>
<text transform="translate(1895.0 708.0) scale(1.065 1)" font-size="32.7" text-anchor="end" >0</text>
<text transform="translate(1895.0 595.8) scale(1.065 1)" font-size="32.7" text-anchor="end" >60</text>
<text transform="translate(1895.0 483.5) scale(1.065 1)" font-size="32.7" text-anchor="end" >120</text>
<text transform="translate(1895.0 371.3) scale(1.065 1)" font-size="32.7" text-anchor="end" >180</text>
<text transform="translate(1895.0 259.0) scale(1.065 1)" font-size="32.7" text-anchor="end" >240</text>
<text transform="translate(1895.0 146.8) scale(1.065 1)" font-size="32.7" text-anchor="end" >300</text>
<text transform="translate(3360.5 725.9) scale(1.065 1)" font-size="32.7" text-anchor="start" >0</text>
<text transform="translate(3360.5 608.4) scale(1.065 1)" font-size="32.7" text-anchor="start" >20</text>
<text transform="translate(3360.5 490.8) scale(1.065 1)" font-size="32.7" text-anchor="start" >40</text>
<text transform="translate(3360.5 373.3) scale(1.065 1)" font-size="32.7" text-anchor="start" >60</text>
<text transform="translate(3360.5 255.7) scale(1.065 1)" font-size="32.7" text-anchor="start" >80</text>
<text transform="translate(3360.5 138.2) scale(1.065 1)" font-size="32.7" text-anchor="start" >100</text>
<text transform="translate(1923.0 764.0) scale(1.065 1)" font-size="32.7" text-anchor="middle" >0</text>
<text transform="translate(2206.6 764.0) scale(1.065 1)" font-size="32.7" text-anchor="middle" >100</text>
<text transform="translate(2490.2 764.0) scale(1.065 1)" font-size="32.7" text-anchor="middle" >200</text>
<text transform="translate(2773.8 764.0) scale(1.065 1)" font-size="32.7" text-anchor="middle" >300</text>
<text transform="translate(3057.4 764.0) scale(1.065 1)" font-size="32.7" text-anchor="middle" >400</text>
<text transform="translate(3341.0 764.0) scale(1.065 1)" font-size="32.7" text-anchor="middle" >500</text>
<text transform="translate(2645.0 820.0) scale(1.065 1)" font-size="40.5" text-anchor="middle" >Cycle number</text>
<text transform="translate(1817.0 402.0) rotate(-90) scale(1.065 1)" font-size="42.0" text-anchor="middle" >Specific capacity (mAh g<tspan font-size="25.0" dy="-17.0">−1</tspan><tspan dy="17.0">)</tspan></text>
<text transform="translate(3464.0 400.0) rotate(-90) scale(1.065 1)" font-size="40.5" text-anchor="middle" >Coulombic efficiency (%)</text>
<text transform="translate(2586.0 309.0) scale(1.065 1)" font-size="34.1" text-anchor="middle" >0.5 C @ 25 °C</text>
<text transform="translate(2465.0 447.0) scale(1.065 1)" font-size="34.1" text-anchor="middle" >72.1% capacity retention</text>
<text transform="translate(2465.0 498.0) scale(1.065 1)" font-size="34.1" text-anchor="middle" >(3.5 mg cm<tspan font-size="21.0" dy="-14.0">−2</tspan><tspan dy="14.0">)</tspan></text>
<circle cx="1984.5" cy="645" r="12.3" fill="url(#bs)"/>
<rect x="2055" y="635.5" width="18.8" height="18.8" fill="none" stroke="#e01b22" stroke-width="2.4"/>
<text transform="translate(2106.0 657.0) scale(1.065 1)" font-size="34.1" text-anchor="start" >PTF-PE-SPE</text>
<path d="M2040 310.5V347.3H1966" stroke="#111" stroke-width="1.6" fill="none"/><path d="M1950.5 347.3l16 -4.6v9.2z" fill="#111"/>
<path d="M3236 152V187H3308" stroke="#111" stroke-width="1.6" fill="none"/><path d="M3324 187l-16 -4.6v9.2z" fill="#111"/>
</g>
<g font-family="Liberation Sans, sans-serif" fill="#000">
<text x="66" y="1027" font-size="47" font-weight="bold" stroke="#000" stroke-width="3.4" stroke-linejoin="round" paint-order="stroke">c</text>
<g fill="none" stroke-width="3.7" stroke-linejoin="round">
<path d="M209.3 1652.8C209.4 1610.8 209.9 1457.6 210.1 1400.8C210.4 1343.9 210.6 1335.7 211.0 1311.8C211.4 1287.9 211.9 1268.9 212.6 1257.5C213.3 1246.0 214.3 1246.0 215.2 1243.0C216.0 1240.0 216.6 1240.2 217.7 1239.2C218.8 1238.2 220.5 1237.4 221.9 1236.8C223.2 1236.2 223.9 1236.2 226.0 1235.6C228.1 1235.1 230.9 1234.4 234.4 1233.5C237.9 1232.6 242.8 1231.3 247.0 1230.2C251.1 1229.2 254.6 1228.4 259.5 1227.3C264.4 1226.2 270.7 1224.9 276.2 1223.7C281.8 1222.6 287.4 1221.5 293.0 1220.5C298.6 1219.4 301.3 1218.9 309.7 1217.5C318.1 1216.1 332.0 1214.0 343.2 1212.1C354.3 1210.2 365.5 1208.3 376.7 1206.0C387.8 1203.8 399.0 1201.4 410.1 1198.6C421.3 1195.7 432.5 1192.8 443.6 1188.9C454.8 1184.9 465.9 1178.6 477.1 1174.8C488.2 1171.0 499.4 1168.1 510.6 1166.1C521.7 1164.2 532.9 1163.7 544.0 1162.8C555.2 1162.0 566.3 1161.4 577.5 1160.9C588.7 1160.4 599.8 1160.2 611.0 1159.9C622.1 1159.6 633.3 1159.3 644.4 1159.1C655.6 1158.9 666.8 1158.8 677.9 1158.6C689.1 1158.5 700.2 1158.5 711.4 1158.4C722.5 1158.3 733.7 1158.2 744.9 1158.1C756.0 1157.9 767.2 1157.8 778.3 1157.5C789.5 1157.2 800.7 1156.9 811.8 1156.4C823.0 1155.9 834.1 1155.2 845.3 1154.4C856.4 1153.6 870.4 1152.3 878.8 1151.7C887.1 1151.0 891.8 1150.5 895.5 1150.2C899.2 1149.9 899.2 1149.9 901.1 1149.7C902.9 1149.6 904.8 1149.4 906.6 1149.3C908.5 1149.1 910.4 1149.0 912.2 1148.8C914.1 1148.7 915.9 1148.5 917.8 1148.4C919.7 1148.2 921.5 1148.1 923.4 1148.0C925.2 1147.8 927.1 1147.7 929.0 1147.5C930.8 1147.4 932.7 1147.3 934.5 1147.1C936.4 1147.0 938.3 1146.9 940.1 1146.7C942.0 1146.6 943.8 1146.4 945.7 1146.3C947.6 1146.2 949.4 1146.0 951.3 1145.9C953.1 1145.8 955.0 1145.7 956.9 1145.5C958.7 1145.4 960.6 1145.3 962.4 1145.2C964.3 1145.0 966.2 1144.9 968.0 1144.8C969.9 1144.7 971.7 1144.5 973.6 1144.4C975.5 1144.3 977.3 1144.2 979.2 1144.1C981.0 1143.9 982.9 1143.8 984.8 1143.7C986.6 1143.6 988.5 1143.5 990.3 1143.4C992.2 1143.3 994.0 1143.1 995.9 1143.0C997.8 1142.9 999.6 1142.8 1001.5 1142.7C1003.3 1142.6 1005.2 1142.5 1007.1 1142.4C1008.9 1142.3 1010.8 1142.2 1012.6 1142.0C1014.5 1141.9 1016.4 1141.8 1018.2 1141.7C1020.1 1141.6 1021.9 1141.5 1023.8 1141.4C1025.7 1141.3 1027.5 1141.2 1029.4 1141.1C1031.2 1141.0 1033.1 1140.9 1035.0 1140.8C1036.8 1140.7 1038.7 1140.6 1040.5 1140.5C1042.4 1140.4 1045.2 1140.3 1046.1 1140.3" stroke="#8000ff"/>
<path d="M209.3 1145.6C209.4 1146.0 209.8 1147.4 210.0 1148.3C210.3 1149.2 210.4 1149.8 210.8 1151.0C211.2 1152.2 211.7 1154.0 212.3 1155.7C212.9 1157.3 213.8 1159.3 214.5 1160.8C215.3 1162.4 215.8 1163.4 216.7 1164.8C217.7 1166.2 219.2 1168.1 220.5 1169.3C221.7 1170.5 222.3 1170.8 224.2 1172.1C226.1 1173.4 228.5 1174.7 231.6 1176.9C234.7 1179.2 239.1 1182.8 242.8 1185.8C246.5 1188.7 249.6 1191.4 254.0 1194.6C258.3 1197.8 263.9 1201.6 268.9 1204.8C273.8 1208.1 278.8 1211.1 283.8 1214.1C288.7 1217.2 291.2 1220.0 298.6 1223.2C306.1 1226.5 318.5 1230.8 328.4 1233.6C338.4 1236.5 348.3 1238.1 358.2 1240.4C368.1 1242.8 378.1 1245.3 388.0 1247.6C397.9 1250.0 407.9 1252.3 417.8 1254.5C427.7 1256.7 437.6 1258.8 447.6 1260.9C457.5 1263.0 467.4 1265.0 477.3 1267.0C487.3 1268.9 497.2 1270.9 507.1 1272.8C517.1 1274.7 527.0 1276.5 536.9 1278.4C546.8 1280.3 556.8 1282.2 566.7 1284.0C576.6 1285.8 586.6 1287.7 596.5 1289.5C606.4 1291.3 616.3 1293.0 626.3 1294.8C636.2 1296.6 646.1 1298.4 656.0 1300.1C666.0 1301.9 675.9 1303.7 685.8 1305.5C695.8 1307.3 705.7 1309.0 715.6 1310.8C725.5 1312.6 735.5 1314.4 745.4 1316.1C755.3 1317.9 765.3 1319.7 775.2 1321.6C785.1 1323.4 797.5 1325.7 805.0 1327.1C812.4 1328.4 816.5 1329.2 819.9 1329.8C823.2 1330.4 823.2 1330.4 824.8 1330.7C826.5 1331.0 828.1 1331.3 829.8 1331.6C831.4 1331.9 833.1 1332.2 834.7 1332.6C836.4 1332.9 838.1 1333.2 839.7 1333.6C841.4 1333.9 843.0 1334.3 844.7 1334.6C846.3 1335.0 848.0 1335.3 849.6 1335.7C851.3 1336.1 852.9 1336.5 854.6 1336.9C856.3 1337.3 857.9 1337.7 859.6 1338.1C861.2 1338.5 862.9 1338.9 864.5 1339.3C866.2 1339.7 867.8 1340.1 869.5 1340.6C871.1 1341.0 872.8 1341.5 874.5 1341.9C876.1 1342.4 877.8 1342.9 879.4 1343.4C881.1 1343.9 882.7 1344.4 884.4 1344.9C886.0 1345.5 887.7 1346.1 889.3 1346.7C891.0 1347.3 892.7 1347.9 894.3 1348.6C896.0 1349.2 897.6 1349.9 899.3 1350.7C900.9 1351.5 902.6 1352.3 904.2 1353.2C905.9 1354.1 907.5 1355.1 909.2 1356.2C910.9 1357.2 912.5 1358.4 914.2 1359.7C915.8 1360.9 917.5 1362.3 919.1 1363.8C920.8 1365.2 922.4 1366.7 924.1 1368.5C925.7 1370.3 927.4 1372.2 929.1 1374.4C930.7 1376.7 932.4 1379.3 934.0 1382.2C935.7 1385.1 937.3 1388.2 939.0 1392.0C940.6 1395.8 942.3 1399.5 943.9 1405.1C945.6 1410.7 947.3 1416.1 948.9 1425.4C950.6 1434.6 953.0 1454.9 953.9 1460.8" stroke="#8000ff"/>
<path d="M209.3 1449.0C209.4 1437.8 209.8 1396.6 210.0 1382.0C210.3 1367.4 210.4 1367.5 210.8 1361.4C211.1 1355.4 211.6 1349.7 212.2 1345.8C212.8 1341.9 213.7 1340.0 214.4 1338.1C215.2 1336.1 215.6 1335.6 216.6 1334.1C217.6 1332.7 219.1 1330.8 220.3 1329.4C221.5 1328.0 222.1 1327.4 223.9 1326.0C225.8 1324.5 228.2 1322.7 231.2 1320.7C234.3 1318.7 238.6 1316.1 242.2 1314.1C245.9 1312.0 248.9 1310.7 253.2 1308.5C257.4 1306.3 262.9 1303.4 267.8 1300.9C272.7 1298.4 277.6 1295.9 282.4 1293.5C287.3 1291.1 289.7 1289.6 297.1 1286.4C304.4 1283.3 316.6 1278.2 326.3 1274.4C336.1 1270.6 345.8 1267.4 355.6 1263.8C365.3 1260.3 375.1 1255.9 384.8 1253.2C394.6 1250.4 404.3 1249.1 414.1 1247.3C423.8 1245.5 433.6 1244.0 443.3 1242.5C453.1 1240.9 462.8 1239.4 472.6 1237.9C482.3 1236.4 492.1 1235.0 501.8 1233.6C511.6 1232.1 521.3 1230.7 531.1 1229.1C540.8 1227.5 550.6 1225.9 560.3 1224.0C570.1 1222.2 579.8 1220.2 589.6 1218.1C599.3 1216.0 609.1 1213.7 618.8 1211.4C628.6 1209.1 638.3 1206.7 648.1 1204.3C657.8 1201.9 667.6 1199.5 677.3 1197.1C687.1 1194.7 696.8 1192.3 706.6 1189.8C716.3 1187.3 726.1 1184.7 735.8 1182.2C745.6 1179.6 755.3 1177.1 765.1 1174.6C774.8 1172.1 787.0 1169.1 794.3 1167.3C801.6 1165.5 805.7 1164.5 808.9 1163.7C812.2 1162.9 812.2 1162.9 813.8 1162.5C815.4 1162.1 817.1 1161.7 818.7 1161.3C820.3 1160.9 822.0 1160.6 823.6 1160.2C825.2 1159.8 826.8 1159.4 828.5 1159.0C830.1 1158.6 831.7 1158.3 833.3 1157.9C835.0 1157.5 836.6 1157.1 838.2 1156.8C839.8 1156.4 841.5 1156.0 843.1 1155.7C844.7 1155.3 846.3 1155.0 848.0 1154.6C849.6 1154.3 851.2 1154.0 852.8 1153.6C854.5 1153.3 856.1 1153.0 857.7 1152.7C859.3 1152.3 861.0 1152.0 862.6 1151.7C864.2 1151.4 865.8 1151.1 867.5 1150.8C869.1 1150.5 870.7 1150.2 872.3 1150.0C874.0 1149.7 875.6 1149.4 877.2 1149.1C878.8 1148.8 880.5 1148.6 882.1 1148.3C883.7 1148.0 885.3 1147.8 887.0 1147.5C888.6 1147.2 890.2 1147.0 891.8 1146.7C893.5 1146.5 895.1 1146.2 896.7 1146.0C898.3 1145.7 900.0 1145.4 901.6 1145.2C903.2 1144.9 904.8 1144.7 906.5 1144.5C908.1 1144.2 909.7 1144.0 911.3 1143.7C913.0 1143.5 914.6 1143.2 916.2 1143.0C917.8 1142.8 919.5 1142.5 921.1 1142.3C922.7 1142.1 924.3 1141.8 926.0 1141.6C927.6 1141.4 929.2 1141.2 930.8 1141.0C932.5 1140.7 934.1 1140.5 935.7 1140.3C937.3 1140.1 939.8 1139.8 940.6 1139.7" stroke="#5a14ff"/>
<path d="M209.3 1148.0C209.4 1148.7 209.8 1150.8 210.0 1152.1C210.3 1153.5 210.4 1154.3 210.7 1156.1C211.1 1157.9 211.6 1160.6 212.2 1162.9C212.8 1165.2 213.6 1168.0 214.3 1170.1C215.1 1172.3 215.6 1173.9 216.5 1175.9C217.5 1178.0 218.9 1180.6 220.1 1182.3C221.3 1184.0 221.9 1184.6 223.7 1186.2C225.5 1187.8 227.9 1189.6 230.9 1191.8C233.9 1194.1 238.2 1197.2 241.8 1199.6C245.4 1202.0 248.4 1203.9 252.6 1206.2C256.8 1208.5 262.2 1211.2 267.0 1213.5C271.8 1215.8 276.6 1217.8 281.4 1219.8C286.2 1221.8 288.6 1222.8 295.9 1225.4C303.1 1228.1 315.1 1232.6 324.7 1235.8C334.3 1239.1 343.9 1242.1 353.6 1245.0C363.2 1247.9 372.8 1250.5 382.4 1253.1C392.0 1255.7 401.6 1258.1 411.3 1260.6C420.9 1263.0 430.5 1265.4 440.1 1267.9C449.7 1270.4 459.4 1272.9 469.0 1275.4C478.6 1277.9 488.2 1280.4 497.8 1282.9C507.4 1285.3 517.1 1287.7 526.7 1290.1C536.3 1292.5 545.9 1294.8 555.5 1297.0C565.1 1299.3 574.8 1301.4 584.4 1303.6C594.0 1305.7 603.6 1307.7 613.2 1309.7C622.8 1311.8 632.5 1313.7 642.1 1315.7C651.7 1317.7 661.3 1319.6 670.9 1321.6C680.6 1323.5 690.2 1325.4 699.8 1327.3C709.4 1329.2 719.0 1331.0 728.6 1332.8C738.3 1334.6 747.9 1336.4 757.5 1338.3C767.1 1340.2 779.1 1342.8 786.3 1344.3C793.6 1345.7 797.6 1346.5 800.8 1347.2C804.0 1347.9 804.0 1347.8 805.6 1348.2C807.2 1348.5 808.8 1348.8 810.4 1349.2C812.0 1349.5 813.6 1349.8 815.2 1350.2C816.8 1350.5 818.4 1350.9 820.0 1351.2C821.6 1351.6 823.2 1352.0 824.8 1352.3C826.4 1352.7 828.0 1353.1 829.6 1353.5C831.2 1353.9 832.8 1354.3 834.4 1354.7C836.0 1355.1 837.6 1355.5 839.2 1356.0C840.8 1356.4 842.4 1356.9 844.1 1357.3C845.7 1357.8 847.3 1358.3 848.9 1358.8C850.5 1359.3 852.1 1359.8 853.7 1360.3C855.3 1360.9 856.9 1361.4 858.5 1361.9C860.1 1362.5 861.7 1363.1 863.3 1363.7C864.9 1364.3 866.5 1364.9 868.1 1365.6C869.7 1366.2 871.3 1366.9 872.9 1367.7C874.5 1368.4 876.1 1369.2 877.7 1370.0C879.3 1370.8 880.9 1371.7 882.5 1372.6C884.1 1373.5 885.7 1374.5 887.3 1375.6C888.9 1376.6 890.5 1377.6 892.1 1378.9C893.7 1380.2 895.3 1381.7 896.9 1383.3C898.5 1385.0 900.2 1386.9 901.8 1389.0C903.4 1391.1 905.0 1393.3 906.6 1395.8C908.2 1398.3 909.8 1400.6 911.4 1403.7C913.0 1406.8 914.6 1410.2 916.2 1414.3C917.8 1418.3 919.4 1423.2 921.0 1428.0C922.6 1432.8 924.2 1437.6 925.8 1443.1C927.4 1448.6 929.8 1457.8 930.6 1460.8" stroke="#5a14ff"/>
<path d="M209.3 1449.0C209.4 1437.8 209.8 1396.7 210.0 1382.1C210.3 1367.5 210.4 1367.5 210.8 1361.5C211.1 1355.5 211.6 1349.8 212.2 1345.9C212.8 1342.0 213.7 1340.1 214.4 1338.1C215.1 1336.2 215.6 1335.6 216.6 1334.2C217.6 1332.7 219.0 1330.8 220.2 1329.5C221.5 1328.1 222.1 1327.5 223.9 1326.0C225.7 1324.6 228.1 1322.8 231.2 1320.8C234.2 1318.8 238.5 1316.2 242.1 1314.2C245.8 1312.1 248.8 1310.8 253.1 1308.7C257.3 1306.5 262.8 1303.6 267.7 1301.1C272.5 1298.6 277.4 1296.1 282.3 1293.7C287.1 1291.3 289.6 1289.8 296.9 1286.7C304.2 1283.5 316.3 1278.4 326.0 1274.6C335.8 1270.9 345.5 1267.6 355.2 1264.1C365.0 1260.5 374.7 1256.1 384.4 1253.4C394.1 1250.6 403.9 1249.3 413.6 1247.5C423.3 1245.7 433.0 1244.1 442.8 1242.5C452.5 1240.9 462.2 1239.4 472.0 1237.9C481.7 1236.4 491.4 1235.0 501.1 1233.6C510.9 1232.1 520.6 1230.7 530.3 1229.1C540.1 1227.5 549.8 1225.9 559.5 1224.0C569.2 1222.2 579.0 1220.2 588.7 1218.1C598.4 1216.0 608.2 1213.7 617.9 1211.5C627.6 1209.2 637.3 1206.7 647.1 1204.4C656.8 1202.0 666.5 1199.6 676.3 1197.2C686.0 1194.8 695.7 1192.4 705.4 1189.9C715.2 1187.4 724.9 1184.8 734.6 1182.2C744.4 1179.7 754.1 1177.1 763.8 1174.6C773.5 1172.1 785.7 1169.2 793.0 1167.3C800.3 1165.5 804.3 1164.6 807.6 1163.8C810.8 1163.0 810.8 1163.0 812.5 1162.6C814.1 1162.2 815.7 1161.8 817.3 1161.4C818.9 1161.0 820.6 1160.6 822.2 1160.2C823.8 1159.8 825.4 1159.4 827.0 1159.1C828.7 1158.7 830.3 1158.3 831.9 1157.9C833.5 1157.6 835.2 1157.2 836.8 1156.8C838.4 1156.5 840.0 1156.1 841.6 1155.7C843.3 1155.4 844.9 1155.0 846.5 1154.7C848.1 1154.3 849.7 1154.0 851.4 1153.7C853.0 1153.3 854.6 1153.0 856.2 1152.7C857.8 1152.4 859.5 1152.1 861.1 1151.8C862.7 1151.5 864.3 1151.2 866.0 1150.9C867.6 1150.6 869.2 1150.3 870.8 1150.0C872.4 1149.7 874.1 1149.4 875.7 1149.2C877.3 1148.9 878.9 1148.6 880.5 1148.3C882.2 1148.1 883.8 1147.8 885.4 1147.5C887.0 1147.3 888.7 1147.0 890.3 1146.8C891.9 1146.5 893.5 1146.2 895.1 1146.0C896.8 1145.7 898.4 1145.5 900.0 1145.2C901.6 1145.0 903.2 1144.7 904.9 1144.5C906.5 1144.2 908.1 1144.0 909.7 1143.7C911.4 1143.5 913.0 1143.3 914.6 1143.0C916.2 1142.8 917.8 1142.5 919.5 1142.3C921.1 1142.1 922.7 1141.9 924.3 1141.6C925.9 1141.4 927.6 1141.2 929.2 1141.0C930.8 1140.7 932.4 1140.5 934.1 1140.3C935.7 1140.1 938.1 1139.8 938.9 1139.7" stroke="#3c28ff"/>
<path d="M209.3 1148.3C209.4 1149.0 209.8 1151.1 210.0 1152.5C210.2 1153.9 210.4 1154.7 210.7 1156.5C211.1 1158.3 211.5 1161.0 212.1 1163.4C212.7 1165.8 213.5 1168.6 214.3 1170.8C215.0 1173.1 215.4 1174.7 216.4 1176.9C217.3 1179.1 218.7 1181.9 219.9 1183.8C221.1 1185.6 221.7 1186.3 223.5 1188.0C225.2 1189.7 227.6 1191.8 230.5 1194.1C233.5 1196.4 237.6 1199.6 241.2 1202.0C244.7 1204.5 247.7 1206.3 251.8 1208.6C255.9 1210.9 261.2 1213.6 265.9 1215.9C270.7 1218.1 275.4 1220.1 280.1 1222.1C284.8 1224.1 287.2 1225.1 294.3 1227.8C301.3 1230.4 313.1 1234.8 322.6 1238.1C332.0 1241.3 341.5 1244.3 350.9 1247.2C360.3 1250.0 369.8 1252.7 379.2 1255.3C388.7 1257.8 398.1 1260.2 407.5 1262.7C417.0 1265.1 426.4 1267.5 435.9 1270.0C445.3 1272.4 454.7 1274.9 464.2 1277.4C473.6 1279.8 483.1 1282.3 492.5 1284.7C501.9 1287.2 511.4 1289.6 520.8 1292.0C530.3 1294.3 539.7 1296.6 549.1 1298.9C558.6 1301.1 568.0 1303.3 577.5 1305.4C586.9 1307.5 596.3 1309.5 605.8 1311.6C615.2 1313.6 624.7 1315.6 634.1 1317.6C643.5 1319.6 653.0 1321.5 662.4 1323.4C671.9 1325.4 681.3 1327.3 690.7 1329.2C700.2 1331.0 709.6 1332.8 719.1 1334.6C728.5 1336.4 737.9 1338.2 747.4 1340.1C756.8 1342.0 768.6 1344.5 775.7 1346.0C782.8 1347.5 786.7 1348.3 789.9 1348.9C793.0 1349.6 793.0 1349.6 794.6 1349.9C796.2 1350.2 797.7 1350.6 799.3 1350.9C800.9 1351.2 802.5 1351.6 804.0 1351.9C805.6 1352.3 807.2 1352.6 808.8 1353.0C810.3 1353.3 811.9 1353.7 813.5 1354.1C815.0 1354.4 816.6 1354.8 818.2 1355.2C819.8 1355.6 821.3 1356.0 822.9 1356.4C824.5 1356.8 826.1 1357.3 827.6 1357.7C829.2 1358.2 830.8 1358.6 832.4 1359.1C833.9 1359.5 835.5 1360.0 837.1 1360.5C838.6 1361.0 840.2 1361.5 841.8 1362.0C843.4 1362.6 844.9 1363.1 846.5 1363.6C848.1 1364.2 849.7 1364.7 851.2 1365.3C852.8 1365.9 854.4 1366.6 856.0 1367.2C857.5 1367.9 859.1 1368.5 860.7 1369.3C862.2 1370.0 863.8 1370.8 865.4 1371.6C867.0 1372.4 868.5 1373.3 870.1 1374.2C871.7 1375.1 873.3 1376.1 874.8 1377.1C876.4 1378.2 878.0 1379.2 879.6 1380.5C881.1 1381.8 882.7 1383.2 884.3 1384.9C885.8 1386.6 887.4 1388.5 889.0 1390.5C890.6 1392.6 892.1 1394.8 893.7 1397.3C895.3 1399.7 896.9 1402.1 898.4 1405.1C900.0 1408.1 901.6 1411.5 903.2 1415.5C904.7 1419.4 906.3 1424.1 907.9 1428.8C909.4 1433.5 911.0 1438.2 912.6 1443.6C914.2 1448.9 916.5 1457.9 917.3 1460.8" stroke="#3c28ff"/>
<path d="M209.3 1449.0C209.4 1438.0 209.8 1397.9 210.0 1383.5C210.2 1369.1 210.4 1368.7 210.7 1362.5C211.1 1356.3 211.5 1350.4 212.1 1346.4C212.7 1342.4 213.5 1340.6 214.3 1338.6C215.0 1336.7 215.4 1336.1 216.4 1334.7C217.3 1333.3 218.7 1331.5 219.9 1330.1C221.1 1328.8 221.7 1328.2 223.4 1326.8C225.2 1325.5 227.6 1323.8 230.5 1321.9C233.5 1320.0 237.6 1317.5 241.1 1315.6C244.7 1313.7 247.6 1312.4 251.7 1310.4C255.9 1308.3 261.2 1305.6 265.9 1303.3C270.6 1300.9 275.3 1298.5 280.0 1296.3C284.7 1294.0 287.1 1292.7 294.2 1289.6C301.2 1286.5 313.0 1281.6 322.4 1277.9C331.9 1274.2 341.3 1270.8 350.7 1267.2C360.2 1263.6 369.6 1259.2 379.0 1256.3C388.5 1253.3 397.9 1251.5 407.3 1249.4C416.7 1247.3 426.2 1245.4 435.6 1243.6C445.0 1241.7 454.5 1239.9 463.9 1238.3C473.3 1236.6 482.7 1235.1 492.2 1233.5C501.6 1232.0 511.0 1230.5 520.5 1228.9C529.9 1227.3 539.3 1225.8 548.7 1224.0C558.2 1222.2 567.6 1220.3 577.0 1218.4C586.5 1216.4 595.9 1214.2 605.3 1212.0C614.8 1209.9 624.2 1207.6 633.6 1205.2C643.0 1202.9 652.5 1200.6 661.9 1198.1C671.3 1195.7 680.8 1193.3 690.2 1190.8C699.6 1188.2 709.0 1185.6 718.5 1183.0C727.9 1180.5 737.3 1177.8 746.8 1175.3C756.2 1172.8 768.0 1169.8 775.0 1168.0C782.1 1166.1 786.0 1165.2 789.2 1164.4C792.3 1163.6 792.3 1163.6 793.9 1163.2C795.5 1162.8 797.0 1162.4 798.6 1162.0C800.2 1161.7 801.8 1161.3 803.3 1160.9C804.9 1160.5 806.5 1160.1 808.0 1159.7C809.6 1159.3 811.2 1159.0 812.8 1158.6C814.3 1158.2 815.9 1157.9 817.5 1157.5C819.0 1157.1 820.6 1156.8 822.2 1156.4C823.8 1156.0 825.3 1155.7 826.9 1155.3C828.5 1155.0 830.0 1154.7 831.6 1154.3C833.2 1154.0 834.8 1153.7 836.3 1153.3C837.9 1153.0 839.5 1152.7 841.0 1152.4C842.6 1152.1 844.2 1151.8 845.8 1151.5C847.3 1151.2 848.9 1150.9 850.5 1150.6C852.0 1150.3 853.6 1150.0 855.2 1149.7C856.8 1149.4 858.3 1149.1 859.9 1148.8C861.5 1148.5 863.0 1148.3 864.6 1148.0C866.2 1147.7 867.8 1147.4 869.3 1147.2C870.9 1146.9 872.5 1146.6 874.1 1146.4C875.6 1146.1 877.2 1145.8 878.8 1145.6C880.3 1145.3 881.9 1145.0 883.5 1144.8C885.1 1144.5 886.6 1144.3 888.2 1144.0C889.8 1143.7 891.3 1143.5 892.9 1143.2C894.5 1143.0 896.1 1142.7 897.6 1142.5C899.2 1142.3 900.8 1142.0 902.3 1141.8C903.9 1141.5 905.5 1141.3 907.1 1141.1C908.6 1140.8 910.2 1140.6 911.8 1140.3C913.3 1140.1 915.7 1139.8 916.5 1139.7" stroke="#2850ff"/>
<path d="M209.3 1149.0C209.4 1149.7 209.8 1151.8 210.0 1153.2C210.2 1154.6 210.3 1155.4 210.7 1157.2C211.0 1159.0 211.5 1161.7 212.0 1164.2C212.6 1166.7 213.4 1169.6 214.1 1172.0C214.8 1174.5 215.2 1176.3 216.1 1178.7C217.1 1181.1 218.4 1184.3 219.6 1186.4C220.7 1188.5 221.3 1189.3 223.0 1191.2C224.7 1193.2 227.0 1195.7 229.8 1198.2C232.7 1200.8 236.7 1204.0 240.1 1206.5C243.5 1209.0 246.3 1210.8 250.3 1213.1C254.3 1215.3 259.5 1217.9 264.0 1220.2C268.6 1222.4 273.1 1224.4 277.7 1226.4C282.3 1228.3 284.5 1229.3 291.4 1232.0C298.2 1234.6 309.6 1238.9 318.7 1242.1C327.8 1245.3 337.0 1248.3 346.1 1251.1C355.2 1253.9 364.3 1256.6 373.4 1259.1C382.6 1261.7 391.7 1264.1 400.8 1266.5C409.9 1269.0 419.0 1271.3 428.2 1273.7C437.3 1276.2 446.4 1278.6 455.5 1281.0C464.6 1283.4 473.7 1285.8 482.9 1288.2C492.0 1290.6 501.1 1293.0 510.2 1295.3C519.3 1297.6 528.5 1299.9 537.6 1302.1C546.7 1304.4 555.8 1306.5 564.9 1308.7C574.1 1310.8 583.2 1312.9 592.3 1314.9C601.4 1317.0 610.5 1319.0 619.6 1321.0C628.8 1322.9 637.9 1324.9 647.0 1326.8C656.1 1328.7 665.2 1330.6 674.4 1332.5C683.5 1334.3 692.6 1336.1 701.7 1337.9C710.8 1339.7 720.0 1341.4 729.1 1343.3C738.2 1345.2 749.6 1347.7 756.4 1349.2C763.3 1350.6 767.1 1351.5 770.1 1352.1C773.1 1352.8 773.1 1352.8 774.7 1353.1C776.2 1353.4 777.7 1353.7 779.2 1354.1C780.7 1354.4 782.3 1354.7 783.8 1355.1C785.3 1355.4 786.8 1355.8 788.3 1356.1C789.9 1356.5 791.4 1356.9 792.9 1357.2C794.4 1357.6 795.9 1358.0 797.5 1358.4C799.0 1358.8 800.5 1359.2 802.0 1359.6C803.5 1360.0 805.1 1360.4 806.6 1360.9C808.1 1361.3 809.6 1361.8 811.1 1362.2C812.7 1362.7 814.2 1363.2 815.7 1363.6C817.2 1364.1 818.7 1364.6 820.3 1365.1C821.8 1365.6 823.3 1366.1 824.8 1366.7C826.3 1367.2 827.9 1367.8 829.4 1368.4C830.9 1368.9 832.4 1369.5 833.9 1370.2C835.5 1370.8 837.0 1371.5 838.5 1372.2C840.0 1372.9 841.5 1373.7 843.1 1374.5C844.6 1375.3 846.1 1376.1 847.6 1377.0C849.1 1377.9 850.7 1378.9 852.2 1379.9C853.7 1381.0 855.2 1382.1 856.7 1383.4C858.3 1384.7 859.8 1386.1 861.3 1387.8C862.8 1389.5 864.3 1391.3 865.9 1393.4C867.4 1395.4 868.9 1397.6 870.4 1399.9C871.9 1402.3 873.5 1404.6 875.0 1407.6C876.5 1410.5 878.0 1413.9 879.5 1417.7C881.1 1421.5 882.6 1425.9 884.1 1430.4C885.6 1434.8 887.1 1439.3 888.7 1444.4C890.2 1449.5 892.5 1458.1 893.2 1460.8" stroke="#2850ff"/>
<path d="M209.3 1449.0C209.4 1438.3 209.8 1399.3 210.0 1385.1C210.2 1370.9 210.3 1370.1 210.7 1363.7C211.0 1357.4 211.5 1351.1 212.0 1347.0C212.6 1342.9 213.4 1341.2 214.1 1339.2C214.8 1337.3 215.2 1336.7 216.1 1335.3C217.0 1333.9 218.4 1332.2 219.5 1330.9C220.7 1329.7 221.2 1329.1 222.9 1327.8C224.6 1326.5 226.9 1324.9 229.7 1323.1C232.6 1321.4 236.6 1319.0 240.0 1317.2C243.4 1315.4 246.2 1314.2 250.2 1312.3C254.2 1310.4 259.3 1308.0 263.8 1305.8C268.4 1303.6 272.9 1301.4 277.4 1299.2C282.0 1297.1 284.3 1295.9 291.1 1293.0C297.9 1290.0 309.2 1285.3 318.3 1281.6C327.4 1278.0 336.5 1274.5 345.6 1270.8C354.7 1267.1 363.8 1262.8 372.8 1259.6C381.9 1256.4 391.0 1254.1 400.1 1251.6C409.2 1249.1 418.3 1246.9 427.4 1244.8C436.4 1242.6 445.5 1240.6 454.6 1238.7C463.7 1236.8 472.8 1235.2 481.9 1233.5C491.0 1231.9 500.0 1230.4 509.1 1228.8C518.2 1227.2 527.3 1225.6 536.4 1223.9C545.5 1222.3 554.6 1220.5 563.6 1218.6C572.7 1216.7 581.8 1214.8 590.9 1212.7C600.0 1210.7 609.1 1208.5 618.2 1206.2C627.2 1204.0 636.3 1201.7 645.4 1199.3C654.5 1196.8 663.6 1194.3 672.7 1191.8C681.8 1189.2 690.8 1186.5 699.9 1183.9C709.0 1181.3 718.1 1178.6 727.2 1176.1C736.3 1173.5 747.6 1170.5 754.4 1168.7C761.3 1166.9 765.0 1165.9 768.1 1165.1C771.1 1164.3 771.1 1164.4 772.6 1164.0C774.1 1163.6 775.6 1163.2 777.1 1162.8C778.7 1162.4 780.2 1162.0 781.7 1161.6C783.2 1161.3 784.7 1160.9 786.2 1160.5C787.7 1160.1 789.3 1159.7 790.8 1159.4C792.3 1159.0 793.8 1158.6 795.3 1158.3C796.8 1157.9 798.3 1157.5 799.9 1157.2C801.4 1156.8 802.9 1156.5 804.4 1156.1C805.9 1155.8 807.4 1155.4 808.9 1155.1C810.5 1154.7 812.0 1154.4 813.5 1154.1C815.0 1153.7 816.5 1153.4 818.0 1153.1C819.5 1152.8 821.1 1152.4 822.6 1152.1C824.1 1151.8 825.6 1151.5 827.1 1151.2C828.6 1150.9 830.1 1150.6 831.7 1150.3C833.2 1150.0 834.7 1149.7 836.2 1149.4C837.7 1149.1 839.2 1148.8 840.7 1148.5C842.3 1148.2 843.8 1147.9 845.3 1147.7C846.8 1147.4 848.3 1147.1 849.8 1146.8C851.3 1146.5 852.9 1146.2 854.4 1146.0C855.9 1145.7 857.4 1145.4 858.9 1145.1C860.4 1144.8 861.9 1144.6 863.5 1144.3C865.0 1144.0 866.5 1143.8 868.0 1143.5C869.5 1143.2 871.0 1143.0 872.5 1142.7C874.1 1142.4 875.6 1142.2 877.1 1141.9C878.6 1141.7 880.1 1141.4 881.6 1141.2C883.1 1140.9 884.7 1140.7 886.2 1140.4C887.7 1140.2 890.0 1139.8 890.7 1139.7" stroke="#1e8cff"/>
<path d="M209.3 1149.8C209.4 1150.5 209.7 1152.6 210.0 1154.0C210.2 1155.4 210.3 1156.2 210.6 1158.0C210.9 1159.9 211.4 1162.6 211.9 1165.2C212.5 1167.8 213.2 1170.9 213.9 1173.5C214.5 1176.1 215.0 1178.0 215.9 1180.7C216.7 1183.4 218.0 1187.2 219.1 1189.6C220.2 1192.0 220.8 1192.8 222.4 1195.1C224.1 1197.3 226.2 1200.3 229.0 1203.0C231.7 1205.8 235.5 1209.2 238.8 1211.7C242.1 1214.3 244.8 1216.0 248.6 1218.3C252.5 1220.5 257.4 1223.0 261.8 1225.2C266.1 1227.4 270.5 1229.4 274.9 1231.3C279.2 1233.3 281.4 1234.3 288.0 1236.9C294.5 1239.4 305.5 1243.7 314.2 1246.8C322.9 1250.0 331.7 1252.9 340.4 1255.7C349.2 1258.5 357.9 1261.1 366.7 1263.7C375.4 1266.3 384.1 1268.6 392.9 1271.0C401.6 1273.5 410.4 1275.8 419.1 1278.2C427.9 1280.5 436.6 1282.9 445.3 1285.2C454.1 1287.6 462.8 1289.9 471.6 1292.2C480.3 1294.6 489.0 1296.9 497.8 1299.2C506.5 1301.5 515.3 1303.8 524.0 1306.0C532.8 1308.2 541.5 1310.4 550.2 1312.5C559.0 1314.7 567.7 1316.8 576.5 1318.8C585.2 1320.9 594.0 1322.9 602.7 1324.9C611.4 1326.9 620.2 1328.9 628.9 1330.8C637.7 1332.7 646.4 1334.6 655.1 1336.4C663.9 1338.2 672.6 1339.9 681.4 1341.7C690.1 1343.5 698.9 1345.2 707.6 1347.1C716.3 1349.0 727.3 1351.4 733.8 1352.9C740.4 1354.3 744.0 1355.2 746.9 1355.8C749.9 1356.5 749.9 1356.5 751.3 1356.8C752.8 1357.1 754.2 1357.4 755.7 1357.8C757.1 1358.1 758.6 1358.5 760.1 1358.8C761.5 1359.2 763.0 1359.5 764.4 1359.9C765.9 1360.2 767.3 1360.6 768.8 1361.0C770.3 1361.3 771.7 1361.7 773.2 1362.1C774.6 1362.5 776.1 1362.9 777.5 1363.3C779.0 1363.7 780.5 1364.2 781.9 1364.6C783.4 1365.0 784.8 1365.5 786.3 1365.9C787.7 1366.4 789.2 1366.8 790.7 1367.3C792.1 1367.8 793.6 1368.3 795.0 1368.8C796.5 1369.2 797.9 1369.7 799.4 1370.3C800.9 1370.8 802.3 1371.3 803.8 1371.9C805.2 1372.5 806.7 1373.1 808.1 1373.7C809.6 1374.3 811.0 1375.0 812.5 1375.7C814.0 1376.4 815.4 1377.1 816.9 1377.9C818.3 1378.7 819.8 1379.5 821.2 1380.4C822.7 1381.3 824.2 1382.2 825.6 1383.2C827.1 1384.3 828.5 1385.4 830.0 1386.7C831.4 1388.1 832.9 1389.5 834.4 1391.2C835.8 1392.8 837.3 1394.7 838.7 1396.7C840.2 1398.6 841.6 1400.7 843.1 1403.0C844.6 1405.4 846.0 1407.7 847.5 1410.5C848.9 1413.4 850.4 1416.6 851.8 1420.2C853.3 1423.8 854.8 1428.0 856.2 1432.2C857.7 1436.4 859.1 1440.6 860.6 1445.4C862.0 1450.2 864.2 1458.2 865.0 1460.8" stroke="#1e8cff"/>
<path d="M209.3 1449.0C209.4 1438.2 209.8 1398.9 210.0 1384.6C210.2 1370.3 210.3 1369.6 210.7 1363.3C211.0 1357.0 211.5 1350.8 212.1 1346.8C212.6 1342.8 213.4 1341.0 214.1 1339.0C214.8 1337.1 215.3 1336.5 216.2 1335.1C217.1 1333.7 218.5 1332.0 219.6 1330.7C220.8 1329.4 221.4 1328.8 223.1 1327.5C224.8 1326.2 227.1 1324.5 230.0 1322.7C232.9 1320.9 236.9 1318.5 240.3 1316.7C243.8 1314.9 246.7 1313.7 250.7 1311.7C254.7 1309.8 259.9 1307.2 264.5 1305.0C269.1 1302.8 273.7 1300.5 278.3 1298.3C282.9 1296.1 285.2 1294.9 292.1 1291.9C299.0 1288.9 310.5 1284.1 319.7 1280.4C328.9 1276.7 338.0 1273.3 347.2 1269.6C356.4 1266.0 365.6 1261.6 374.8 1258.5C384.0 1255.4 393.2 1253.2 402.4 1250.9C411.6 1248.5 420.8 1246.4 430.0 1244.4C439.2 1242.3 448.4 1240.4 457.6 1238.6C466.8 1236.7 476.0 1235.1 485.2 1233.5C494.4 1231.9 503.6 1230.4 512.8 1228.8C522.0 1227.2 531.2 1225.7 540.4 1224.0C549.6 1222.2 558.8 1220.4 568.0 1218.5C577.2 1216.6 586.4 1214.6 595.5 1212.5C604.7 1210.4 613.9 1208.2 623.1 1205.9C632.3 1203.7 641.5 1201.3 650.7 1198.9C659.9 1196.5 669.1 1194.0 678.3 1191.5C687.5 1188.9 696.7 1186.2 705.9 1183.6C715.1 1181.0 724.3 1178.4 733.5 1175.8C742.7 1173.3 754.2 1170.3 761.1 1168.5C768.0 1166.6 771.8 1165.7 774.9 1164.9C777.9 1164.1 777.9 1164.1 779.5 1163.7C781.0 1163.3 782.5 1162.9 784.1 1162.6C785.6 1162.2 787.1 1161.8 788.7 1161.4C790.2 1161.0 791.7 1160.6 793.3 1160.2C794.8 1159.9 796.3 1159.5 797.9 1159.1C799.4 1158.7 800.9 1158.4 802.5 1158.0C804.0 1157.6 805.5 1157.3 807.1 1156.9C808.6 1156.6 810.1 1156.2 811.7 1155.9C813.2 1155.5 814.7 1155.2 816.3 1154.8C817.8 1154.5 819.3 1154.2 820.9 1153.8C822.4 1153.5 823.9 1153.2 825.5 1152.9C827.0 1152.5 828.5 1152.2 830.1 1151.9C831.6 1151.6 833.1 1151.3 834.7 1151.0C836.2 1150.7 837.7 1150.4 839.3 1150.1C840.8 1149.8 842.3 1149.5 843.9 1149.2C845.4 1148.9 846.9 1148.6 848.4 1148.3C850.0 1148.1 851.5 1147.8 853.0 1147.5C854.6 1147.2 856.1 1146.9 857.6 1146.7C859.2 1146.4 860.7 1146.1 862.2 1145.8C863.8 1145.6 865.3 1145.3 866.8 1145.0C868.4 1144.7 869.9 1144.5 871.4 1144.2C873.0 1143.9 874.5 1143.7 876.0 1143.4C877.6 1143.2 879.1 1142.9 880.6 1142.6C882.2 1142.4 883.7 1142.1 885.2 1141.9C886.8 1141.6 888.3 1141.4 889.8 1141.1C891.4 1140.9 892.9 1140.6 894.4 1140.4C896.0 1140.1 898.3 1139.8 899.0 1139.7" stroke="#00ccff"/>
<path d="M209.3 1149.5C209.4 1150.2 209.7 1152.3 210.0 1153.7C210.2 1155.0 210.3 1155.8 210.6 1157.7C211.0 1159.6 211.4 1162.3 212.0 1164.8C212.5 1167.3 213.3 1170.4 214.0 1172.9C214.6 1175.4 215.1 1177.3 216.0 1179.9C216.9 1182.4 218.2 1186.0 219.3 1188.3C220.4 1190.5 221.0 1191.4 222.6 1193.5C224.3 1195.6 226.5 1198.4 229.3 1201.1C232.1 1203.7 236.0 1207.1 239.3 1209.6C242.7 1212.1 245.4 1213.9 249.3 1216.1C253.2 1218.4 258.2 1220.9 262.7 1223.1C267.1 1225.3 271.6 1227.3 276.0 1229.3C280.5 1231.3 282.7 1232.2 289.4 1234.8C296.0 1237.4 307.2 1241.7 316.1 1244.9C325.0 1248.0 333.9 1251.0 342.8 1253.8C351.7 1256.6 360.6 1259.3 369.5 1261.8C378.3 1264.4 387.2 1266.8 396.1 1269.2C405.0 1271.6 413.9 1274.0 422.8 1276.3C431.7 1278.7 440.6 1281.1 449.5 1283.5C458.4 1285.8 467.3 1288.2 476.2 1290.6C485.1 1292.9 494.0 1295.3 502.9 1297.6C511.8 1299.9 520.7 1302.2 529.6 1304.4C538.5 1306.6 547.4 1308.8 556.3 1310.9C565.2 1313.1 574.1 1315.2 583.0 1317.2C591.9 1319.3 600.8 1321.3 609.7 1323.3C618.6 1325.3 627.5 1327.2 636.4 1329.2C645.3 1331.1 654.2 1333.0 663.1 1334.8C672.0 1336.6 680.9 1338.3 689.8 1340.1C698.6 1341.9 707.5 1343.7 716.4 1345.5C725.3 1347.4 736.5 1349.9 743.1 1351.4C749.8 1352.8 753.5 1353.6 756.5 1354.3C759.4 1354.9 759.4 1354.9 760.9 1355.3C762.4 1355.6 763.9 1355.9 765.4 1356.3C766.9 1356.6 768.3 1356.9 769.8 1357.3C771.3 1357.6 772.8 1358.0 774.3 1358.3C775.8 1358.7 777.2 1359.1 778.7 1359.4C780.2 1359.8 781.7 1360.2 783.2 1360.6C784.7 1361.0 786.1 1361.4 787.6 1361.8C789.1 1362.2 790.6 1362.6 792.1 1363.1C793.6 1363.5 795.0 1363.9 796.5 1364.4C798.0 1364.9 799.5 1365.3 801.0 1365.8C802.4 1366.3 803.9 1366.8 805.4 1367.3C806.9 1367.8 808.4 1368.3 809.9 1368.8C811.3 1369.3 812.8 1369.9 814.3 1370.4C815.8 1371.0 817.3 1371.6 818.8 1372.2C820.2 1372.9 821.7 1373.5 823.2 1374.3C824.7 1375.0 826.2 1375.7 827.7 1376.5C829.1 1377.3 830.6 1378.1 832.1 1379.0C833.6 1379.9 835.1 1380.8 836.6 1381.9C838.0 1382.9 839.5 1384.0 841.0 1385.3C842.5 1386.7 844.0 1388.1 845.5 1389.8C846.9 1391.5 848.4 1393.3 849.9 1395.3C851.4 1397.3 852.9 1399.4 854.3 1401.8C855.8 1404.1 857.3 1406.4 858.8 1409.3C860.3 1412.2 861.8 1415.5 863.2 1419.2C864.7 1422.8 866.2 1427.1 867.7 1431.4C869.2 1435.7 870.7 1440.1 872.1 1445.0C873.6 1449.9 875.9 1458.2 876.6 1460.8" stroke="#00ccff"/>
<path d="M209.3 1449.0C209.4 1438.4 209.7 1399.9 210.0 1385.8C210.2 1371.6 210.3 1370.6 210.6 1364.2C211.0 1357.7 211.4 1351.3 212.0 1347.2C212.5 1343.1 213.3 1341.4 214.0 1339.5C214.7 1337.5 215.1 1336.9 216.0 1335.5C216.9 1334.1 218.3 1332.5 219.4 1331.2C220.5 1330.0 221.1 1329.4 222.7 1328.1C224.4 1326.9 226.6 1325.3 229.4 1323.6C232.2 1321.9 236.2 1319.6 239.5 1317.9C242.9 1316.1 245.7 1315.0 249.6 1313.1C253.5 1311.3 258.5 1308.9 263.0 1306.8C267.5 1304.7 272.0 1302.5 276.4 1300.4C280.9 1298.3 283.2 1297.2 289.9 1294.3C296.6 1291.4 307.8 1286.8 316.7 1283.1C325.7 1279.4 334.6 1275.9 343.6 1272.2C352.5 1268.5 361.5 1264.2 370.4 1260.9C379.4 1257.6 388.4 1255.0 397.3 1252.4C406.3 1249.8 415.2 1247.5 424.2 1245.2C433.1 1243.0 442.1 1240.8 451.0 1238.9C460.0 1236.9 468.9 1235.2 477.9 1233.5C486.8 1231.8 495.8 1230.3 504.7 1228.7C513.7 1227.1 522.6 1225.6 531.6 1223.9C540.5 1222.3 549.5 1220.5 558.5 1218.7C567.4 1216.9 576.4 1215.0 585.3 1213.0C594.3 1211.0 603.2 1208.8 612.2 1206.6C621.1 1204.4 630.1 1202.1 639.0 1199.7C648.0 1197.3 656.9 1194.8 665.9 1192.2C674.8 1189.6 683.8 1186.9 692.7 1184.3C701.7 1181.6 710.6 1178.9 719.6 1176.4C728.6 1173.8 739.7 1170.8 746.5 1169.0C753.2 1167.1 756.9 1166.2 759.9 1165.4C762.9 1164.6 762.9 1164.6 764.4 1164.2C765.9 1163.9 767.3 1163.5 768.8 1163.1C770.3 1162.7 771.8 1162.3 773.3 1161.9C774.8 1161.5 776.3 1161.2 777.8 1160.8C779.3 1160.4 780.8 1160.0 782.3 1159.7C783.8 1159.3 785.3 1158.9 786.7 1158.6C788.2 1158.2 789.7 1157.8 791.2 1157.5C792.7 1157.1 794.2 1156.7 795.7 1156.4C797.2 1156.0 798.7 1155.7 800.2 1155.4C801.7 1155.0 803.2 1154.7 804.7 1154.3C806.1 1154.0 807.6 1153.7 809.1 1153.4C810.6 1153.0 812.1 1152.7 813.6 1152.4C815.1 1152.1 816.6 1151.8 818.1 1151.4C819.6 1151.1 821.1 1150.8 822.6 1150.5C824.0 1150.2 825.5 1149.9 827.0 1149.6C828.5 1149.3 830.0 1149.0 831.5 1148.7C833.0 1148.4 834.5 1148.1 836.0 1147.8C837.5 1147.5 839.0 1147.3 840.5 1147.0C842.0 1146.7 843.4 1146.4 844.9 1146.1C846.4 1145.8 847.9 1145.5 849.4 1145.3C850.9 1145.0 852.4 1144.7 853.9 1144.4C855.4 1144.1 856.9 1143.9 858.4 1143.6C859.9 1143.3 861.4 1143.1 862.8 1142.8C864.3 1142.5 865.8 1142.2 867.3 1142.0C868.8 1141.7 870.3 1141.5 871.8 1141.2C873.3 1140.9 874.8 1140.7 876.3 1140.4C877.8 1140.2 880.0 1139.8 880.7 1139.7" stroke="#00f0e0"/>
<path d="M209.3 1149.9C209.4 1150.6 209.7 1152.7 210.0 1154.1C210.2 1155.4 210.3 1156.2 210.6 1158.1C210.9 1160.0 211.4 1162.7 211.9 1165.2C212.5 1167.8 213.2 1171.0 213.9 1173.6C214.5 1176.2 215.0 1178.1 215.8 1180.8C216.7 1183.5 218.0 1187.3 219.1 1189.7C220.2 1192.2 220.7 1193.0 222.4 1195.3C224.0 1197.6 226.2 1200.5 228.9 1203.3C231.6 1206.1 235.5 1209.5 238.7 1212.0C242.0 1214.6 244.7 1216.3 248.5 1218.6C252.4 1220.8 257.3 1223.3 261.6 1225.5C266.0 1227.7 270.3 1229.7 274.7 1231.6C279.1 1233.6 281.2 1234.6 287.8 1237.2C294.3 1239.7 305.2 1244.0 313.9 1247.1C322.7 1250.2 331.4 1253.2 340.1 1256.0C348.8 1258.8 357.5 1261.4 366.3 1264.0C375.0 1266.5 383.7 1268.9 392.4 1271.3C401.1 1273.7 409.9 1276.1 418.6 1278.4C427.3 1280.8 436.0 1283.1 444.7 1285.5C453.5 1287.8 462.2 1290.1 470.9 1292.5C479.6 1294.8 488.3 1297.1 497.1 1299.4C505.8 1301.7 514.5 1304.0 523.2 1306.2C531.9 1308.4 540.7 1310.6 549.4 1312.8C558.1 1314.9 566.8 1317.0 575.5 1319.1C584.3 1321.1 593.0 1323.2 601.7 1325.1C610.4 1327.1 619.1 1329.1 627.9 1331.0C636.6 1332.9 645.3 1334.8 654.0 1336.6C662.7 1338.4 671.5 1340.1 680.2 1341.9C688.9 1343.7 697.6 1345.5 706.3 1347.3C715.1 1349.2 726.0 1351.7 732.5 1353.1C739.0 1354.6 742.7 1355.4 745.6 1356.0C748.5 1356.7 748.5 1356.7 749.9 1357.0C751.4 1357.3 752.8 1357.7 754.3 1358.0C755.8 1358.3 757.2 1358.7 758.7 1359.0C760.1 1359.4 761.6 1359.7 763.0 1360.1C764.5 1360.4 765.9 1360.8 767.4 1361.2C768.8 1361.6 770.3 1361.9 771.7 1362.3C773.2 1362.7 774.6 1363.1 776.1 1363.5C777.6 1364.0 779.0 1364.4 780.5 1364.8C781.9 1365.2 783.4 1365.7 784.8 1366.1C786.3 1366.6 787.7 1367.1 789.2 1367.5C790.6 1368.0 792.1 1368.5 793.5 1369.0C795.0 1369.5 796.4 1370.0 797.9 1370.5C799.4 1371.0 800.8 1371.5 802.3 1372.1C803.7 1372.7 805.2 1373.3 806.6 1373.9C808.1 1374.5 809.5 1375.2 811.0 1375.9C812.4 1376.6 813.9 1377.3 815.3 1378.1C816.8 1378.9 818.2 1379.7 819.7 1380.6C821.2 1381.5 822.6 1382.4 824.1 1383.4C825.5 1384.5 827.0 1385.6 828.4 1386.9C829.9 1388.3 831.3 1389.7 832.8 1391.4C834.2 1393.0 835.7 1394.9 837.1 1396.8C838.6 1398.8 840.0 1400.9 841.5 1403.2C843.0 1405.5 844.4 1407.8 845.9 1410.7C847.3 1413.5 848.8 1416.8 850.2 1420.4C851.7 1424.0 853.1 1428.1 854.6 1432.3C856.0 1436.5 857.5 1440.7 858.9 1445.5C860.4 1450.2 862.6 1458.2 863.3 1460.8" stroke="#00f0e0"/>
<path d="M209.3 1449.0C209.4 1438.5 209.7 1400.2 210.0 1386.1C210.2 1372.0 210.3 1370.8 210.6 1364.4C211.0 1357.9 211.4 1351.5 212.0 1347.3C212.5 1343.2 213.3 1341.5 214.0 1339.6C214.6 1337.6 215.1 1337.0 216.0 1335.6C216.9 1334.3 218.2 1332.6 219.3 1331.4C220.4 1330.2 221.0 1329.6 222.6 1328.3C224.3 1327.1 226.5 1325.5 229.3 1323.8C232.1 1322.1 236.0 1319.9 239.3 1318.2C242.6 1316.5 245.4 1315.3 249.3 1313.5C253.2 1311.7 258.2 1309.4 262.6 1307.3C267.1 1305.2 271.5 1303.0 275.9 1301.0C280.4 1298.9 282.6 1297.8 289.3 1294.9C295.9 1292.1 307.0 1287.5 315.9 1283.8C324.8 1280.2 333.7 1276.6 342.6 1272.9C351.5 1269.2 360.4 1264.8 369.3 1261.5C378.1 1258.2 387.0 1255.5 395.9 1252.9C404.8 1250.2 413.7 1247.8 422.6 1245.5C431.5 1243.1 440.3 1240.9 449.2 1238.9C458.1 1236.9 467.0 1235.2 475.9 1233.5C484.8 1231.8 493.7 1230.3 502.5 1228.7C511.4 1227.1 520.3 1225.6 529.2 1223.9C538.1 1222.3 547.0 1220.6 555.9 1218.8C564.7 1217.0 573.6 1215.1 582.5 1213.1C591.4 1211.1 600.3 1209.0 609.2 1206.8C618.1 1204.6 626.9 1202.3 635.8 1199.9C644.7 1197.5 653.6 1195.0 662.5 1192.4C671.4 1189.8 680.3 1187.1 689.2 1184.5C698.0 1181.8 706.9 1179.1 715.8 1176.5C724.7 1174.0 735.8 1170.9 742.5 1169.1C749.1 1167.3 752.8 1166.3 755.8 1165.6C758.8 1164.8 758.8 1164.8 760.2 1164.4C761.7 1164.0 763.2 1163.6 764.7 1163.2C766.2 1162.8 767.6 1162.5 769.1 1162.1C770.6 1161.7 772.1 1161.3 773.6 1160.9C775.1 1160.6 776.5 1160.2 778.0 1159.8C779.5 1159.4 781.0 1159.1 782.5 1158.7C783.9 1158.3 785.4 1158.0 786.9 1157.6C788.4 1157.3 789.9 1156.9 791.3 1156.5C792.8 1156.2 794.3 1155.8 795.8 1155.5C797.3 1155.2 798.7 1154.8 800.2 1154.5C801.7 1154.1 803.2 1153.8 804.7 1153.5C806.2 1153.2 807.6 1152.8 809.1 1152.5C810.6 1152.2 812.1 1151.9 813.6 1151.6C815.0 1151.3 816.5 1150.9 818.0 1150.6C819.5 1150.3 821.0 1150.0 822.4 1149.7C823.9 1149.4 825.4 1149.1 826.9 1148.8C828.4 1148.5 829.9 1148.2 831.3 1147.9C832.8 1147.6 834.3 1147.3 835.8 1147.1C837.3 1146.8 838.7 1146.5 840.2 1146.2C841.7 1145.9 843.2 1145.6 844.7 1145.3C846.1 1145.0 847.6 1144.8 849.1 1144.5C850.6 1144.2 852.1 1143.9 853.5 1143.6C855.0 1143.4 856.5 1143.1 858.0 1142.8C859.5 1142.6 861.0 1142.3 862.4 1142.0C863.9 1141.7 865.4 1141.5 866.9 1141.2C868.4 1141.0 869.8 1140.7 871.3 1140.4C872.8 1140.2 875.0 1139.8 875.8 1139.7" stroke="#20ff60"/>
<path d="M209.3 1150.1C209.4 1150.8 209.7 1152.9 209.9 1154.3C210.2 1155.7 210.3 1156.5 210.6 1158.4C210.9 1160.2 211.3 1163.0 211.9 1165.6C212.4 1168.2 213.2 1171.4 213.8 1174.1C214.5 1176.7 214.9 1178.7 215.7 1181.5C216.6 1184.3 217.9 1188.3 219.0 1190.8C220.0 1193.3 220.6 1194.2 222.2 1196.5C223.8 1198.9 226.0 1202.0 228.6 1204.9C231.3 1207.8 235.1 1211.2 238.3 1213.7C241.5 1216.3 244.2 1218.0 248.0 1220.3C251.8 1222.5 256.6 1225.0 260.9 1227.1C265.2 1229.3 269.5 1231.3 273.8 1233.3C278.1 1235.2 280.2 1236.2 286.7 1238.7C293.1 1241.3 303.9 1245.5 312.5 1248.6C321.1 1251.7 329.7 1254.7 338.3 1257.5C346.9 1260.3 355.5 1262.9 364.1 1265.4C372.7 1268.0 381.3 1270.4 389.9 1272.8C398.5 1275.2 407.1 1277.5 415.7 1279.8C424.3 1282.2 432.9 1284.5 441.4 1286.8C450.0 1289.1 458.6 1291.5 467.2 1293.8C475.8 1296.1 484.4 1298.4 493.0 1300.7C501.6 1303.0 510.2 1305.3 518.8 1307.5C527.4 1309.7 536.0 1311.9 544.6 1314.0C553.2 1316.2 561.8 1318.3 570.4 1320.3C579.0 1322.4 587.6 1324.4 596.2 1326.4C604.8 1328.4 613.4 1330.4 622.0 1332.3C630.6 1334.2 639.2 1336.1 647.8 1337.9C656.4 1339.7 665.0 1341.4 673.6 1343.2C682.2 1344.9 690.8 1346.7 699.4 1348.5C708.0 1350.4 718.7 1352.9 725.2 1354.3C731.6 1355.8 735.2 1356.6 738.1 1357.2C740.9 1357.9 740.9 1357.9 742.4 1358.2C743.8 1358.5 745.2 1358.9 746.7 1359.2C748.1 1359.5 749.5 1359.9 751.0 1360.2C752.4 1360.6 753.8 1360.9 755.3 1361.3C756.7 1361.6 758.1 1362.0 759.6 1362.4C761.0 1362.8 762.4 1363.1 763.9 1363.5C765.3 1363.9 766.7 1364.3 768.2 1364.7C769.6 1365.2 771.0 1365.6 772.5 1366.0C773.9 1366.4 775.3 1366.9 776.8 1367.3C778.2 1367.8 779.6 1368.2 781.1 1368.7C782.5 1369.2 783.9 1369.6 785.4 1370.1C786.8 1370.6 788.2 1371.1 789.7 1371.6C791.1 1372.2 792.5 1372.7 794.0 1373.3C795.4 1373.8 796.8 1374.4 798.3 1375.0C799.7 1375.6 801.1 1376.3 802.6 1377.0C804.0 1377.7 805.4 1378.4 806.9 1379.2C808.3 1380.0 809.7 1380.8 811.2 1381.7C812.6 1382.5 814.0 1383.5 815.5 1384.5C816.9 1385.6 818.3 1386.7 819.8 1388.0C821.2 1389.3 822.6 1390.8 824.1 1392.5C825.5 1394.1 826.9 1396.0 828.4 1397.9C829.8 1399.9 831.2 1401.9 832.7 1404.2C834.1 1406.5 835.5 1408.8 837.0 1411.6C838.4 1414.5 839.8 1417.7 841.3 1421.2C842.7 1424.7 844.1 1428.8 845.6 1432.9C847.0 1437.0 848.4 1441.1 849.9 1445.8C851.3 1450.4 853.4 1458.3 854.2 1460.8" stroke="#20ff60"/>
<path d="M209.3 1449.0C209.4 1438.5 209.7 1400.4 210.0 1386.4C210.2 1372.3 210.3 1371.1 210.6 1364.6C211.0 1358.1 211.4 1351.6 211.9 1347.5C212.5 1343.3 213.3 1341.6 213.9 1339.7C214.6 1337.7 215.0 1337.1 215.9 1335.7C216.8 1334.4 218.1 1332.8 219.2 1331.6C220.3 1330.3 220.9 1329.8 222.5 1328.5C224.2 1327.3 226.4 1325.7 229.1 1324.1C231.9 1322.4 235.8 1320.2 239.1 1318.5C242.4 1316.8 245.1 1315.7 249.0 1313.9C252.8 1312.1 257.8 1309.8 262.2 1307.8C266.6 1305.7 271.0 1303.6 275.4 1301.6C279.9 1299.5 282.1 1298.4 288.7 1295.6C295.3 1292.8 306.3 1288.2 315.1 1284.6C324.0 1280.9 332.8 1277.3 341.6 1273.6C350.4 1269.9 359.2 1265.5 368.1 1262.1C376.9 1258.8 385.7 1256.0 394.5 1253.3C403.3 1250.5 412.2 1248.1 421.0 1245.7C429.8 1243.3 438.6 1241.1 447.4 1239.0C456.3 1237.0 465.1 1235.2 473.9 1233.5C482.7 1231.8 491.5 1230.2 500.3 1228.6C509.2 1227.0 518.0 1225.5 526.8 1223.9C535.6 1222.3 544.4 1220.6 553.3 1218.8C562.1 1217.0 570.9 1215.2 579.7 1213.2C588.5 1211.3 597.4 1209.2 606.2 1207.0C615.0 1204.8 623.8 1202.5 632.6 1200.1C641.5 1197.7 650.3 1195.2 659.1 1192.6C667.9 1190.0 676.7 1187.3 685.6 1184.6C694.4 1182.0 703.2 1179.3 712.0 1176.7C720.8 1174.1 731.9 1171.1 738.5 1169.2C745.1 1167.4 748.8 1166.5 751.7 1165.7C754.7 1164.9 754.7 1164.9 756.1 1164.5C757.6 1164.1 759.1 1163.8 760.5 1163.4C762.0 1163.0 763.5 1162.6 764.9 1162.2C766.4 1161.8 767.9 1161.5 769.3 1161.1C770.8 1160.7 772.3 1160.3 773.8 1160.0C775.2 1159.6 776.7 1159.2 778.2 1158.8C779.6 1158.5 781.1 1158.1 782.6 1157.8C784.0 1157.4 785.5 1157.0 787.0 1156.7C788.5 1156.3 789.9 1156.0 791.4 1155.6C792.9 1155.3 794.3 1155.0 795.8 1154.6C797.3 1154.3 798.7 1154.0 800.2 1153.6C801.7 1153.3 803.2 1153.0 804.6 1152.7C806.1 1152.3 807.6 1152.0 809.0 1151.7C810.5 1151.4 812.0 1151.1 813.4 1150.8C814.9 1150.4 816.4 1150.1 817.9 1149.8C819.3 1149.5 820.8 1149.2 822.3 1148.9C823.7 1148.6 825.2 1148.3 826.7 1148.0C828.1 1147.7 829.6 1147.4 831.1 1147.1C832.6 1146.8 834.0 1146.6 835.5 1146.3C837.0 1146.0 838.4 1145.7 839.9 1145.4C841.4 1145.1 842.8 1144.8 844.3 1144.5C845.8 1144.3 847.3 1144.0 848.7 1143.7C850.2 1143.4 851.7 1143.1 853.1 1142.9C854.6 1142.6 856.1 1142.3 857.5 1142.0C859.0 1141.8 860.5 1141.5 862.0 1141.2C863.4 1141.0 864.9 1140.7 866.4 1140.4C867.8 1140.2 870.0 1139.8 870.8 1139.7" stroke="#80f020"/>
<path d="M209.3 1150.3C209.4 1151.0 209.7 1153.1 209.9 1154.5C210.2 1155.8 210.3 1156.6 210.6 1158.5C210.9 1160.4 211.3 1163.1 211.9 1165.7C212.4 1168.4 213.1 1171.6 213.8 1174.3C214.4 1177.0 214.8 1179.0 215.7 1181.9C216.6 1184.7 217.8 1188.8 218.9 1191.3C220.0 1193.9 220.5 1194.8 222.1 1197.2C223.7 1199.6 225.8 1202.8 228.5 1205.7C231.2 1208.7 234.9 1212.1 238.1 1214.7C241.3 1217.2 244.0 1218.9 247.7 1221.2C251.4 1223.4 256.2 1225.9 260.5 1228.0C264.8 1230.2 269.0 1232.2 273.3 1234.1C277.6 1236.1 279.7 1237.1 286.1 1239.6C292.5 1242.2 303.1 1246.3 311.7 1249.5C320.2 1252.6 328.7 1255.5 337.3 1258.3C345.8 1261.1 354.3 1263.7 362.9 1266.2C371.4 1268.8 379.9 1271.2 388.5 1273.6C397.0 1276.0 405.5 1278.3 414.1 1280.6C422.6 1282.9 431.1 1285.3 439.7 1287.6C448.2 1289.9 456.7 1292.2 465.2 1294.5C473.8 1296.8 482.3 1299.1 490.8 1301.4C499.4 1303.7 507.9 1305.9 516.4 1308.2C525.0 1310.4 533.5 1312.6 542.0 1314.7C550.6 1316.8 559.1 1319.0 567.6 1321.0C576.2 1323.1 584.7 1325.1 593.2 1327.1C601.8 1329.1 610.3 1331.1 618.8 1333.0C627.3 1334.9 635.9 1336.8 644.4 1338.6C652.9 1340.4 661.5 1342.1 670.0 1343.8C678.5 1345.6 687.1 1347.4 695.6 1349.2C704.1 1351.1 714.8 1353.5 721.2 1355.0C727.6 1356.4 731.1 1357.2 734.0 1357.9C736.8 1358.5 736.8 1358.5 738.3 1358.9C739.7 1359.2 741.1 1359.5 742.5 1359.9C743.9 1360.2 745.4 1360.5 746.8 1360.9C748.2 1361.2 749.6 1361.6 751.1 1361.9C752.5 1362.3 753.9 1362.7 755.3 1363.0C756.7 1363.4 758.2 1363.8 759.6 1364.2C761.0 1364.6 762.4 1365.0 763.9 1365.4C765.3 1365.8 766.7 1366.2 768.1 1366.7C769.5 1367.1 771.0 1367.5 772.4 1368.0C773.8 1368.4 775.2 1368.9 776.7 1369.4C778.1 1369.8 779.5 1370.3 780.9 1370.8C782.3 1371.3 783.8 1371.8 785.2 1372.3C786.6 1372.8 788.0 1373.3 789.4 1373.9C790.9 1374.4 792.3 1375.0 793.7 1375.6C795.1 1376.3 796.6 1376.9 798.0 1377.6C799.4 1378.3 800.8 1379.0 802.2 1379.8C803.7 1380.6 805.1 1381.4 806.5 1382.2C807.9 1383.1 809.4 1384.0 810.8 1385.1C812.2 1386.2 813.6 1387.3 815.0 1388.6C816.5 1389.9 817.9 1391.4 819.3 1393.1C820.7 1394.7 822.2 1396.5 823.6 1398.5C825.0 1400.5 826.4 1402.5 827.8 1404.8C829.3 1407.1 830.7 1409.3 832.1 1412.2C833.5 1415.0 835.0 1418.1 836.4 1421.6C837.8 1425.1 839.2 1429.1 840.6 1433.2C842.1 1437.3 843.5 1441.4 844.9 1446.0C846.3 1450.6 848.5 1458.3 849.2 1460.8" stroke="#80f020"/>
<path d="M209.3 1449.0C209.4 1438.6 209.7 1400.6 210.0 1386.6C210.2 1372.6 210.3 1371.3 210.6 1364.8C210.9 1358.3 211.4 1351.7 211.9 1347.5C212.5 1343.4 213.2 1341.7 213.9 1339.8C214.6 1337.8 215.0 1337.2 215.9 1335.8C216.8 1334.5 218.1 1332.9 219.2 1331.7C220.3 1330.5 220.8 1329.9 222.5 1328.6C224.1 1327.4 226.3 1325.9 229.0 1324.2C231.8 1322.6 235.6 1320.4 238.9 1318.7C242.2 1317.0 244.9 1315.9 248.8 1314.1C252.6 1312.4 257.6 1310.1 262.0 1308.1C266.3 1306.1 270.7 1303.9 275.1 1301.9C279.5 1299.9 281.7 1298.9 288.3 1296.0C294.9 1293.2 305.8 1288.7 314.6 1285.0C323.4 1281.4 332.2 1277.8 340.9 1274.1C349.7 1270.3 358.5 1266.0 367.3 1262.6C376.0 1259.2 384.8 1256.4 393.6 1253.6C402.4 1250.8 411.1 1248.3 419.9 1245.8C428.7 1243.4 437.5 1241.1 446.2 1239.1C455.0 1237.0 463.8 1235.2 472.6 1233.5C481.3 1231.7 490.1 1230.2 498.9 1228.6C507.7 1227.0 516.4 1225.5 525.2 1223.9C534.0 1222.3 542.8 1220.6 551.5 1218.9C560.3 1217.1 569.1 1215.3 577.9 1213.3C586.6 1211.4 595.4 1209.3 604.2 1207.2C613.0 1205.0 621.7 1202.7 630.5 1200.3C639.3 1197.9 648.1 1195.3 656.8 1192.7C665.6 1190.1 674.4 1187.4 683.2 1184.7C691.9 1182.1 700.7 1179.4 709.5 1176.8C718.3 1174.2 729.2 1171.2 735.8 1169.3C742.4 1167.5 746.1 1166.6 749.0 1165.8C751.9 1165.0 751.9 1165.0 753.4 1164.6C754.8 1164.2 756.3 1163.9 757.8 1163.5C759.2 1163.1 760.7 1162.7 762.1 1162.3C763.6 1161.9 765.1 1161.6 766.5 1161.2C768.0 1160.8 769.5 1160.4 770.9 1160.1C772.4 1159.7 773.8 1159.3 775.3 1158.9C776.8 1158.6 778.2 1158.2 779.7 1157.9C781.2 1157.5 782.6 1157.1 784.1 1156.8C785.5 1156.4 787.0 1156.1 788.5 1155.7C789.9 1155.4 791.4 1155.1 792.9 1154.7C794.3 1154.4 795.8 1154.0 797.2 1153.7C798.7 1153.4 800.2 1153.1 801.6 1152.7C803.1 1152.4 804.6 1152.1 806.0 1151.8C807.5 1151.5 808.9 1151.1 810.4 1150.8C811.9 1150.5 813.3 1150.2 814.8 1149.9C816.3 1149.6 817.7 1149.3 819.2 1149.0C820.7 1148.7 822.1 1148.4 823.6 1148.1C825.0 1147.8 826.5 1147.5 828.0 1147.2C829.4 1146.9 830.9 1146.6 832.4 1146.3C833.8 1146.0 835.3 1145.7 836.7 1145.4C838.2 1145.1 839.7 1144.9 841.1 1144.6C842.6 1144.3 844.1 1144.0 845.5 1143.7C847.0 1143.4 848.4 1143.2 849.9 1142.9C851.4 1142.6 852.8 1142.3 854.3 1142.1C855.8 1141.8 857.2 1141.5 858.7 1141.3C860.1 1141.0 861.6 1140.7 863.1 1140.5C864.5 1140.2 866.7 1139.8 867.5 1139.7" stroke="#c0e000"/>
<path d="M209.3 1150.3C209.4 1151.0 209.7 1153.1 209.9 1154.5C210.2 1155.9 210.3 1156.7 210.6 1158.6C210.9 1160.4 211.3 1163.2 211.9 1165.8C212.4 1168.4 213.1 1171.7 213.8 1174.4C214.4 1177.1 214.8 1179.1 215.7 1182.0C216.5 1184.8 217.8 1188.9 218.9 1191.5C219.9 1194.1 220.5 1195.0 222.1 1197.4C223.7 1199.8 225.8 1203.1 228.4 1206.0C231.1 1209.0 234.8 1212.4 238.0 1215.0C241.2 1217.5 243.9 1219.3 247.6 1221.5C251.3 1223.7 256.1 1226.2 260.4 1228.3C264.6 1230.5 268.9 1232.5 273.1 1234.4C277.4 1236.4 279.5 1237.3 285.9 1239.9C292.3 1242.4 302.9 1246.6 311.4 1249.7C319.9 1252.8 328.4 1255.8 336.9 1258.6C345.5 1261.4 354.0 1264.0 362.5 1266.5C371.0 1269.1 379.5 1271.4 388.0 1273.8C396.5 1276.2 405.0 1278.5 413.5 1280.9C422.0 1283.2 430.5 1285.5 439.1 1287.8C447.6 1290.1 456.1 1292.4 464.6 1294.7C473.1 1297.0 481.6 1299.3 490.1 1301.6C498.6 1303.9 507.1 1306.2 515.6 1308.4C524.1 1310.6 532.7 1312.8 541.2 1314.9C549.7 1317.1 558.2 1319.2 566.7 1321.3C575.2 1323.3 583.7 1325.4 592.2 1327.4C600.7 1329.4 609.2 1331.3 617.8 1333.2C626.3 1335.2 634.8 1337.0 643.3 1338.8C651.8 1340.6 660.3 1342.3 668.8 1344.1C677.3 1345.8 685.8 1347.6 694.3 1349.4C702.8 1351.3 713.5 1353.8 719.9 1355.2C726.2 1356.6 729.8 1357.4 732.6 1358.1C735.5 1358.7 735.5 1358.7 736.9 1359.1C738.3 1359.4 739.7 1359.7 741.1 1360.1C742.6 1360.4 744.0 1360.8 745.4 1361.1C746.8 1361.4 748.2 1361.8 749.6 1362.2C751.1 1362.5 752.5 1362.9 753.9 1363.3C755.3 1363.6 756.7 1364.0 758.2 1364.4C759.6 1364.8 761.0 1365.2 762.4 1365.6C763.8 1366.0 765.3 1366.5 766.7 1366.9C768.1 1367.3 769.5 1367.8 770.9 1368.2C772.3 1368.7 773.8 1369.1 775.2 1369.6C776.6 1370.0 778.0 1370.5 779.4 1371.0C780.9 1371.5 782.3 1372.0 783.7 1372.5C785.1 1373.0 786.5 1373.5 787.9 1374.1C789.4 1374.7 790.8 1375.2 792.2 1375.8C793.6 1376.5 795.0 1377.1 796.5 1377.8C797.9 1378.5 799.3 1379.2 800.7 1380.0C802.1 1380.8 803.5 1381.6 805.0 1382.4C806.4 1383.3 807.8 1384.2 809.2 1385.3C810.6 1386.4 812.1 1387.5 813.5 1388.8C814.9 1390.1 816.3 1391.6 817.7 1393.3C819.1 1394.9 820.6 1396.7 822.0 1398.7C823.4 1400.6 824.8 1402.7 826.2 1405.0C827.7 1407.2 829.1 1409.5 830.5 1412.3C831.9 1415.1 833.3 1418.3 834.7 1421.8C836.2 1425.3 837.6 1429.3 839.0 1433.3C840.4 1437.3 841.8 1441.4 843.3 1446.0C844.7 1450.6 846.8 1458.3 847.5 1460.8" stroke="#c0e000"/>
<path d="M209.3 1449.0C209.4 1438.6 209.7 1400.9 210.0 1386.9C210.2 1372.9 210.3 1371.5 210.6 1365.0C210.9 1358.4 211.4 1351.8 211.9 1347.6C212.5 1343.4 213.2 1341.8 213.9 1339.9C214.5 1337.9 215.0 1337.3 215.8 1335.9C216.7 1334.6 218.0 1333.0 219.1 1331.8C220.2 1330.6 220.7 1330.0 222.4 1328.8C224.0 1327.6 226.2 1326.1 228.9 1324.4C231.6 1322.8 235.5 1320.6 238.7 1319.0C242.0 1317.3 244.7 1316.2 248.5 1314.4C252.4 1312.7 257.3 1310.5 261.6 1308.5C266.0 1306.5 270.3 1304.4 274.7 1302.4C279.1 1300.4 281.2 1299.4 287.8 1296.6C294.3 1293.8 305.2 1289.3 313.9 1285.6C322.7 1282.0 331.4 1278.4 340.1 1274.6C348.8 1270.9 357.5 1266.6 366.3 1263.1C375.0 1259.6 383.7 1256.8 392.4 1253.9C401.1 1251.1 409.9 1248.5 418.6 1246.0C427.3 1243.6 436.0 1241.2 444.7 1239.1C453.5 1237.1 462.2 1235.2 470.9 1233.5C479.6 1231.7 488.3 1230.2 497.1 1228.6C505.8 1227.0 514.5 1225.5 523.2 1223.9C531.9 1222.3 540.7 1220.6 549.4 1218.9C558.1 1217.2 566.8 1215.4 575.5 1213.4C584.3 1211.5 593.0 1209.5 601.7 1207.3C610.4 1205.2 619.1 1202.8 627.9 1200.4C636.6 1198.0 645.3 1195.5 654.0 1192.9C662.7 1190.3 671.5 1187.6 680.2 1184.9C688.9 1182.2 697.6 1179.5 706.3 1176.9C715.1 1174.3 726.0 1171.3 732.5 1169.4C739.0 1167.6 742.7 1166.7 745.6 1165.9C748.5 1165.1 748.5 1165.1 749.9 1164.8C751.4 1164.4 752.8 1164.0 754.3 1163.6C755.8 1163.2 757.2 1162.8 758.7 1162.4C760.1 1162.1 761.6 1161.7 763.0 1161.3C764.5 1160.9 765.9 1160.6 767.4 1160.2C768.8 1159.8 770.3 1159.4 771.7 1159.1C773.2 1158.7 774.6 1158.3 776.1 1158.0C777.6 1157.6 779.0 1157.3 780.5 1156.9C781.9 1156.6 783.4 1156.2 784.8 1155.9C786.3 1155.5 787.7 1155.2 789.2 1154.8C790.6 1154.5 792.1 1154.2 793.5 1153.8C795.0 1153.5 796.4 1153.2 797.9 1152.8C799.4 1152.5 800.8 1152.2 802.3 1151.9C803.7 1151.6 805.2 1151.2 806.6 1150.9C808.1 1150.6 809.5 1150.3 811.0 1150.0C812.4 1149.7 813.9 1149.4 815.3 1149.1C816.8 1148.8 818.2 1148.5 819.7 1148.2C821.2 1147.9 822.6 1147.6 824.1 1147.3C825.5 1147.0 827.0 1146.7 828.4 1146.4C829.9 1146.1 831.3 1145.8 832.8 1145.5C834.2 1145.2 835.7 1144.9 837.1 1144.6C838.6 1144.3 840.0 1144.1 841.5 1143.8C843.0 1143.5 844.4 1143.2 845.9 1142.9C847.3 1142.6 848.8 1142.4 850.2 1142.1C851.7 1141.8 853.1 1141.5 854.6 1141.3C856.0 1141.0 857.5 1140.7 858.9 1140.5C860.4 1140.2 862.6 1139.8 863.3 1139.7" stroke="#f0c400"/>
<path d="M209.3 1150.4C209.4 1151.1 209.7 1153.3 209.9 1154.7C210.1 1156.0 210.2 1156.8 210.6 1158.7C210.9 1160.6 211.3 1163.3 211.8 1166.0C212.4 1168.6 213.1 1171.9 213.7 1174.7C214.4 1177.4 214.8 1179.5 215.6 1182.4C216.5 1185.3 217.7 1189.4 218.8 1192.1C219.9 1194.7 220.4 1195.6 222.0 1198.1C223.5 1200.6 225.7 1203.9 228.3 1206.9C230.9 1209.8 234.6 1213.3 237.8 1215.9C241.0 1218.5 243.6 1220.2 247.3 1222.4C251.0 1224.6 255.7 1227.1 260.0 1229.2C264.2 1231.4 268.4 1233.4 272.6 1235.3C276.8 1237.2 279.0 1238.2 285.3 1240.8C291.6 1243.3 302.2 1247.5 310.6 1250.6C319.1 1253.7 327.5 1256.6 335.9 1259.4C344.4 1262.2 352.8 1264.8 361.3 1267.3C369.7 1269.9 378.2 1272.2 386.6 1274.6C395.0 1277.0 403.5 1279.3 411.9 1281.7C420.4 1284.0 428.8 1286.3 437.3 1288.6C445.7 1290.9 454.1 1293.1 462.6 1295.4C471.0 1297.7 479.5 1300.0 487.9 1302.3C496.4 1304.6 504.8 1306.8 513.2 1309.1C521.7 1311.3 530.1 1313.5 538.6 1315.6C547.0 1317.8 555.5 1319.9 563.9 1321.9C572.3 1324.0 580.8 1326.1 589.2 1328.1C597.7 1330.1 606.1 1332.0 614.6 1333.9C623.0 1335.9 631.4 1337.7 639.9 1339.5C648.3 1341.3 656.8 1343.0 665.2 1344.7C673.7 1346.5 682.1 1348.2 690.5 1350.1C699.0 1351.9 709.5 1354.4 715.9 1355.9C722.2 1357.3 725.7 1358.1 728.5 1358.7C731.4 1359.4 731.4 1359.4 732.8 1359.7C734.2 1360.1 735.6 1360.4 737.0 1360.7C738.4 1361.1 739.8 1361.4 741.2 1361.8C742.6 1362.1 744.0 1362.5 745.4 1362.8C746.8 1363.2 748.2 1363.5 749.6 1363.9C751.1 1364.3 752.5 1364.7 753.9 1365.1C755.3 1365.5 756.7 1365.9 758.1 1366.3C759.5 1366.7 760.9 1367.1 762.3 1367.5C763.7 1368.0 765.1 1368.4 766.5 1368.9C767.9 1369.3 769.3 1369.8 770.8 1370.2C772.2 1370.7 773.6 1371.1 775.0 1371.6C776.4 1372.1 777.8 1372.6 779.2 1373.1C780.6 1373.6 782.0 1374.2 783.4 1374.7C784.8 1375.3 786.2 1375.9 787.6 1376.5C789.0 1377.1 790.5 1377.7 791.9 1378.4C793.3 1379.1 794.7 1379.8 796.1 1380.6C797.5 1381.4 798.9 1382.2 800.3 1383.0C801.7 1383.9 803.1 1384.8 804.5 1385.9C805.9 1386.9 807.3 1388.1 808.8 1389.4C810.2 1390.7 811.6 1392.2 813.0 1393.9C814.4 1395.5 815.8 1397.3 817.2 1399.3C818.6 1401.2 820.0 1403.3 821.4 1405.5C822.8 1407.8 824.2 1410.1 825.6 1412.8C827.0 1415.6 828.5 1418.8 829.9 1422.2C831.3 1425.7 832.7 1429.6 834.1 1433.6C835.5 1437.6 836.9 1441.7 838.3 1446.2C839.7 1450.7 841.8 1458.4 842.5 1460.8" stroke="#f0c400"/>
<path d="M209.3 1449.0C209.4 1438.7 209.7 1401.3 209.9 1387.4C210.2 1373.4 210.3 1371.9 210.6 1365.3C210.9 1358.8 211.3 1352.0 211.9 1347.8C212.4 1343.6 213.2 1342.0 213.8 1340.1C214.5 1338.1 214.9 1337.4 215.8 1336.1C216.6 1334.8 217.9 1333.2 219.0 1332.0C220.1 1330.9 220.6 1330.3 222.2 1329.1C223.8 1327.9 226.0 1326.4 228.7 1324.8C231.4 1323.2 235.1 1321.1 238.4 1319.5C241.6 1317.9 244.3 1316.8 248.0 1315.1C251.8 1313.4 256.7 1311.2 261.0 1309.3C265.3 1307.4 269.6 1305.3 273.9 1303.4C278.2 1301.4 280.3 1300.4 286.8 1297.7C293.2 1294.9 304.0 1290.5 312.6 1286.9C321.2 1283.2 329.8 1279.6 338.4 1275.8C347.0 1272.0 355.7 1267.7 364.3 1264.2C372.9 1260.6 381.5 1257.6 390.1 1254.6C398.7 1251.7 407.3 1249.0 415.9 1246.4C424.5 1243.9 433.1 1241.4 441.7 1239.3C450.4 1237.1 459.0 1235.3 467.6 1233.5C476.2 1231.7 484.8 1230.1 493.4 1228.5C502.0 1226.9 510.6 1225.5 519.2 1223.9C527.8 1222.3 536.4 1220.7 545.1 1219.0C553.7 1217.3 562.3 1215.5 570.9 1213.6C579.5 1211.8 588.1 1209.8 596.7 1207.6C605.3 1205.5 613.9 1203.2 622.5 1200.8C631.1 1198.4 639.8 1195.8 648.4 1193.2C657.0 1190.6 665.6 1187.9 674.2 1185.2C682.8 1182.5 691.4 1179.8 700.0 1177.2C708.6 1174.6 719.4 1171.5 725.8 1169.7C732.3 1167.8 735.9 1166.9 738.8 1166.2C741.6 1165.4 741.6 1165.4 743.1 1165.0C744.5 1164.6 745.9 1164.2 747.4 1163.8C748.8 1163.5 750.2 1163.1 751.7 1162.7C753.1 1162.3 754.5 1161.9 756.0 1161.6C757.4 1161.2 758.9 1160.8 760.3 1160.4C761.7 1160.1 763.2 1159.7 764.6 1159.3C766.0 1159.0 767.5 1158.6 768.9 1158.2C770.3 1157.9 771.8 1157.5 773.2 1157.2C774.6 1156.8 776.1 1156.4 777.5 1156.1C778.9 1155.8 780.4 1155.4 781.8 1155.1C783.2 1154.7 784.7 1154.4 786.1 1154.1C787.5 1153.7 789.0 1153.4 790.4 1153.1C791.9 1152.7 793.3 1152.4 794.7 1152.1C796.2 1151.8 797.6 1151.4 799.0 1151.1C800.5 1150.8 801.9 1150.5 803.3 1150.2C804.8 1149.9 806.2 1149.6 807.6 1149.2C809.1 1148.9 810.5 1148.6 811.9 1148.3C813.4 1148.0 814.8 1147.7 816.2 1147.4C817.7 1147.1 819.1 1146.8 820.6 1146.5C822.0 1146.2 823.4 1145.9 824.9 1145.6C826.3 1145.3 827.7 1145.0 829.2 1144.7C830.6 1144.4 832.0 1144.1 833.5 1143.9C834.9 1143.6 836.3 1143.3 837.8 1143.0C839.2 1142.7 840.6 1142.4 842.1 1142.1C843.5 1141.9 844.9 1141.6 846.4 1141.3C847.8 1141.0 849.2 1140.8 850.7 1140.5C852.1 1140.2 854.3 1139.8 855.0 1139.7" stroke="#ffa800"/>
<path d="M209.3 1150.5C209.4 1151.2 209.7 1153.4 209.9 1154.7C210.1 1156.1 210.2 1156.9 210.6 1158.8C210.9 1160.7 211.3 1163.4 211.8 1166.1C212.3 1168.8 213.1 1172.1 213.7 1174.8C214.3 1177.6 214.8 1179.7 215.6 1182.6C216.4 1185.5 217.7 1189.8 218.7 1192.4C219.8 1195.1 220.3 1196.0 221.9 1198.6C223.5 1201.1 225.6 1204.5 228.2 1207.5C230.8 1210.4 234.5 1213.9 237.6 1216.5C240.8 1219.1 243.4 1220.8 247.1 1223.0C250.8 1225.2 255.5 1227.7 259.7 1229.8C263.9 1231.9 268.1 1234.0 272.3 1235.9C276.5 1237.8 278.6 1238.8 284.9 1241.3C291.2 1243.9 301.7 1248.0 310.1 1251.1C318.5 1254.2 326.9 1257.1 335.3 1259.9C343.7 1262.7 352.1 1265.3 360.5 1267.9C368.9 1270.4 377.3 1272.8 385.7 1275.2C394.1 1277.6 402.5 1279.9 410.9 1282.2C419.3 1284.5 427.7 1286.8 436.1 1289.1C444.5 1291.3 452.9 1293.6 461.3 1295.9C469.7 1298.2 478.1 1300.5 486.5 1302.8C494.9 1305.0 503.3 1307.3 511.7 1309.5C520.0 1311.7 528.4 1313.9 536.8 1316.1C545.2 1318.2 553.6 1320.3 562.0 1322.4C570.4 1324.5 578.8 1326.5 587.2 1328.5C595.6 1330.5 604.0 1332.5 612.4 1334.4C620.8 1336.3 629.2 1338.2 637.6 1339.9C646.0 1341.7 654.4 1343.4 662.8 1345.2C671.2 1347.0 679.6 1348.7 688.0 1350.5C696.4 1352.4 706.9 1354.8 713.2 1356.3C719.5 1357.7 723.0 1358.5 725.8 1359.2C728.6 1359.8 728.6 1359.8 730.0 1360.2C731.4 1360.5 732.8 1360.8 734.2 1361.2C735.6 1361.5 737.0 1361.8 738.4 1362.2C739.8 1362.5 741.2 1362.9 742.6 1363.3C744.0 1363.6 745.4 1364.0 746.8 1364.4C748.2 1364.7 749.6 1365.1 751.0 1365.5C752.4 1365.9 753.8 1366.3 755.2 1366.7C756.6 1367.1 758.0 1367.6 759.4 1368.0C760.8 1368.4 762.2 1368.9 763.6 1369.3C765.0 1369.7 766.4 1370.2 767.8 1370.6C769.2 1371.1 770.6 1371.6 772.0 1372.1C773.4 1372.5 774.8 1373.0 776.2 1373.5C777.6 1374.0 779.0 1374.6 780.4 1375.1C781.8 1375.7 783.2 1376.3 784.6 1376.9C786.0 1377.5 787.4 1378.1 788.8 1378.8C790.2 1379.5 791.6 1380.2 793.0 1381.0C794.4 1381.8 795.8 1382.5 797.2 1383.4C798.6 1384.3 800.0 1385.2 801.4 1386.3C802.8 1387.3 804.2 1388.5 805.6 1389.8C807.0 1391.1 808.4 1392.6 809.8 1394.3C811.2 1395.9 812.6 1397.7 814.0 1399.7C815.4 1401.6 816.8 1403.6 818.2 1405.9C819.6 1408.1 821.0 1410.4 822.4 1413.2C823.8 1416.0 825.2 1419.1 826.6 1422.5C828.0 1426.0 829.4 1429.9 830.8 1433.8C832.2 1437.8 833.6 1441.8 835.0 1446.3C836.4 1450.8 838.5 1458.4 839.2 1460.8" stroke="#ffa800"/>
<path d="M209.3 1449.0C209.4 1438.8 209.7 1402.0 209.9 1388.2C210.1 1374.4 210.2 1372.6 210.6 1366.0C210.9 1359.3 211.3 1352.4 211.8 1348.1C212.4 1343.9 213.1 1342.3 213.7 1340.4C214.4 1338.4 214.8 1337.7 215.6 1336.4C216.5 1335.1 217.7 1333.6 218.8 1332.4C219.8 1331.3 220.4 1330.7 221.9 1329.6C223.5 1328.4 225.6 1327.0 228.3 1325.5C230.9 1323.9 234.6 1321.9 237.8 1320.3C240.9 1318.8 243.6 1317.7 247.2 1316.1C250.9 1314.5 255.7 1312.5 259.9 1310.6C264.1 1308.7 268.3 1306.8 272.5 1304.9C276.8 1303.1 278.9 1302.1 285.2 1299.4C291.5 1296.7 302.1 1292.4 310.5 1288.8C318.9 1285.2 327.3 1281.5 335.8 1277.7C344.2 1273.9 352.6 1269.5 361.1 1265.9C369.5 1262.2 377.9 1258.9 386.4 1255.8C394.8 1252.6 403.2 1249.8 411.7 1247.0C420.1 1244.3 428.5 1241.8 437.0 1239.5C445.4 1237.2 453.8 1235.3 462.3 1233.5C470.7 1231.6 479.1 1230.1 487.6 1228.4C496.0 1226.8 504.4 1225.4 512.8 1223.8C521.3 1222.3 529.7 1220.8 538.1 1219.1C546.6 1217.5 555.0 1215.8 563.4 1214.0C571.9 1212.2 580.3 1210.3 588.7 1208.2C597.2 1206.1 605.6 1203.8 614.0 1201.4C622.5 1199.0 630.9 1196.4 639.3 1193.7C647.8 1191.1 656.2 1188.3 664.6 1185.6C673.1 1182.9 681.5 1180.2 689.9 1177.6C698.3 1175.0 708.9 1171.9 715.2 1170.0C721.5 1168.2 725.0 1167.3 727.9 1166.5C730.7 1165.8 730.7 1165.8 732.1 1165.4C733.5 1165.0 734.9 1164.6 736.3 1164.2C737.7 1163.8 739.1 1163.5 740.5 1163.1C741.9 1162.7 743.3 1162.3 744.7 1161.9C746.1 1161.6 747.5 1161.2 748.9 1160.8C750.3 1160.5 751.8 1160.1 753.2 1159.7C754.6 1159.4 756.0 1159.0 757.4 1158.6C758.8 1158.3 760.2 1157.9 761.6 1157.5C763.0 1157.2 764.4 1156.8 765.8 1156.5C767.2 1156.1 768.6 1155.8 770.0 1155.4C771.4 1155.1 772.8 1154.8 774.2 1154.4C775.6 1154.1 777.0 1153.7 778.5 1153.4C779.9 1153.1 781.3 1152.7 782.7 1152.4C784.1 1152.1 785.5 1151.8 786.9 1151.4C788.3 1151.1 789.7 1150.8 791.1 1150.5C792.5 1150.1 793.9 1149.8 795.3 1149.5C796.7 1149.2 798.1 1148.9 799.5 1148.6C800.9 1148.3 802.3 1147.9 803.7 1147.6C805.2 1147.3 806.6 1147.0 808.0 1146.7C809.4 1146.4 810.8 1146.1 812.2 1145.8C813.6 1145.5 815.0 1145.2 816.4 1144.9C817.8 1144.6 819.2 1144.3 820.6 1144.0C822.0 1143.7 823.4 1143.4 824.8 1143.1C826.2 1142.8 827.6 1142.5 829.0 1142.2C830.4 1141.9 831.9 1141.6 833.3 1141.4C834.7 1141.1 836.1 1140.8 837.5 1140.5C838.9 1140.2 841.0 1139.8 841.7 1139.7" stroke="#ff8000"/>
<path d="M209.3 1151.0C209.4 1151.7 209.7 1153.8 209.9 1155.2C210.1 1156.6 210.2 1157.4 210.5 1159.3C210.8 1161.2 211.2 1163.9 211.8 1166.6C212.3 1169.4 213.0 1172.8 213.6 1175.6C214.2 1178.5 214.6 1180.7 215.4 1183.8C216.3 1186.8 217.5 1191.4 218.5 1194.2C219.5 1197.0 220.0 1198.0 221.6 1200.7C223.1 1203.3 225.2 1207.0 227.7 1210.1C230.3 1213.3 233.9 1216.8 236.9 1219.4C240.0 1222.0 242.6 1223.7 246.1 1225.9C249.7 1228.1 254.3 1230.5 258.4 1232.6C262.5 1234.7 266.6 1236.8 270.7 1238.7C274.8 1240.6 276.9 1241.6 283.0 1244.1C289.1 1246.6 299.4 1250.7 307.6 1253.8C315.7 1256.8 323.9 1259.7 332.1 1262.5C340.3 1265.3 348.5 1267.9 356.7 1270.4C364.9 1272.9 373.1 1275.3 381.3 1277.7C389.4 1280.1 397.6 1282.3 405.8 1284.6C414.0 1286.9 422.2 1289.2 430.4 1291.4C438.6 1293.7 446.8 1295.9 454.9 1298.2C463.1 1300.4 471.3 1302.7 479.5 1304.9C487.7 1307.2 495.9 1309.5 504.1 1311.7C512.3 1313.9 520.4 1316.1 528.6 1318.2C536.8 1320.4 545.0 1322.5 553.2 1324.6C561.4 1326.7 569.6 1328.7 577.8 1330.7C586.0 1332.7 594.1 1334.7 602.3 1336.6C610.5 1338.5 618.7 1340.3 626.9 1342.1C635.1 1343.9 643.3 1345.6 651.5 1347.3C659.6 1349.1 667.8 1350.8 676.0 1352.6C684.2 1354.5 694.4 1356.9 700.6 1358.4C706.7 1359.8 710.1 1360.6 712.9 1361.3C715.6 1361.9 715.6 1361.9 717.0 1362.2C718.3 1362.6 719.7 1362.9 721.1 1363.2C722.4 1363.6 723.8 1363.9 725.2 1364.3C726.5 1364.6 727.9 1365.0 729.2 1365.3C730.6 1365.7 732.0 1366.1 733.3 1366.4C734.7 1366.8 736.1 1367.2 737.4 1367.6C738.8 1368.0 740.2 1368.4 741.5 1368.8C742.9 1369.2 744.3 1369.6 745.6 1370.1C747.0 1370.5 748.4 1370.9 749.7 1371.4C751.1 1371.8 752.4 1372.2 753.8 1372.7C755.2 1373.1 756.5 1373.6 757.9 1374.1C759.3 1374.6 760.6 1375.0 762.0 1375.5C763.4 1376.0 764.7 1376.6 766.1 1377.1C767.5 1377.7 768.8 1378.2 770.2 1378.8C771.6 1379.4 772.9 1380.1 774.3 1380.7C775.6 1381.4 777.0 1382.1 778.4 1382.9C779.7 1383.6 781.1 1384.4 782.5 1385.3C783.8 1386.2 785.2 1387.1 786.6 1388.1C787.9 1389.2 789.3 1390.3 790.7 1391.7C792.0 1393.0 793.4 1394.5 794.8 1396.2C796.1 1397.8 797.5 1399.6 798.8 1401.5C800.2 1403.4 801.6 1405.4 802.9 1407.6C804.3 1409.8 805.7 1412.1 807.0 1414.8C808.4 1417.6 809.8 1420.6 811.1 1424.0C812.5 1427.3 813.9 1431.0 815.2 1434.9C816.6 1438.7 818.0 1442.6 819.3 1446.9C820.7 1451.2 822.7 1458.5 823.4 1460.8" stroke="#ff8000"/>
<path d="M209.3 1449.0C209.4 1439.0 209.7 1403.2 209.9 1389.5C210.1 1375.8 210.2 1373.7 210.5 1366.9C210.8 1360.1 211.2 1352.9 211.7 1348.6C212.3 1344.2 213.0 1342.8 213.6 1340.8C214.2 1338.9 214.6 1338.2 215.4 1336.9C216.2 1335.6 217.5 1334.2 218.5 1333.1C219.5 1332.0 220.0 1331.4 221.5 1330.3C223.1 1329.2 225.1 1327.9 227.7 1326.4C230.2 1325.0 233.8 1323.1 236.9 1321.6C239.9 1320.1 242.5 1319.1 246.0 1317.6C249.6 1316.1 254.2 1314.3 258.3 1312.5C262.4 1310.8 266.5 1309.0 270.5 1307.2C274.6 1305.5 276.7 1304.6 282.8 1302.0C288.9 1299.4 299.1 1295.3 307.3 1291.7C315.5 1288.1 323.6 1284.3 331.8 1280.5C340.0 1276.6 348.1 1272.3 356.3 1268.4C364.5 1264.6 372.6 1260.9 380.8 1257.5C389.0 1254.1 397.1 1250.9 405.3 1248.0C413.4 1245.0 421.6 1242.3 429.8 1239.8C437.9 1237.4 446.1 1235.4 454.3 1233.4C462.4 1231.5 470.6 1229.9 478.8 1228.3C486.9 1226.7 495.1 1225.3 503.3 1223.8C511.4 1222.3 519.6 1220.9 527.8 1219.3C535.9 1217.8 544.1 1216.2 552.3 1214.5C560.4 1212.8 568.6 1211.0 576.8 1208.9C584.9 1206.9 593.1 1204.6 601.3 1202.2C609.4 1199.8 617.6 1197.2 625.8 1194.5C633.9 1191.9 642.1 1189.1 650.3 1186.3C658.4 1183.6 666.6 1180.8 674.8 1178.2C682.9 1175.5 693.1 1172.4 699.3 1170.6C705.4 1168.7 708.8 1167.9 711.5 1167.1C714.2 1166.3 714.2 1166.3 715.6 1165.9C717.0 1165.6 718.3 1165.2 719.7 1164.8C721.0 1164.4 722.4 1164.0 723.8 1163.7C725.1 1163.3 726.5 1162.9 727.8 1162.5C729.2 1162.2 730.6 1161.8 731.9 1161.4C733.3 1161.0 734.6 1160.7 736.0 1160.3C737.4 1159.9 738.7 1159.6 740.1 1159.2C741.4 1158.9 742.8 1158.5 744.2 1158.1C745.5 1157.8 746.9 1157.4 748.3 1157.1C749.6 1156.7 751.0 1156.4 752.3 1156.0C753.7 1155.7 755.1 1155.3 756.4 1155.0C757.8 1154.6 759.1 1154.3 760.5 1153.9C761.9 1153.6 763.2 1153.2 764.6 1152.9C765.9 1152.6 767.3 1152.2 768.7 1151.9C770.0 1151.6 771.4 1151.2 772.8 1150.9C774.1 1150.6 775.5 1150.2 776.8 1149.9C778.2 1149.6 779.6 1149.3 780.9 1148.9C782.3 1148.6 783.6 1148.3 785.0 1148.0C786.4 1147.6 787.7 1147.3 789.1 1147.0C790.4 1146.7 791.8 1146.4 793.2 1146.1C794.5 1145.7 795.9 1145.4 797.2 1145.1C798.6 1144.8 800.0 1144.5 801.3 1144.2C802.7 1143.9 804.1 1143.6 805.4 1143.3C806.8 1143.0 808.1 1142.6 809.5 1142.3C810.9 1142.0 812.2 1141.7 813.6 1141.4C814.9 1141.1 816.3 1140.8 817.7 1140.5C819.0 1140.3 821.1 1139.8 821.7 1139.7" stroke="#ff5000"/>
<path d="M209.3 1151.6C209.4 1152.3 209.7 1154.5 209.9 1155.9C210.1 1157.3 210.2 1158.0 210.5 1160.0C210.8 1161.9 211.2 1164.6 211.7 1167.4C212.2 1170.3 212.8 1173.8 213.4 1176.8C214.0 1179.8 214.4 1182.1 215.2 1185.4C216.0 1188.8 217.2 1193.7 218.2 1196.8C219.1 1199.8 219.6 1200.9 221.1 1203.8C222.6 1206.7 224.6 1210.8 227.0 1214.1C229.5 1217.4 232.9 1221.0 235.9 1223.7C238.8 1226.4 241.3 1228.0 244.8 1230.2C248.2 1232.4 252.6 1234.7 256.6 1236.8C260.5 1238.9 264.4 1240.9 268.4 1242.8C272.3 1244.7 274.3 1245.7 280.2 1248.1C286.1 1250.6 296.0 1254.6 303.8 1257.7C311.7 1260.7 319.6 1263.6 327.5 1266.3C335.3 1269.1 343.2 1271.6 351.1 1274.2C359.0 1276.7 366.9 1279.1 374.7 1281.4C382.6 1283.8 390.5 1286.0 398.4 1288.3C406.2 1290.5 414.1 1292.7 422.0 1294.9C429.9 1297.1 437.8 1299.3 445.6 1301.5C453.5 1303.7 461.4 1305.9 469.3 1308.2C477.1 1310.4 485.0 1312.6 492.9 1314.8C500.8 1317.1 508.7 1319.3 516.5 1321.4C524.4 1323.6 532.3 1325.7 540.2 1327.8C548.0 1329.9 555.9 1332.0 563.8 1334.0C571.7 1336.0 579.6 1338.0 587.4 1339.9C595.3 1341.8 603.2 1343.6 611.1 1345.3C618.9 1347.1 626.8 1348.8 634.7 1350.5C642.6 1352.2 650.5 1353.9 658.3 1355.8C666.2 1357.6 676.1 1360.0 682.0 1361.4C687.9 1362.9 691.2 1363.7 693.8 1364.3C696.4 1364.9 696.4 1365.0 697.7 1365.3C699.0 1365.6 700.4 1366.0 701.7 1366.3C703.0 1366.6 704.3 1367.0 705.6 1367.3C706.9 1367.7 708.2 1368.0 709.5 1368.4C710.9 1368.7 712.2 1369.1 713.5 1369.5C714.8 1369.9 716.1 1370.3 717.4 1370.6C718.7 1371.0 720.0 1371.4 721.4 1371.9C722.7 1372.3 724.0 1372.7 725.3 1373.1C726.6 1373.5 727.9 1374.0 729.2 1374.4C730.6 1374.8 731.9 1375.3 733.2 1375.7C734.5 1376.2 735.8 1376.6 737.1 1377.1C738.4 1377.5 739.7 1378.0 741.1 1378.5C742.4 1379.0 743.7 1379.5 745.0 1380.0C746.3 1380.6 747.6 1381.1 748.9 1381.7C750.2 1382.3 751.6 1382.9 752.9 1383.6C754.2 1384.2 755.5 1384.9 756.8 1385.7C758.1 1386.4 759.4 1387.2 760.8 1388.0C762.1 1388.9 763.4 1389.8 764.7 1390.8C766.0 1391.9 767.3 1393.1 768.6 1394.5C769.9 1395.8 771.3 1397.3 772.6 1398.9C773.9 1400.6 775.2 1402.4 776.5 1404.2C777.8 1406.1 779.1 1408.0 780.4 1410.2C781.8 1412.4 783.1 1414.6 784.4 1417.2C785.7 1419.9 787.0 1422.9 788.3 1426.1C789.6 1429.3 791.0 1432.7 792.3 1436.3C793.6 1440.0 794.9 1443.6 796.2 1447.7C797.5 1451.8 799.5 1458.6 800.1 1460.8" stroke="#ff5000"/>
<path d="M209.3 1449.0C209.4 1439.3 209.7 1404.7 209.9 1391.2C210.1 1377.8 210.2 1375.2 210.5 1368.2C210.8 1361.2 211.1 1353.7 211.6 1349.2C212.1 1344.8 212.8 1343.4 213.4 1341.5C214.0 1339.5 214.4 1338.8 215.1 1337.5C215.9 1336.3 217.1 1335.0 218.1 1333.9C219.0 1332.9 219.5 1332.3 221.0 1331.3C222.4 1330.3 224.4 1329.1 226.8 1327.8C229.3 1326.5 232.7 1324.7 235.6 1323.4C238.5 1322.1 240.9 1321.1 244.4 1319.8C247.8 1318.4 252.1 1316.9 256.0 1315.3C259.9 1313.8 263.8 1312.1 267.7 1310.5C271.6 1308.9 273.6 1308.2 279.4 1305.7C285.2 1303.3 295.0 1299.4 302.8 1295.8C310.6 1292.3 318.3 1288.4 326.1 1284.4C333.9 1280.5 341.7 1276.2 349.5 1272.1C357.3 1268.0 365.1 1263.7 372.9 1259.9C380.7 1256.1 388.5 1252.6 396.2 1249.3C404.0 1246.0 411.8 1242.9 419.6 1240.3C427.4 1237.7 435.2 1235.4 443.0 1233.4C450.8 1231.4 458.6 1229.7 466.3 1228.1C474.1 1226.5 481.9 1225.2 489.7 1223.7C497.5 1222.3 505.3 1221.0 513.1 1219.6C520.9 1218.2 528.7 1216.9 536.4 1215.3C544.2 1213.7 552.0 1212.0 559.8 1210.0C567.6 1208.1 575.4 1205.8 583.2 1203.4C591.0 1201.1 598.8 1198.4 606.6 1195.7C614.3 1193.0 622.1 1190.1 629.9 1187.3C637.7 1184.6 645.5 1181.7 653.3 1179.0C661.1 1176.4 670.8 1173.2 676.7 1171.4C682.5 1169.5 685.7 1168.7 688.3 1167.9C690.9 1167.1 690.9 1167.1 692.2 1166.8C693.5 1166.4 694.8 1166.0 696.1 1165.6C697.4 1165.2 698.7 1164.9 700.0 1164.5C701.3 1164.1 702.6 1163.8 703.9 1163.4C705.2 1163.0 706.5 1162.6 707.8 1162.3C709.1 1161.9 710.4 1161.5 711.7 1161.2C713.0 1160.8 714.3 1160.4 715.6 1160.1C716.9 1159.7 718.2 1159.3 719.5 1159.0C720.8 1158.6 722.1 1158.2 723.4 1157.9C724.7 1157.5 726.0 1157.2 727.3 1156.8C728.6 1156.4 729.9 1156.1 731.2 1155.7C732.5 1155.4 733.8 1155.0 735.1 1154.7C736.4 1154.3 737.7 1154.0 739.0 1153.6C740.3 1153.3 741.6 1152.9 742.9 1152.6C744.2 1152.2 745.5 1151.9 746.8 1151.5C748.1 1151.2 749.4 1150.8 750.7 1150.5C752.0 1150.1 753.2 1149.8 754.5 1149.5C755.8 1149.1 757.1 1148.8 758.4 1148.4C759.7 1148.1 761.0 1147.8 762.3 1147.4C763.6 1147.1 764.9 1146.8 766.2 1146.4C767.5 1146.1 768.8 1145.8 770.1 1145.4C771.4 1145.1 772.7 1144.8 774.0 1144.5C775.3 1144.1 776.6 1143.8 777.9 1143.5C779.2 1143.2 780.5 1142.8 781.8 1142.5C783.1 1142.2 784.4 1141.9 785.7 1141.6C787.0 1141.2 788.3 1140.9 789.6 1140.6C790.9 1140.3 792.8 1139.8 793.5 1139.7" stroke="#ff1a00"/>
<path d="M209.3 1152.7C209.4 1153.4 209.7 1155.5 209.9 1156.9C210.0 1158.3 210.1 1159.1 210.4 1161.1C210.7 1163.1 211.1 1165.8 211.5 1168.7C212.0 1171.7 212.6 1175.5 213.2 1178.8C213.7 1182.0 214.1 1184.5 214.8 1188.2C215.6 1191.9 216.7 1197.5 217.6 1200.9C218.5 1204.4 219.0 1205.6 220.4 1208.9C221.8 1212.2 223.6 1216.9 225.9 1220.5C228.2 1224.1 231.4 1227.9 234.2 1230.6C237.0 1233.4 239.3 1235.0 242.5 1237.1C245.7 1239.2 249.9 1241.4 253.6 1243.4C257.3 1245.5 261.0 1247.5 264.6 1249.3C268.3 1251.2 270.2 1252.2 275.7 1254.6C281.2 1257.1 290.5 1260.9 297.9 1263.9C305.2 1266.9 312.6 1269.7 320.0 1272.4C327.4 1275.1 334.7 1277.7 342.1 1280.2C349.5 1282.7 356.9 1285.1 364.3 1287.4C371.6 1289.7 379.0 1291.9 386.4 1294.1C393.8 1296.3 401.2 1298.4 408.5 1300.5C415.9 1302.6 423.3 1304.7 430.7 1306.8C438.1 1309.0 445.4 1311.1 452.8 1313.3C460.2 1315.5 467.6 1317.7 475.0 1319.9C482.3 1322.1 489.7 1324.4 497.1 1326.5C504.5 1328.7 511.9 1330.9 519.2 1333.0C526.6 1335.1 534.0 1337.2 541.4 1339.3C548.7 1341.3 556.1 1343.3 563.5 1345.1C570.9 1347.0 578.3 1348.8 585.6 1350.5C593.0 1352.3 600.4 1353.9 607.8 1355.6C615.2 1357.3 622.5 1359.0 629.9 1360.7C637.3 1362.5 646.5 1364.9 652.1 1366.4C657.6 1367.8 660.7 1368.6 663.1 1369.2C665.6 1369.8 665.6 1369.9 666.8 1370.2C668.0 1370.5 669.3 1370.9 670.5 1371.2C671.7 1371.5 673.0 1371.9 674.2 1372.2C675.4 1372.6 676.7 1372.9 677.9 1373.3C679.1 1373.7 680.3 1374.0 681.6 1374.4C682.8 1374.8 684.0 1375.2 685.3 1375.6C686.5 1376.0 687.7 1376.4 689.0 1376.8C690.2 1377.2 691.4 1377.6 692.6 1378.0C693.9 1378.5 695.1 1378.9 696.3 1379.3C697.6 1379.7 698.8 1380.1 700.0 1380.6C701.3 1381.0 702.5 1381.4 703.7 1381.9C704.9 1382.3 706.2 1382.8 707.4 1383.2C708.6 1383.7 709.9 1384.2 711.1 1384.7C712.3 1385.2 713.6 1385.8 714.8 1386.3C716.0 1386.9 717.2 1387.5 718.5 1388.2C719.7 1388.8 720.9 1389.5 722.2 1390.2C723.4 1390.9 724.6 1391.6 725.8 1392.5C727.1 1393.3 728.3 1394.2 729.5 1395.2C730.8 1396.3 732.0 1397.5 733.2 1398.9C734.5 1400.3 735.7 1401.8 736.9 1403.4C738.1 1405.0 739.4 1406.8 740.6 1408.6C741.8 1410.4 743.1 1412.2 744.3 1414.3C745.5 1416.4 746.8 1418.6 748.0 1421.1C749.2 1423.7 750.4 1426.5 751.7 1429.5C752.9 1432.4 754.1 1435.5 755.4 1438.8C756.6 1442.0 757.8 1445.4 759.1 1449.0C760.3 1452.7 762.1 1458.8 762.7 1460.8" stroke="#ff1a00"/>
</g>
<defs><clipPath id="cph"><rect x="105" y="85" width="2230" height="1250"/></clipPath><linearGradient id="cbg" x1="0" x2="1"><stop offset="0" stop-color="#141414"/><stop offset="0.2" stop-color="#1d1d1d"/><stop offset="0.72" stop-color="#262626"/><stop offset="0.85" stop-color="#303030"/><stop offset="1" stop-color="#262626"/></linearGradient><linearGradient id="cpl" x1="0" x2="0" y1="0" y2="1"><stop offset="0" stop-color="#a3a7a5"/><stop offset="1" stop-color="#b7bbb9"/></linearGradient><linearGradient id="cpp" x1="0" x2="0" y1="0" y2="1"><stop offset="0" stop-color="#c9cccb"/><stop offset="0.5" stop-color="#dcdfde"/><stop offset="1" stop-color="#d2d5d4"/></linearGradient><filter id="cbl" x="-5%" y="-5%" width="110%" height="110%"><feGaussianBlur stdDeviation="5"/></filter></defs><g transform="translate(200 1430) scale(0.16267)"><g clip-path="url(#cph)"><rect x="105" y="85" width="2230" height="1250" fill="url(#cbg)"/><g filter="url(#cbl)"><path d="M2335 100L2200 150L2080 430L2110 540L2335 660Z" fill="#0d0d0d"/><path d="M1800 85L1950 85L2130 1335L1960 1335Z" fill="#202020"/><path d="M600 100L1730 92Q1770 92 1780 130L1918 760Q1925 800 1880 812L470 835Q420 835 425 790L548 140Q556 102 600 100Z" fill="url(#cpl)" stroke="#d5d8d7" stroke-width="10"/><path d="M665 88L1640 88L1800 785L555 810Z" fill="url(#cpp)"/><path d="M428 800L1915 775L1918 815Q1915 835 1880 838L470 862Q430 860 428 830Z" fill="#c4c8c6"/><path d="M445 858L1895 835L1915 1335L432 1335Z" fill="#e3e5e4"/><path d="M445 930L1888 935L1892 1300L455 1300Z" fill="#d0d2d1" stroke="#f1f2f2" stroke-width="8"/><rect x="660" y="1030" width="600" height="140" fill="#7b837b"/><rect x="660" y="1030" width="190" height="140" fill="#8b918a"/><text x="1052" y="1150" font-size="170" font-weight="bold" font-style="italic" text-anchor="middle" fill="#19e873" font-family="Liberation Mono, monospace" textLength="380" lengthAdjust="spacingAndGlyphs">5068</text><rect x="715" y="1145" width="100" height="22" fill="#19e873"/><circle cx="1245" cy="1150" r="14" fill="#19e873"/><circle cx="1012" cy="1140" r="9" fill="#19e873"/><circle cx="1413" cy="1120" r="58" fill="#2a8fd2"/><circle cx="1625" cy="1120" r="58" fill="#2a8fd2"/><circle cx="1413" cy="1120" r="30" fill="#4aa5de"/><circle cx="1625" cy="1120" r="30" fill="#4aa5de"/><circle cx="1515" cy="1272" r="50" fill="#b4c045"/><circle cx="1515" cy="1272" r="25" fill="#c9d160"/><rect x="718" y="1240" width="495" height="30" fill="#a9abaa" opacity="0.75"/><rect x="875" y="985" width="170" height="18" fill="#9a9c9b" opacity="0.7"/><path d="M1560 1000Q1650 950 1760 975Q1740 1020 1720 1030L1620 1030Q1660 985 1560 1000Z" fill="#3a3c3b"/><path d="M935 362L1505 360L1542 588L840 605L870 380Z" fill="#eceeed" stroke="#b9bcbb" stroke-width="6"/><path d="M870 380L935 362L930 580L840 605Z" fill="#c9cccb"/><path d="M840 605L1542 588L1545 610L842 625Z" fill="#b4b7b6"/><circle cx="1125" cy="465" r="135" fill="#b9b3e0" stroke="#6f62bd" stroke-width="14" stroke-dasharray="20 8"/><circle cx="1125" cy="465" r="80" fill="none" stroke="#7a6fc4" stroke-width="18" stroke-dasharray="14 10"/><circle cx="1125" cy="465" r="22" fill="#5146a8"/><path d="M1310 385l60 10l-40 30l55 10M1320 450l55 5l-35 30l50 12M1300 515l70 8l-30 25l45 8" stroke="#55566a" stroke-width="9" fill="none"/><path d="M1420 380L1440 545" stroke="#8b8d94" stroke-width="6"/><rect x="718" y="420" width="145" height="50" fill="#6d6f6e"/><rect x="718" y="520" width="135" height="42" fill="#e4e6e5"/></g></g></g>
<path d="M201.6 1104.3V1674.2H1124" stroke="#4d4d4d" stroke-width="2.2" fill="none"/>
<path d="M201.6 1579.3h-11M201.6 1460.8h-11M201.6 1342.3h-11M201.6 1223.8h-11M201.6 1105.3h-11M201.6 1638.5h-6M201.6 1520.0h-6M201.6 1401.5h-6M201.6 1283.0h-6M201.6 1164.5h-6M209.3 1674.2v11M375.5 1674.2v11M541.7 1674.2v11M707.9 1674.2v11M874.1 1674.2v11M1040.3 1674.2v11M292.4 1674.2v6M458.6 1674.2v6M624.8 1674.2v6M791.0 1674.2v6M957.2 1674.2v6M1123.4 1674.2v6" stroke="#4d4d4d" stroke-width="2.2" fill="none"/>
<text transform="translate(171.0 1591.3) scale(1.030 1)" font-size="34.0" text-anchor="end" >1</text>
<text transform="translate(171.0 1472.8) scale(1.030 1)" font-size="34.0" text-anchor="end" >2</text>
<text transform="translate(171.0 1354.3) scale(1.030 1)" font-size="34.0" text-anchor="end" >3</text>
<text transform="translate(171.0 1235.8) scale(1.030 1)" font-size="34.0" text-anchor="end" >4</text>
<text transform="translate(171.0 1117.3) scale(1.030 1)" font-size="34.0" text-anchor="end" >5</text>
<text transform="translate(209.3 1730.0) scale(1.030 1)" font-size="34.0" text-anchor="middle" >0</text>
<text transform="translate(375.5 1730.0) scale(1.030 1)" font-size="34.0" text-anchor="middle" >2</text>
<text transform="translate(541.7 1730.0) scale(1.030 1)" font-size="34.0" text-anchor="middle" >4</text>
<text transform="translate(707.9 1730.0) scale(1.030 1)" font-size="34.0" text-anchor="middle" >6</text>
<text transform="translate(874.1 1730.0) scale(1.030 1)" font-size="34.0" text-anchor="middle" >8</text>
<text transform="translate(1040.3 1730.0) scale(1.030 1)" font-size="34.0" text-anchor="middle" >10</text>
<text transform="translate(662.0 1796.0) scale(1.056 1)" font-size="33.5" text-anchor="middle" >Capacity (Ah)</text>
<text transform="translate(121.0 1388.0) rotate(-90) scale(1.030 1)" font-size="33.5" text-anchor="middle" >Voltage (V)</text>
<text transform="translate(834.0 1313.6) scale(1.030 1)" font-size="35.5" text-anchor="start" >604 Wh kg<tspan font-size="22.0" dy="-15.0">−1</tspan><tspan dy="15.0"></tspan></text>
<text transform="translate(588.0 1642.0) scale(1.092 1)" font-size="33.5" text-anchor="start" >9 Ah anode-free pouch cell</text>
<text transform="translate(774.0 1511.0) scale(1.030 1)" font-size="33.5" text-anchor="start" >15th</text>
<text transform="translate(947.0 1511.0) scale(1.030 1)" font-size="33.5" text-anchor="end" >1st</text>
<path d="M888 1503H854M862 1495.5L854 1503L862 1510.5" stroke="#111" stroke-width="2.2" fill="none"/>
</g>
<g font-family="Liberation Sans, sans-serif" fill="#000">
<text x="1169" y="1031" font-size="47" font-weight="bold" stroke="#000" stroke-width="3" stroke-linejoin="round" paint-order="stroke">d</text>
<path d="M1413.5 1564.8L1395.1 1071.9M1462.0 1546.4L1446.7 1063.3M1508.5 1528.8L1496.2 1055.1M1553.2 1511.9L1543.6 1047.3M1596.1 1495.7L1589.0 1039.8M1637.3 1480.0L1632.5 1032.6M1677.0 1465.0L1674.4 1025.7M1385.3 1521.3L1714.4 1404.3M1382.1 1441.0L1714.3 1334.4M1378.7 1359.2L1714.2 1263.3M1375.4 1275.8L1714.1 1191.1M1371.9 1190.8L1713.9 1117.6M1368.4 1104.1L1713.8 1043.0M1741.6 1458.4L1742.2 1022.8M1803.9 1475.9L1807.9 1031.1M1869.1 1494.1L1876.6 1039.8M1937.3 1513.2L1948.7 1048.9M2008.7 1533.2L2024.4 1058.4M1714.4 1404.3L2091.6 1503.7M1714.3 1334.4L2095.0 1425.2M1714.2 1263.3L2098.4 1345.3M1714.1 1191.1L2101.9 1263.8M1713.9 1117.6L2105.4 1180.8M1713.8 1043.0L2109.0 1096.2M1415.3 1584.8L1741.6 1458.4M1479.7 1608.5L1803.9 1475.9M1547.6 1633.4L1869.1 1494.1M1619.1 1659.6L1937.3 1513.2M1694.6 1687.3L2008.7 1533.2M1413.5 1564.8L1805.8 1705.7M1462.0 1546.4L1852.2 1681.1M1508.5 1528.8L1896.5 1657.7M1553.2 1511.9L1938.8 1635.4M1596.1 1495.7L1979.1 1614.1M1637.3 1480.0L2017.7 1593.7M1677.0 1465.0L2054.7 1574.2" stroke="#1a1a1a" stroke-width="1.15" stroke-dasharray="5 3.3" fill="none"/>
<path d="M1461.1 1461.6L1464.8 1580.5M1461.1 1461.6L1412.8 1446.5M1461.1 1461.6L1761.3 1359.1" stroke="#5a2a6a" stroke-width="1.3" stroke-dasharray="1.6 2.4" fill="none"/><path d="M1515.1 1496.5L1517.6 1596.0M1515.1 1496.5L1418.0 1465.5M1515.1 1496.5L1808.6 1389.3" stroke="#b040ee" stroke-width="1.3" stroke-dasharray="1.6 2.4" fill="none"/><path d="M1651.7 1594.3L1652.2 1647.0M1651.7 1594.3L1416.0 1514.5M1651.7 1594.3L1941.5 1468.0" stroke="#23238a" stroke-width="1.3" stroke-dasharray="1.6 2.4" fill="none"/><path d="M1796.9 1342.1L1795.0 1580.5M1796.9 1342.1L1560.6 1286.7M1796.9 1342.1L1945.1 1291.9" stroke="#5aa832" stroke-width="1.3" stroke-dasharray="1.6 2.4" fill="none"/><path d="M1860.4 1387.8L1857.0 1610.3M1860.4 1387.8L1547.6 1311.2M1860.4 1387.8L2018.7 1328.5" stroke="#3a6ae8" stroke-width="1.3" stroke-dasharray="1.6 2.4" fill="none"/><path d="M1817.6 1477.6L1816.2 1611.6M1817.6 1477.6L1530.4 1397.4M1817.6 1477.6L1993.5 1405.0" stroke="#ee44ee" stroke-width="1.3" stroke-dasharray="1.6 2.4" fill="none"/><path d="M2038.0 1169.1L2024.1 1565.0M2038.0 1169.1L1675.4 1110.7M2038.0 1169.1L2073.8 1158.9" stroke="#ff2020" stroke-width="1.3" stroke-dasharray="1.6 2.4" fill="none"/>
<path d="M1387.5 1574.6L1367.3 1076.5M1367.3 1076.5L1713.8 1019.2M1713.8 1019.2L1714.5 1450.8M1714.5 1450.8L1387.5 1574.6M1713.8 1019.2L2110.2 1069.3M2110.2 1069.3L2089.4 1555.8M2089.4 1555.8L1714.5 1450.8M1387.5 1574.6L1780.7 1718.9M1780.7 1718.9L2089.4 1555.8M1415.3 1584.8l-8 3.6M1479.7 1608.5l-8 3.6M1547.6 1633.4l-8 3.6M1619.1 1659.6l-8 3.6M1694.6 1687.3l-8 3.6M1774.4 1716.6l-8 3.6M1447.1 1596.5l-4.5 2M1513.2 1620.8l-4.5 2M1582.9 1646.3l-4.5 2M1656.3 1673.3l-4.5 2M1733.9 1701.8l-4.5 2M1805.8 1705.7l8.5 3.2M1852.2 1681.1l8.5 3.2M1896.5 1657.7l8.5 3.2M1938.8 1635.4l8.5 3.2M1979.1 1614.1l8.5 3.2M2017.7 1593.7l8.5 3.2M2054.7 1574.2l8.5 3.2M2090.1 1555.5l8.5 3.2M1385.3 1521.3l-8.5 2M1382.1 1441.0l-8.5 2M1378.7 1359.2l-8.5 2M1375.4 1275.8l-8.5 2M1371.9 1190.8l-8.5 2M1368.4 1104.1l-8.5 2M1386.9 1560.9l-4.5 1M1383.7 1481.3l-4.5 1M1380.4 1400.3l-4.5 1M1377.1 1317.7l-4.5 1M1373.6 1233.5l-4.5 1M1370.2 1147.7l-4.5 1" stroke="#111" stroke-width="1.5" fill="none"/>
<path d="M1449.4 1455.6L1461.1 1450.6L1472.8 1455.6L1461.1 1460.6Z" fill="#9b389b"/><path d="M1449.4 1455.6L1461.1 1460.6L1461.1 1472.6L1449.4 1467.6Z" fill="#800080"/><path d="M1461.1 1460.6L1472.8 1455.6L1472.8 1467.6L1461.1 1472.6Z" fill="#630063"/>
<path d="M1503.4 1490.5L1515.1 1485.5L1526.8 1490.5L1515.1 1495.5Z" fill="#a352f1"/><path d="M1503.4 1490.5L1515.1 1495.5L1515.1 1507.5L1503.4 1502.5Z" fill="#8a22ee"/><path d="M1515.1 1495.5L1526.8 1490.5L1526.8 1502.5L1515.1 1507.5Z" fill="#6b1ab9"/>
<path d="M1640.0 1588.3L1651.7 1583.3L1663.4 1588.3L1651.7 1593.3Z" fill="#3838a2"/><path d="M1640.0 1588.3L1651.7 1593.3L1651.7 1605.3L1640.0 1600.3Z" fill="#000088"/><path d="M1651.7 1593.3L1663.4 1588.3L1663.4 1600.3L1651.7 1605.3Z" fill="#00006a"/>
<path d="M1785.2 1336.1L1796.9 1331.1L1808.6 1336.1L1796.9 1341.1Z" fill="#3f9d3f"/><path d="M1785.2 1336.1L1796.9 1341.1L1796.9 1353.1L1785.2 1348.1Z" fill="#0a820a"/><path d="M1796.9 1341.1L1808.6 1336.1L1808.6 1348.1L1796.9 1353.1Z" fill="#076507"/>
<path d="M1848.7 1381.8L1860.4 1376.8L1872.1 1381.8L1860.4 1386.8Z" fill="#4747f3"/><path d="M1848.7 1381.8L1860.4 1386.8L1860.4 1398.8L1848.7 1393.8Z" fill="#1414f0"/><path d="M1860.4 1386.8L1872.1 1381.8L1872.1 1393.8L1860.4 1398.8Z" fill="#0f0fbb"/>
<path d="M1805.9 1471.6L1817.6 1466.6L1829.3 1471.6L1817.6 1476.6Z" fill="#f152f1"/><path d="M1805.9 1471.6L1817.6 1476.6L1817.6 1488.6L1805.9 1483.6Z" fill="#ee22ee"/><path d="M1817.6 1476.6L1829.3 1471.6L1829.3 1483.6L1817.6 1488.6Z" fill="#b91ab9"/>
<polygon points="2038.6 1138.0 2046.4 1160.8 2070.5 1161.1 2051.2 1175.6 2058.3 1198.6 2038.6 1184.7 2018.9 1198.6 2026.0 1175.6 2006.7 1161.1 2030.8 1160.8" fill="#ff0a0a"/>
<text transform="translate(1953.0 1142.3) scale(1.040 1)" font-size="30.6" text-anchor="start" >This work</text>
<text transform="translate(1360.3 1535.8) scale(1.050 1)" font-size="30.3" text-anchor="end" >600</text>
<text transform="translate(1357.1 1455.5) scale(1.050 1)" font-size="30.3" text-anchor="end" >700</text>
<text transform="translate(1353.7 1373.7) scale(1.050 1)" font-size="30.3" text-anchor="end" >800</text>
<text transform="translate(1350.4 1290.3) scale(1.050 1)" font-size="30.3" text-anchor="end" >900</text>
<text transform="translate(1346.9 1205.3) scale(1.050 1)" font-size="30.3" text-anchor="end" >1,000</text>
<text transform="translate(1343.4 1118.6) scale(1.050 1)" font-size="30.3" text-anchor="end" >1,100</text>
<text transform="translate(1383.9 1623.0) scale(1.050 1)" font-size="30.3" text-anchor="middle" >3.5</text>
<text transform="translate(1452.2 1649.8) scale(1.050 1)" font-size="30.3" text-anchor="middle" >3.0</text>
<text transform="translate(1524.2 1676.7) scale(1.050 1)" font-size="30.3" text-anchor="middle" >2.5</text>
<text transform="translate(1599.3 1705.0) scale(1.050 1)" font-size="30.3" text-anchor="middle" >2.0</text>
<text transform="translate(1672.2 1731.8) scale(1.050 1)" font-size="30.3" text-anchor="middle" >1.5</text>
<text transform="translate(1754.5 1755.5) scale(1.050 1)" font-size="30.3" text-anchor="middle" >1.0</text>
<text transform="translate(1847.8 1731.8) scale(1.050 1)" font-size="30.3" text-anchor="middle" >300</text>
<text transform="translate(1893.8 1705.0) scale(1.050 1)" font-size="30.3" text-anchor="middle" >350</text>
<text transform="translate(1935.5 1680.9) scale(1.050 1)" font-size="30.3" text-anchor="middle" >400</text>
<text transform="translate(1980.1 1658.3) scale(1.050 1)" font-size="30.3" text-anchor="middle" >450</text>
<text transform="translate(2027.4 1637.0) scale(1.050 1)" font-size="30.3" text-anchor="middle" >500</text>
<text transform="translate(2060.7 1614.4) scale(1.050 1)" font-size="30.3" text-anchor="middle" >550</text>
<text transform="translate(2107.4 1591.8) scale(1.050 1)" font-size="30.3" text-anchor="middle" >600</text>
<text transform="translate(2135.7 1567.7) scale(1.050 1)" font-size="30.3" text-anchor="middle" >650</text>
<text transform="translate(1257.0 1358.0) rotate(-92.5) scale(1.050 1)" font-size="30.2" text-anchor="middle" >Volumetric energy density (Wh L<tspan font-size="19.0" dy="-13.0">−1</tspan><tspan dy="13.0">)</tspan></text>
<text transform="translate(1509.0 1742.0) rotate(21) scale(1.050 1)" font-size="30.2" text-anchor="middle" font-style="italic">E/C ratio (g Ah<tspan font-size="19.0" dy="-13.0">−1</tspan><tspan dy="13.0">)</tspan></text>
<text transform="translate(2016.0 1710.0) rotate(-29.5) scale(1.050 1)" font-size="30.2" text-anchor="middle" >Gravimetric energy</text>
<text transform="translate(2045.0 1749.0) rotate(-29.5) scale(1.050 1)" font-size="30.2" text-anchor="middle" >density (Wh kg<tspan font-size="19.0" dy="-13.0">−1</tspan><tspan dy="13.0">)</tspan></text>
</g>
<g font-family="Liberation Sans, sans-serif" fill="#000">
<defs><linearGradient id="eg1" x1="0" x2="1" y1="0" y2="0"><stop offset="0" stop-color="#ff3f3f"/><stop offset="0.06" stop-color="#ff4a4a"/><stop offset="0.5" stop-color="#ffb8b8"/><stop offset="0.94" stop-color="#ff4a4a"/><stop offset="1" stop-color="#ff3f3f"/></linearGradient>
<linearGradient id="eg2" x1="0" x2="1" y1="0" y2="0"><stop offset="0" stop-color="#0c8181"/><stop offset="0.07" stop-color="#128e8e"/><stop offset="0.2" stop-color="#24b9b8"/><stop offset="0.33" stop-color="#3be9e9"/><stop offset="0.42" stop-color="#41ffff"/><stop offset="0.58" stop-color="#41ffff"/><stop offset="0.67" stop-color="#3be9e9"/><stop offset="0.8" stop-color="#24b9b8"/><stop offset="0.93" stop-color="#128e8e"/><stop offset="1" stop-color="#0c8181"/></linearGradient></defs>
<text x="2258" y="1031" font-size="47" font-weight="bold" stroke="#000" stroke-width="3" stroke-linejoin="round" paint-order="stroke">e</text>
<rect x="2494.3" y="1659.2" width="180.6" height="87.3" fill="url(#eg1)"/>
<text transform="translate(2584.6 1636.7) scale(1.070 1)" font-size="35.3" text-anchor="middle" >33.5</text>
<rect x="2674.9" y="1524.0" width="180.6" height="222.5" fill="url(#eg2)"/>
<text transform="translate(2765.2 1501.5) scale(1.070 1)" font-size="35.3" text-anchor="middle" >85.4</text>
<rect x="2946.2" y="1427.1" width="180.7" height="319.4" fill="url(#eg1)"/>
<text transform="translate(3036.6 1404.6) scale(1.070 1)" font-size="35.3" text-anchor="middle" >122.6</text>
<rect x="3126.9" y="1183.8" width="180.6" height="562.7" fill="url(#eg2)"/>
<text transform="translate(3217.2 1161.3) scale(1.070 1)" font-size="35.3" text-anchor="middle" >216.0</text>
<rect x="2449.5" y="1095.2" width="904.0" height="651.3" fill="none" stroke="#1c1c1c" stroke-width="1.6"/>
<path d="M2449.5 1746.5h-12M2449.5 1616.2h-12M2449.5 1486.0h-12M2449.5 1355.7h-12M2449.5 1225.5h-12M2449.5 1095.2h-12M2449.5 1681.4h-6.5M2449.5 1551.1h-6.5M2449.5 1420.8h-6.5M2449.5 1290.6h-6.5M2449.5 1160.3h-6.5M2674.9 1746.5v12M3126.9 1746.5v12M2449.5 1746.5v6M2901.0 1746.5v6M3353.5 1746.5v6" stroke="#1c1c1c" stroke-width="1.6" fill="none"/>
<text transform="translate(2427.0 1759.1) scale(1.055 1)" font-size="36.5" text-anchor="end" >0</text>
<text transform="translate(2427.0 1628.8) scale(1.055 1)" font-size="36.5" text-anchor="end" >50</text>
<text transform="translate(2427.0 1498.6) scale(1.055 1)" font-size="36.5" text-anchor="end" >100</text>
<text transform="translate(2427.0 1368.3) scale(1.055 1)" font-size="36.5" text-anchor="end" >150</text>
<text transform="translate(2427.0 1238.1) scale(1.055 1)" font-size="36.5" text-anchor="end" >200</text>
<text transform="translate(2427.0 1107.8) scale(1.055 1)" font-size="36.5" text-anchor="end" >250</text>
<rect x="2480.9" y="1116.4" width="83" height="40.6" fill="url(#eg1)"/>
<rect x="2480.9" y="1163.1" width="83" height="40.6" fill="url(#eg2)"/>
<text transform="translate(2575.5 1149.0) scale(1.085 1)" font-size="34.8" text-anchor="start" >Liquid electrolyte</text>
<text transform="translate(2575.5 1196.2) scale(1.085 1)" font-size="34.8" text-anchor="start" >PTF-PE-SPE</text>
<text transform="translate(2343.0 1421.0) rotate(-90) scale(1.020 1)" font-size="45.0" text-anchor="middle" >Temperature (°C)</text>
<text transform="translate(2665.0 1806.0) scale(1.060 1)" font-size="46.0" text-anchor="start" ><tspan font-style="italic">T</tspan><tspan font-size="30.5" dy="11.3">onset</tspan></text>
<text transform="translate(3117.0 1806.0) scale(1.060 1)" font-size="46.0" text-anchor="start" ><tspan font-style="italic">T</tspan><tspan font-size="30.5" dy="11.3">tr</tspan></text>
</g>
</svg>
</body></html>
